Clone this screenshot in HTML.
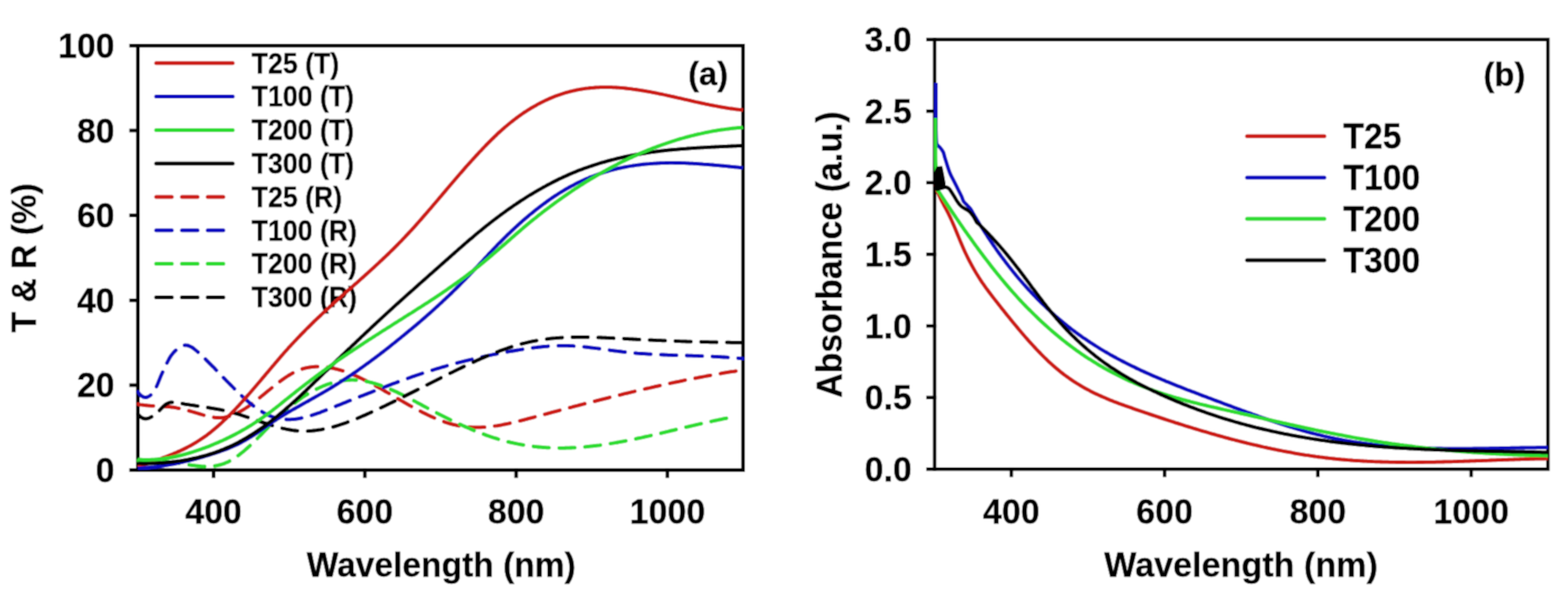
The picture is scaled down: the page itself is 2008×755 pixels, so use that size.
<!DOCTYPE html>
<html><head><meta charset="utf-8"><title>Transmittance, reflectance and absorbance spectra</title>
<style>html,body{margin:0;padding:0;background:#fff;overflow:hidden;}svg{display:block;}</style>
</head><body>
<svg width="2008" height="755" viewBox="0 0 2008 755">
<defs><filter id="soft" x="0" y="0" width="2008" height="755" filterUnits="userSpaceOnUse"><feConvolveMatrix order="3" kernelMatrix="1 2 1 2 4 2 1 2 1" divisor="16" edgeMode="duplicate"/></filter></defs>
<g filter="url(#soft)">
<rect width="2008" height="755" fill="#fff"/>
<defs><clipPath id="ca"><rect x="174.4" y="58.4" width="779.4" height="543.1"/></clipPath>
<clipPath id="cb"><rect x="1193.9" y="50.6" width="788.3" height="549.7"/></clipPath></defs>
<g font-family="Liberation Sans, Arial, Helvetica, sans-serif" font-weight="bold" font-size="34.2" fill="#000" stroke="#000" stroke-width="0.4">
<text transform="translate(322.3,93.5) scale(1,1.065)">T25 (T)</text>
<text transform="translate(322.3,136.3) scale(1,1.065)">T100 (T)</text>
<text transform="translate(322.3,179.1) scale(1,1.065)">T200 (T)</text>
<text transform="translate(322.3,221.9) scale(1,1.065)">T300 (T)</text>
<text transform="translate(322.3,264.7) scale(1,1.065)">T25 (R)</text>
<text transform="translate(322.3,307.5) scale(1,1.065)">T100 (R)</text>
<text transform="translate(322.3,350.3) scale(1,1.065)">T200 (R)</text>
<text transform="translate(322.3,393.1) scale(1,1.065)">T300 (R)</text>
</g>
<line x1="200" y1="80.8" x2="298" y2="80.8" stroke="#cc1a18" stroke-width="5" stroke-linecap="round"/>
<line x1="200" y1="123.6" x2="298" y2="123.6" stroke="#0c0cc0" stroke-width="5" stroke-linecap="round"/>
<line x1="200" y1="166.4" x2="298" y2="166.4" stroke="#2edc30" stroke-width="5" stroke-linecap="round"/>
<line x1="200" y1="209.2" x2="298" y2="209.2" stroke="#000000" stroke-width="5" stroke-linecap="round"/>
<line x1="200" y1="252.0" x2="286" y2="252.0" stroke="#cc1a18" stroke-width="5" stroke-dasharray="20 13" stroke-linecap="round"/>
<line x1="200" y1="294.8" x2="286" y2="294.8" stroke="#0c0cc0" stroke-width="5" stroke-dasharray="20 13" stroke-linecap="round"/>
<line x1="200" y1="337.6" x2="286" y2="337.6" stroke="#2edc30" stroke-width="5" stroke-dasharray="20 13" stroke-linecap="round"/>
<line x1="200" y1="380.4" x2="286" y2="380.4" stroke="#000000" stroke-width="5" stroke-dasharray="20 13" stroke-linecap="round"/>
<g fill="none" stroke="#000" stroke-width="4.7" stroke-linecap="square">
<rect x="176.6" y="58.4" width="775.0" height="543.1"/>
<line x1="168" y1="601.5" x2="176.6" y2="601.5"/>
<line x1="168" y1="492.9" x2="176.6" y2="492.9"/>
<line x1="168" y1="384.3" x2="176.6" y2="384.3"/>
<line x1="168" y1="275.6" x2="176.6" y2="275.6"/>
<line x1="168" y1="167.0" x2="176.6" y2="167.0"/>
<line x1="168" y1="58.4" x2="176.6" y2="58.4"/>
<line x1="273.5" y1="601.5" x2="273.5" y2="609.2"/>
<line x1="467.2" y1="601.5" x2="467.2" y2="609.2"/>
<line x1="661.0" y1="601.5" x2="661.0" y2="609.2"/>
<line x1="854.7" y1="601.5" x2="854.7" y2="609.2"/>
</g>
<g font-family="Liberation Sans, Arial, Helvetica, sans-serif" font-weight="bold" font-size="43.5" fill="#000" stroke="#000" stroke-width="0.4">
<text transform="translate(146.8,617.0) scale(1,1.020)" text-anchor="end">0</text>
<text transform="translate(146.8,508.4) scale(1,1.020)" text-anchor="end">20</text>
<text transform="translate(146.8,399.8) scale(1,1.020)" text-anchor="end">40</text>
<text transform="translate(146.8,291.1) scale(1,1.020)" text-anchor="end">60</text>
<text transform="translate(146.8,182.5) scale(1,1.020)" text-anchor="end">80</text>
<text transform="translate(146.8,73.9) scale(1,1.020)" text-anchor="end">100</text>
<text transform="translate(273.5,670.2) scale(1,1.020)" text-anchor="middle">400</text>
<text transform="translate(467.2,670.2) scale(1,1.020)" text-anchor="middle">600</text>
<text transform="translate(661.0,670.2) scale(1,1.020)" text-anchor="middle">800</text>
<text transform="translate(854.7,670.2) scale(1,1.020)" text-anchor="middle">1000</text>
</g>
<g font-family="Liberation Sans, Arial, Helvetica, sans-serif" font-weight="bold" font-size="43" fill="#000" stroke="#000" stroke-width="0.4">
<text transform="translate(565,738) scale(1,1.03)" text-anchor="middle">Wavelength (nm)</text>
<text transform="translate(46,330) rotate(-90) scale(1,1.05)" text-anchor="middle">T &amp; R (%)</text>
</g>
<g font-family="Liberation Sans, Arial, Helvetica, sans-serif" font-weight="bold" font-size="42" fill="#000" stroke="#000" stroke-width="0.4">
<text x="906.8" y="108.8" text-anchor="middle">(a)</text>
<text x="1926.6" y="110" text-anchor="middle">(b)</text>
</g>
<g fill="none" stroke="#000" stroke-width="4.5" stroke-linecap="square">
<rect x="1196.9" y="50.6" width="785.3" height="549.7"/>
<line x1="1188.5" y1="600.3" x2="1196.9" y2="600.3"/>
<line x1="1188.5" y1="508.7" x2="1196.9" y2="508.7"/>
<line x1="1188.5" y1="417.1" x2="1196.9" y2="417.1"/>
<line x1="1188.5" y1="325.4" x2="1196.9" y2="325.4"/>
<line x1="1188.5" y1="233.8" x2="1196.9" y2="233.8"/>
<line x1="1188.5" y1="142.2" x2="1196.9" y2="142.2"/>
<line x1="1188.5" y1="50.6" x2="1196.9" y2="50.6"/>
<line x1="1295.1" y1="600.3" x2="1295.1" y2="608.2"/>
<line x1="1491.4" y1="600.3" x2="1491.4" y2="608.2"/>
<line x1="1687.7" y1="600.3" x2="1687.7" y2="608.2"/>
<line x1="1884.0" y1="600.3" x2="1884.0" y2="608.2"/>
</g>
<g font-family="Liberation Sans, Arial, Helvetica, sans-serif" font-weight="bold" font-size="43.5" fill="#000" stroke="#000" stroke-width="0.4">
<text transform="translate(1167.8,615.7) scale(1,1.020)" text-anchor="end">0.0</text>
<text transform="translate(1167.8,524.1) scale(1,1.020)" text-anchor="end">0.5</text>
<text transform="translate(1167.8,432.5) scale(1,1.020)" text-anchor="end">1.0</text>
<text transform="translate(1167.8,340.8) scale(1,1.020)" text-anchor="end">1.5</text>
<text transform="translate(1167.8,249.2) scale(1,1.020)" text-anchor="end">2.0</text>
<text transform="translate(1167.8,157.6) scale(1,1.020)" text-anchor="end">2.5</text>
<text transform="translate(1167.8,66.0) scale(1,1.020)" text-anchor="end">3.0</text>
<text transform="translate(1295.1,670.2) scale(1,1.020)" text-anchor="middle">400</text>
<text transform="translate(1491.4,670.2) scale(1,1.020)" text-anchor="middle">600</text>
<text transform="translate(1687.7,670.2) scale(1,1.020)" text-anchor="middle">800</text>
<text transform="translate(1884.0,670.2) scale(1,1.020)" text-anchor="middle">1000</text>
</g>
<g font-family="Liberation Sans, Arial, Helvetica, sans-serif" font-weight="bold" font-size="43" fill="#000" stroke="#000" stroke-width="0.4">
<text transform="translate(1589.3,738) scale(1,1.03)" text-anchor="middle" font-size="43.7">Wavelength (nm)</text>
<text transform="translate(1077.8,325.8) rotate(-90) scale(1,1.05)" text-anchor="middle" font-size="43.4">Absorbance (a.u.)</text>
</g>
<g font-family="Liberation Sans, Arial, Helvetica, sans-serif" font-weight="bold" font-size="43.2" fill="#000" stroke="#000" stroke-width="0.4">
<text transform="translate(1720.3,190.3) scale(1,1.055)">T25</text>
<text transform="translate(1720.3,243.2) scale(1,1.055)">T100</text>
<text transform="translate(1720.3,296.1) scale(1,1.055)">T200</text>
<text transform="translate(1720.3,349.0) scale(1,1.055)">T300</text>
</g>
<line x1="1597" y1="174.3" x2="1696" y2="174.3" stroke="#cc1a18" stroke-width="5" stroke-linecap="round"/>
<line x1="1597" y1="227.2" x2="1696" y2="227.2" stroke="#0c0cc0" stroke-width="5" stroke-linecap="round"/>
<line x1="1597" y1="280.1" x2="1696" y2="280.1" stroke="#2edc30" stroke-width="5" stroke-linecap="round"/>
<line x1="1597" y1="333.0" x2="1696" y2="333.0" stroke="#000000" stroke-width="5" stroke-linecap="round"/>
<g clip-path="url(#ca)" fill="none" stroke-width="4.8" stroke-linejoin="round">
<path d="M176.6,517.2 C177.1,517.3 178.6,517.6 179.6,517.8 C180.6,517.9 181.6,518.1 182.6,518.2 C183.6,518.4 184.6,518.5 185.6,518.6 C186.6,518.7 187.6,518.8 188.6,518.9 C189.6,519.0 190.6,519.1 191.6,519.1 C192.6,519.2 193.6,519.3 194.6,519.3 C195.6,519.4 196.6,519.4 197.6,519.5 C198.6,519.5 199.6,519.6 200.6,519.6 C201.6,519.7 202.6,519.7 203.6,519.8 C204.6,519.8 205.6,519.9 206.6,519.9 C207.6,520.0 208.6,520.0 209.6,520.1 C210.6,520.1 211.6,520.2 212.6,520.3 C213.6,520.4 214.6,520.4 215.7,520.5 C216.7,520.6 217.7,520.7 218.7,520.8 C219.7,521.0 220.7,521.1 221.7,521.2 C222.7,521.4 223.7,521.5 224.7,521.7 C225.7,521.9 226.7,522.1 227.7,522.3 C228.7,522.5 229.7,522.7 230.7,522.9 C231.7,523.1 232.7,523.3 233.7,523.6 C234.7,523.8 235.7,524.1 236.7,524.3 C237.7,524.6 238.7,524.8 239.7,525.1 C240.7,525.4 241.7,525.6 242.7,525.9 C243.7,526.2 244.7,526.5 245.7,526.8 C246.7,527.1 247.7,527.4 248.7,527.6 C249.7,527.9 250.7,528.2 251.7,528.5 C252.7,528.8 253.7,529.1 254.7,529.4 C255.7,529.7 256.7,530.0 257.7,530.3 C258.7,530.6 259.7,530.9 260.7,531.2 C261.7,531.5 262.7,531.7 263.7,532.0 C264.7,532.2 265.7,532.5 266.7,532.7 C267.7,532.9 268.7,533.2 269.7,533.4 C270.7,533.5 271.7,533.7 272.7,533.9 C273.7,534.0 274.7,534.2 275.7,534.3 C276.7,534.4 277.7,534.5 278.7,534.5 C279.7,534.6 280.7,534.6 281.7,534.6 C282.7,534.6 283.7,534.5 284.7,534.4 C285.7,534.3 286.7,534.2 287.7,534.0 C288.7,533.8 289.7,533.6 290.7,533.4 C291.7,533.2 292.7,532.9 293.8,532.6 C294.8,532.3 295.8,532.0 296.8,531.6 C297.8,531.2 298.8,530.8 299.8,530.4 C300.8,530.0 301.8,529.5 302.8,529.1 C303.8,528.6 304.8,528.1 305.8,527.5 C306.8,527.0 307.8,526.5 308.8,525.9 C309.8,525.3 310.8,524.7 311.8,524.1 C312.8,523.5 313.8,522.8 314.8,522.2 C315.8,521.5 316.8,520.9 317.8,520.2 C318.8,519.5 319.8,518.8 320.8,518.0 C321.8,517.3 322.8,516.6 323.8,515.8 C324.8,515.1 325.8,514.3 326.8,513.5 C327.8,512.8 328.8,512.0 329.8,511.2 C330.8,510.4 331.8,509.6 332.8,508.8 C333.8,508.0 334.8,507.2 335.8,506.3 C336.8,505.5 337.8,504.7 338.8,503.9 C339.8,503.1 340.8,502.2 341.8,501.4 C342.8,500.6 343.8,499.8 344.8,499.0 C345.8,498.1 346.8,497.3 347.8,496.5 C348.8,495.7 349.8,494.9 350.8,494.1 C351.8,493.3 352.8,492.5 353.8,491.7 C354.8,490.9 355.8,490.2 356.8,489.4 C357.8,488.6 358.8,487.9 359.8,487.2 C360.8,486.4 361.8,485.7 362.8,485.0 C363.8,484.3 364.8,483.6 365.8,482.9 C366.8,482.3 367.8,481.6 368.8,481.0 C369.8,480.3 370.9,479.7 371.9,479.1 C372.9,478.5 373.9,478.0 374.9,477.4 C375.9,476.9 376.9,476.4 377.9,475.9 C378.9,475.4 379.9,474.9 380.9,474.5 C381.9,474.1 382.9,473.6 383.9,473.3 C384.9,472.9 385.9,472.5 386.9,472.2 C387.9,471.9 388.9,471.6 389.9,471.3 C390.9,471.1 391.9,470.8 392.9,470.6 C393.9,470.4 394.9,470.2 395.9,470.0 C396.9,469.9 397.9,469.7 398.9,469.6 C399.9,469.5 400.9,469.4 401.9,469.3 C402.9,469.3 403.9,469.2 404.9,469.2 C405.9,469.1 406.9,469.1 407.9,469.1 C408.9,469.1 409.9,469.2 410.9,469.2 C411.9,469.3 412.9,469.3 413.9,469.4 C414.9,469.5 415.9,469.6 416.9,469.7 C417.9,469.8 418.9,469.9 419.9,470.1 C420.9,470.2 421.9,470.4 422.9,470.6 C423.9,470.7 424.9,470.9 425.9,471.1 C426.9,471.3 427.9,471.6 428.9,471.8 C429.9,472.0 430.9,472.3 431.9,472.5 C432.9,472.8 433.9,473.1 434.9,473.4 C435.9,473.7 436.9,474.0 437.9,474.3 C438.9,474.6 439.9,474.9 440.9,475.3 C441.9,475.6 442.9,475.9 443.9,476.3 C444.9,476.7 445.9,477.0 446.9,477.4 C448.0,477.8 449.0,478.2 450.0,478.6 C451.0,479.0 452.0,479.4 453.0,479.8 C454.0,480.3 455.0,480.7 456.0,481.1 C457.0,481.6 458.0,482.0 459.0,482.5 C460.0,483.0 461.0,483.4 462.0,483.9 C463.0,484.4 464.0,484.9 465.0,485.4 C466.0,485.8 467.0,486.3 468.0,486.8 C469.0,487.4 470.0,487.9 471.0,488.4 C472.0,488.9 473.0,489.4 474.0,490.0 C475.0,490.5 476.0,491.0 477.0,491.6 C478.0,492.1 479.0,492.6 480.0,493.2 C481.0,493.7 482.0,494.3 483.0,494.9 C484.0,495.4 485.0,496.0 486.0,496.5 C487.0,497.1 488.0,497.7 489.0,498.2 C490.0,498.8 491.0,499.4 492.0,500.0 C493.0,500.5 494.0,501.1 495.0,501.7 C496.0,502.3 497.0,502.9 498.0,503.4 C499.0,504.0 500.0,504.6 501.0,505.2 C502.0,505.8 503.0,506.4 504.0,506.9 C505.0,507.5 506.0,508.1 507.0,508.7 C508.0,509.3 509.0,509.9 510.0,510.5 C511.0,511.0 512.0,511.6 513.0,512.2 C514.0,512.8 515.0,513.4 516.0,513.9 C517.0,514.5 518.0,515.1 519.0,515.7 C520.0,516.2 521.0,516.8 522.0,517.4 C523.0,517.9 524.0,518.5 525.0,519.1 C526.1,519.6 527.1,520.2 528.1,520.7 C529.1,521.3 530.1,521.8 531.1,522.4 C532.1,522.9 533.1,523.5 534.1,524.0 C535.1,524.5 536.1,525.1 537.1,525.6 C538.1,526.1 539.1,526.6 540.1,527.1 C541.1,527.7 542.1,528.2 543.1,528.7 C544.1,529.2 545.1,529.7 546.1,530.1 C547.1,530.6 548.1,531.1 549.1,531.6 C550.1,532.1 551.1,532.5 552.1,533.0 C553.1,533.4 554.1,533.9 555.1,534.3 C556.1,534.8 557.1,535.2 558.1,535.6 C559.1,536.0 560.1,536.4 561.1,536.8 C562.1,537.2 563.1,537.6 564.1,538.0 C565.1,538.4 566.1,538.8 567.1,539.1 C568.1,539.5 569.1,539.8 570.1,540.2 C571.1,540.5 572.1,540.9 573.1,541.2 C574.1,541.5 575.1,541.8 576.1,542.1 C577.1,542.4 578.1,542.7 579.1,542.9 C580.1,543.2 581.1,543.4 582.1,543.7 C583.1,543.9 584.1,544.1 585.1,544.4 C586.1,544.6 587.1,544.8 588.1,545.0 C589.1,545.1 590.1,545.3 591.1,545.5 C592.1,545.6 593.1,545.8 594.1,545.9 C595.1,546.0 596.1,546.1 597.1,546.3 C598.1,546.4 599.1,546.4 600.1,546.5 C601.1,546.6 602.1,546.7 603.2,546.7 C604.2,546.8 605.2,546.8 606.2,546.9 C607.2,546.9 608.2,546.9 609.2,546.9 C610.2,546.9 611.2,546.9 612.2,546.9 C613.2,546.9 614.2,546.9 615.2,546.8 C616.2,546.8 617.2,546.8 618.2,546.7 C619.2,546.6 620.2,546.6 621.2,546.5 C622.2,546.4 623.2,546.4 624.2,546.3 C625.2,546.2 626.2,546.1 627.2,546.0 C628.2,545.9 629.2,545.7 630.2,545.6 C631.2,545.5 632.2,545.4 633.2,545.2 C634.2,545.1 635.2,544.9 636.2,544.8 C637.2,544.6 638.2,544.5 639.2,544.3 C640.2,544.1 641.2,543.9 642.2,543.8 C643.2,543.6 644.2,543.4 645.2,543.2 C646.2,543.0 647.2,542.8 648.2,542.6 C649.2,542.4 650.2,542.2 651.2,542.0 C652.2,541.8 653.2,541.5 654.2,541.3 C655.2,541.1 656.2,540.9 657.2,540.6 C658.2,540.4 659.2,540.2 660.2,539.9 C661.2,539.7 662.2,539.4 663.2,539.2 C664.2,538.9 665.2,538.7 666.2,538.4 C667.2,538.2 668.2,537.9 669.2,537.7 C670.2,537.4 671.2,537.2 672.2,536.9 C673.2,536.6 674.2,536.4 675.2,536.1 C676.2,535.8 677.2,535.6 678.2,535.3 C679.2,535.0 680.2,534.8 681.3,534.5 C682.3,534.2 683.3,534.0 684.3,533.7 C685.3,533.4 686.3,533.2 687.3,532.9 C688.3,532.6 689.3,532.4 690.3,532.1 C691.3,531.8 692.3,531.6 693.3,531.3 C694.3,531.0 695.3,530.8 696.3,530.5 C697.3,530.2 698.3,530.0 699.3,529.7 C700.3,529.4 701.3,529.2 702.3,528.9 C703.3,528.6 704.3,528.4 705.3,528.1 C706.3,527.8 707.3,527.6 708.3,527.3 C709.3,527.0 710.3,526.8 711.3,526.5 C712.3,526.2 713.3,526.0 714.3,525.7 C715.3,525.4 716.3,525.2 717.3,524.9 C718.3,524.6 719.3,524.4 720.3,524.1 C721.3,523.8 722.3,523.6 723.3,523.3 C724.3,523.1 725.3,522.8 726.3,522.5 C727.3,522.3 728.3,522.0 729.3,521.7 C730.3,521.5 731.3,521.2 732.3,521.0 C733.3,520.7 734.3,520.4 735.3,520.2 C736.3,519.9 737.3,519.6 738.3,519.4 C739.3,519.1 740.3,518.9 741.3,518.6 C742.3,518.3 743.3,518.1 744.3,517.8 C745.3,517.6 746.3,517.3 747.3,517.0 C748.3,516.8 749.3,516.5 750.3,516.3 C751.3,516.0 752.3,515.8 753.3,515.5 C754.3,515.2 755.3,515.0 756.3,514.7 C757.3,514.5 758.4,514.2 759.4,514.0 C760.4,513.7 761.4,513.5 762.4,513.2 C763.4,512.9 764.4,512.7 765.4,512.4 C766.4,512.2 767.4,511.9 768.4,511.7 C769.4,511.4 770.4,511.2 771.4,510.9 C772.4,510.7 773.4,510.4 774.4,510.2 C775.4,509.9 776.4,509.7 777.4,509.4 C778.4,509.2 779.4,508.9 780.4,508.7 C781.4,508.4 782.4,508.2 783.4,507.9 C784.4,507.7 785.4,507.4 786.4,507.2 C787.4,506.9 788.4,506.7 789.4,506.4 C790.4,506.2 791.4,505.9 792.4,505.7 C793.4,505.5 794.4,505.2 795.4,505.0 C796.4,504.7 797.4,504.5 798.4,504.2 C799.4,504.0 800.4,503.8 801.4,503.5 C802.4,503.3 803.4,503.0 804.4,502.8 C805.4,502.5 806.4,502.3 807.4,502.1 C808.4,501.8 809.4,501.6 810.4,501.4 C811.4,501.1 812.4,500.9 813.4,500.6 C814.4,500.4 815.4,500.2 816.4,499.9 C817.4,499.7 818.4,499.5 819.4,499.2 C820.4,499.0 821.4,498.8 822.4,498.5 C823.4,498.3 824.4,498.1 825.4,497.8 C826.4,497.6 827.4,497.4 828.4,497.1 C829.4,496.9 830.4,496.7 831.4,496.5 C832.4,496.2 833.4,496.0 834.4,495.8 C835.5,495.6 836.5,495.3 837.5,495.1 C838.5,494.9 839.5,494.7 840.5,494.4 C841.5,494.2 842.5,494.0 843.5,493.8 C844.5,493.5 845.5,493.3 846.5,493.1 C847.5,492.9 848.5,492.7 849.5,492.4 C850.5,492.2 851.5,492.0 852.5,491.8 C853.5,491.6 854.5,491.3 855.5,491.1 C856.5,490.9 857.5,490.7 858.5,490.5 C859.5,490.3 860.5,490.1 861.5,489.8 C862.5,489.6 863.5,489.4 864.5,489.2 C865.5,489.0 866.5,488.8 867.5,488.6 C868.5,488.4 869.5,488.2 870.5,488.0 C871.5,487.8 872.5,487.5 873.5,487.3 C874.5,487.1 875.5,486.9 876.5,486.7 C877.5,486.5 878.5,486.3 879.5,486.1 C880.5,485.9 881.5,485.7 882.5,485.5 C883.5,485.3 884.5,485.1 885.5,484.9 C886.5,484.7 887.5,484.5 888.5,484.3 C889.5,484.1 890.5,483.9 891.5,483.8 C892.5,483.6 893.5,483.4 894.5,483.2 C895.5,483.0 896.5,482.8 897.5,482.6 C898.5,482.4 899.5,482.2 900.5,482.0 C901.5,481.8 902.5,481.7 903.5,481.5 C904.5,481.3 905.5,481.1 906.5,480.9 C907.5,480.7 908.5,480.6 909.5,480.4 C910.5,480.2 911.5,480.0 912.5,479.8 C913.6,479.6 914.6,479.5 915.6,479.3 C916.6,479.1 917.6,478.9 918.6,478.8 C919.6,478.6 920.6,478.4 921.6,478.2 C922.6,478.1 923.6,477.9 924.6,477.7 C925.6,477.6 926.6,477.4 927.6,477.2 C928.6,477.1 929.6,476.9 930.6,476.7 C931.6,476.6 932.6,476.4 933.6,476.2 C934.6,476.1 935.6,475.9 936.6,475.7 C937.6,475.6 938.6,475.4 939.6,475.3 C940.6,475.1 941.6,474.9 942.6,474.8 C943.6,474.6 944.6,474.5 945.6,474.3 C946.6,474.2 947.6,474.0 948.6,473.9 C949.6,473.7 951.1,473.5 951.6,473.4" stroke="#cc1a18" stroke-dasharray="20 13" stroke-linecap="round"/>
<path d="M176.6,501.5 C177.1,502.1 178.6,504.2 179.6,505.2 C180.6,506.2 181.6,506.9 182.6,507.5 C183.6,508.0 184.6,508.3 185.6,508.5 C186.6,508.6 187.6,508.4 188.6,508.1 C189.6,507.8 190.6,507.3 191.6,506.6 C192.6,505.9 193.6,505.0 194.6,503.8 C195.6,502.7 196.6,501.5 197.6,499.9 C198.6,498.3 199.6,496.5 200.6,494.3 C201.6,492.2 202.6,489.5 203.6,487.1 C204.6,484.6 205.6,482.0 206.6,479.8 C207.6,477.5 208.6,475.6 209.6,473.5 C210.6,471.4 211.6,469.3 212.6,467.2 C213.6,465.1 214.6,462.8 215.7,460.9 C216.7,459.0 217.7,457.2 218.7,455.7 C219.7,454.2 220.7,452.9 221.7,451.7 C222.7,450.5 223.7,449.5 224.7,448.6 C225.7,447.7 226.7,446.9 227.7,446.2 C228.7,445.4 229.7,444.8 230.7,444.2 C231.7,443.6 232.7,443.0 233.7,442.6 C234.7,442.2 235.7,442.0 236.7,441.8 C237.7,441.7 238.7,441.8 239.7,442.0 C240.7,442.1 241.7,442.5 242.7,442.9 C243.7,443.3 244.7,443.8 245.7,444.4 C246.7,445.0 247.7,445.8 248.7,446.5 C249.7,447.3 250.7,448.1 251.7,449.0 C252.7,449.8 253.7,450.7 254.7,451.6 C255.7,452.6 256.7,453.5 257.7,454.4 C258.7,455.4 259.7,456.3 260.7,457.3 C261.7,458.2 262.7,459.2 263.7,460.2 C264.7,461.2 265.7,462.2 266.7,463.2 C267.7,464.2 268.7,465.2 269.7,466.2 C270.7,467.2 271.7,468.2 272.7,469.2 C273.7,470.3 274.7,471.3 275.7,472.3 C276.7,473.4 277.7,474.4 278.7,475.4 C279.7,476.5 280.7,477.5 281.7,478.6 C282.7,479.6 283.7,480.6 284.7,481.7 C285.7,482.7 286.7,483.8 287.7,484.8 C288.7,485.8 289.7,486.9 290.7,487.9 C291.7,488.9 292.7,490.0 293.8,491.0 C294.8,492.0 295.8,493.0 296.8,494.0 C297.8,495.1 298.8,496.1 299.8,497.1 C300.8,498.1 301.8,499.1 302.8,500.0 C303.8,501.0 304.8,502.0 305.8,502.9 C306.8,503.9 307.8,504.9 308.8,505.8 C309.8,506.7 310.8,507.7 311.8,508.6 C312.8,509.5 313.8,510.4 314.8,511.3 C315.8,512.1 316.8,513.0 317.8,513.9 C318.8,514.7 319.8,515.5 320.8,516.4 C321.8,517.2 322.8,518.0 323.8,518.8 C324.8,519.5 325.8,520.3 326.8,521.0 C327.8,521.8 328.8,522.5 329.8,523.2 C330.8,523.9 331.8,524.6 332.8,525.2 C333.8,525.9 334.8,526.5 335.8,527.1 C336.8,527.7 337.8,528.3 338.8,528.8 C339.8,529.4 340.8,529.9 341.8,530.4 C342.8,530.9 343.8,531.3 344.8,531.8 C345.8,532.2 346.8,532.6 347.8,533.0 C348.8,533.4 349.8,533.7 350.8,534.0 C351.8,534.3 352.8,534.6 353.8,534.9 C354.8,535.1 355.8,535.4 356.8,535.6 C357.8,535.8 358.8,536.0 359.8,536.1 C360.8,536.3 361.8,536.4 362.8,536.5 C363.8,536.6 364.8,536.7 365.8,536.7 C366.8,536.8 367.8,536.8 368.8,536.8 C369.8,536.8 370.9,536.8 371.9,536.8 C372.9,536.7 373.9,536.7 374.9,536.6 C375.9,536.5 376.9,536.4 377.9,536.3 C378.9,536.2 379.9,536.0 380.9,535.9 C381.9,535.7 382.9,535.6 383.9,535.4 C384.9,535.2 385.9,535.0 386.9,534.8 C387.9,534.6 388.9,534.4 389.9,534.1 C390.9,533.9 391.9,533.6 392.9,533.3 C393.9,533.1 394.9,532.8 395.9,532.5 C396.9,532.2 397.9,531.9 398.9,531.6 C399.9,531.3 400.9,530.9 401.9,530.6 C402.9,530.3 403.9,529.9 404.9,529.6 C405.9,529.2 406.9,528.9 407.9,528.5 C408.9,528.2 409.9,527.8 410.9,527.4 C411.9,527.0 412.9,526.7 413.9,526.3 C414.9,525.9 415.9,525.5 416.9,525.1 C417.9,524.7 418.9,524.3 419.9,523.9 C420.9,523.5 421.9,523.1 422.9,522.7 C423.9,522.3 424.9,521.9 425.9,521.5 C426.9,521.1 427.9,520.7 428.9,520.3 C429.9,519.9 430.9,519.5 431.9,519.1 C432.9,518.7 433.9,518.3 434.9,517.9 C435.9,517.5 436.9,517.1 437.9,516.7 C438.9,516.3 439.9,515.9 440.9,515.5 C441.9,515.1 442.9,514.7 443.9,514.3 C444.9,513.9 445.9,513.5 446.9,513.1 C448.0,512.7 449.0,512.3 450.0,511.9 C451.0,511.5 452.0,511.1 453.0,510.7 C454.0,510.3 455.0,509.9 456.0,509.5 C457.0,509.1 458.0,508.7 459.0,508.3 C460.0,507.9 461.0,507.5 462.0,507.1 C463.0,506.7 464.0,506.3 465.0,505.9 C466.0,505.5 467.0,505.1 468.0,504.7 C469.0,504.3 470.0,503.9 471.0,503.6 C472.0,503.2 473.0,502.8 474.0,502.4 C475.0,502.0 476.0,501.6 477.0,501.2 C478.0,500.8 479.0,500.4 480.0,500.0 C481.0,499.6 482.0,499.2 483.0,498.8 C484.0,498.4 485.0,498.1 486.0,497.7 C487.0,497.3 488.0,496.9 489.0,496.5 C490.0,496.1 491.0,495.7 492.0,495.3 C493.0,495.0 494.0,494.6 495.0,494.2 C496.0,493.8 497.0,493.4 498.0,493.1 C499.0,492.7 500.0,492.3 501.0,491.9 C502.0,491.5 503.0,491.2 504.0,490.8 C505.0,490.4 506.0,490.0 507.0,489.7 C508.0,489.3 509.0,488.9 510.0,488.6 C511.0,488.2 512.0,487.8 513.0,487.5 C514.0,487.1 515.0,486.7 516.0,486.4 C517.0,486.0 518.0,485.7 519.0,485.3 C520.0,484.9 521.0,484.6 522.0,484.2 C523.0,483.9 524.0,483.5 525.0,483.2 C526.1,482.8 527.1,482.5 528.1,482.1 C529.1,481.8 530.1,481.4 531.1,481.1 C532.1,480.7 533.1,480.4 534.1,480.0 C535.1,479.7 536.1,479.4 537.1,479.0 C538.1,478.7 539.1,478.4 540.1,478.0 C541.1,477.7 542.1,477.4 543.1,477.0 C544.1,476.7 545.1,476.4 546.1,476.1 C547.1,475.8 548.1,475.4 549.1,475.1 C550.1,474.8 551.1,474.5 552.1,474.2 C553.1,473.9 554.1,473.5 555.1,473.2 C556.1,472.9 557.1,472.6 558.1,472.3 C559.1,472.0 560.1,471.7 561.1,471.4 C562.1,471.1 563.1,470.8 564.1,470.5 C565.1,470.2 566.1,469.9 567.1,469.6 C568.1,469.3 569.1,469.0 570.1,468.8 C571.1,468.5 572.1,468.2 573.1,467.9 C574.1,467.6 575.1,467.3 576.1,467.1 C577.1,466.8 578.1,466.5 579.1,466.2 C580.1,465.9 581.1,465.7 582.1,465.4 C583.1,465.1 584.1,464.9 585.1,464.6 C586.1,464.3 587.1,464.1 588.1,463.8 C589.1,463.5 590.1,463.3 591.1,463.0 C592.1,462.8 593.1,462.5 594.1,462.3 C595.1,462.0 596.1,461.8 597.1,461.5 C598.1,461.3 599.1,461.0 600.1,460.8 C601.1,460.5 602.1,460.3 603.2,460.0 C604.2,459.8 605.2,459.5 606.2,459.3 C607.2,459.1 608.2,458.8 609.2,458.6 C610.2,458.4 611.2,458.1 612.2,457.9 C613.2,457.7 614.2,457.5 615.2,457.2 C616.2,457.0 617.2,456.8 618.2,456.6 C619.2,456.3 620.2,456.1 621.2,455.9 C622.2,455.7 623.2,455.5 624.2,455.3 C625.2,455.0 626.2,454.8 627.2,454.6 C628.2,454.4 629.2,454.2 630.2,454.0 C631.2,453.8 632.2,453.6 633.2,453.4 C634.2,453.2 635.2,453.0 636.2,452.8 C637.2,452.6 638.2,452.4 639.2,452.2 C640.2,452.0 641.2,451.8 642.2,451.7 C643.2,451.5 644.2,451.3 645.2,451.1 C646.2,450.9 647.2,450.7 648.2,450.5 C649.2,450.4 650.2,450.2 651.2,450.0 C652.2,449.8 653.2,449.7 654.2,449.5 C655.2,449.3 656.2,449.1 657.2,449.0 C658.2,448.8 659.2,448.6 660.2,448.5 C661.2,448.3 662.2,448.1 663.2,448.0 C664.2,447.8 665.2,447.7 666.2,447.5 C667.2,447.4 668.2,447.2 669.2,447.0 C670.2,446.9 671.2,446.7 672.2,446.6 C673.2,446.4 674.2,446.3 675.2,446.1 C676.2,446.0 677.2,445.9 678.2,445.7 C679.2,445.6 680.2,445.4 681.3,445.3 C682.3,445.2 683.3,445.0 684.3,444.9 C685.3,444.8 686.3,444.7 687.3,444.5 C688.3,444.4 689.3,444.3 690.3,444.2 C691.3,444.1 692.3,444.0 693.3,443.8 C694.3,443.7 695.3,443.6 696.3,443.5 C697.3,443.4 698.3,443.4 699.3,443.3 C700.3,443.2 701.3,443.1 702.3,443.0 C703.3,442.9 704.3,442.9 705.3,442.8 C706.3,442.7 707.3,442.7 708.3,442.6 C709.3,442.6 710.3,442.5 711.3,442.5 C712.3,442.4 713.3,442.4 714.3,442.4 C715.3,442.3 716.3,442.3 717.3,442.3 C718.3,442.3 719.3,442.3 720.3,442.3 C721.3,442.3 722.3,442.3 723.3,442.3 C724.3,442.3 725.3,442.3 726.3,442.4 C727.3,442.4 728.3,442.4 729.3,442.5 C730.3,442.5 731.3,442.6 732.3,442.6 C733.3,442.7 734.3,442.7 735.3,442.8 C736.3,442.8 737.3,442.9 738.3,443.0 C739.3,443.1 740.3,443.1 741.3,443.2 C742.3,443.3 743.3,443.4 744.3,443.5 C745.3,443.6 746.3,443.7 747.3,443.8 C748.3,443.9 749.3,444.0 750.3,444.1 C751.3,444.2 752.3,444.3 753.3,444.4 C754.3,444.5 755.3,444.7 756.3,444.8 C757.3,444.9 758.4,445.0 759.4,445.2 C760.4,445.3 761.4,445.4 762.4,445.5 C763.4,445.7 764.4,445.8 765.4,445.9 C766.4,446.1 767.4,446.2 768.4,446.3 C769.4,446.5 770.4,446.6 771.4,446.7 C772.4,446.9 773.4,447.0 774.4,447.1 C775.4,447.3 776.4,447.4 777.4,447.6 C778.4,447.7 779.4,447.8 780.4,448.0 C781.4,448.1 782.4,448.2 783.4,448.4 C784.4,448.5 785.4,448.7 786.4,448.8 C787.4,448.9 788.4,449.0 789.4,449.2 C790.4,449.3 791.4,449.4 792.4,449.6 C793.4,449.7 794.4,449.8 795.4,449.9 C796.4,450.1 797.4,450.2 798.4,450.3 C799.4,450.4 800.4,450.5 801.4,450.6 C802.4,450.7 803.4,450.8 804.4,450.9 C805.4,451.1 806.4,451.2 807.4,451.3 C808.4,451.4 809.4,451.4 810.4,451.5 C811.4,451.6 812.4,451.7 813.4,451.8 C814.4,451.9 815.4,452.0 816.4,452.1 C817.4,452.1 818.4,452.2 819.4,452.3 C820.4,452.4 821.4,452.5 822.4,452.5 C823.4,452.6 824.4,452.7 825.4,452.7 C826.4,452.8 827.4,452.9 828.4,452.9 C829.4,453.0 830.4,453.1 831.4,453.1 C832.4,453.2 833.4,453.2 834.4,453.3 C835.5,453.3 836.5,453.4 837.5,453.5 C838.5,453.5 839.5,453.6 840.5,453.6 C841.5,453.7 842.5,453.7 843.5,453.8 C844.5,453.8 845.5,453.8 846.5,453.9 C847.5,453.9 848.5,454.0 849.5,454.0 C850.5,454.1 851.5,454.1 852.5,454.1 C853.5,454.2 854.5,454.2 855.5,454.3 C856.5,454.3 857.5,454.3 858.5,454.4 C859.5,454.4 860.5,454.4 861.5,454.5 C862.5,454.5 863.5,454.5 864.5,454.6 C865.5,454.6 866.5,454.6 867.5,454.7 C868.5,454.7 869.5,454.7 870.5,454.8 C871.5,454.8 872.5,454.8 873.5,454.9 C874.5,454.9 875.5,454.9 876.5,454.9 C877.5,455.0 878.5,455.0 879.5,455.0 C880.5,455.1 881.5,455.1 882.5,455.1 C883.5,455.2 884.5,455.2 885.5,455.2 C886.5,455.3 887.5,455.3 888.5,455.3 C889.5,455.3 890.5,455.4 891.5,455.4 C892.5,455.4 893.5,455.5 894.5,455.5 C895.5,455.5 896.5,455.6 897.5,455.6 C898.5,455.7 899.5,455.7 900.5,455.7 C901.5,455.8 902.5,455.8 903.5,455.8 C904.5,455.9 905.5,455.9 906.5,456.0 C907.5,456.0 908.5,456.0 909.5,456.1 C910.5,456.1 911.5,456.2 912.5,456.2 C913.6,456.3 914.6,456.3 915.6,456.4 C916.6,456.4 917.6,456.5 918.6,456.5 C919.6,456.6 920.6,456.6 921.6,456.7 C922.6,456.7 923.6,456.8 924.6,456.8 C925.6,456.9 926.6,457.0 927.6,457.0 C928.6,457.1 929.6,457.1 930.6,457.2 C931.6,457.3 932.6,457.3 933.6,457.4 C934.6,457.5 935.6,457.6 936.6,457.6 C937.6,457.7 938.6,457.8 939.6,457.9 C940.6,457.9 941.6,458.0 942.6,458.1 C943.6,458.2 944.6,458.3 945.6,458.4 C946.6,458.5 947.6,458.6 948.6,458.6 C949.6,458.7 951.1,458.9 951.6,458.9" stroke="#0c0cc0" stroke-dasharray="20 13" stroke-linecap="round"/>
<path d="M176.6,589.4 C177.1,589.4 178.6,589.3 179.6,589.3 C180.6,589.2 181.6,589.2 182.6,589.1 C183.6,589.1 184.6,589.1 185.6,589.1 C186.6,589.1 187.6,589.1 188.6,589.1 C189.6,589.1 190.6,589.1 191.6,589.1 C192.6,589.1 193.6,589.2 194.6,589.2 C195.6,589.2 196.6,589.3 197.6,589.3 C198.6,589.4 199.6,589.5 200.6,589.5 C201.6,589.6 202.6,589.7 203.6,589.8 C204.6,589.8 205.6,589.9 206.6,590.0 C207.6,590.1 208.6,590.2 209.6,590.3 C210.6,590.4 211.6,590.5 212.6,590.6 C213.6,590.8 214.6,590.9 215.6,591.0 C216.6,591.1 217.6,591.2 218.6,591.4 C219.6,591.5 220.6,591.6 221.6,591.8 C222.6,591.9 223.6,592.0 224.6,592.2 C225.6,592.3 226.6,592.5 227.6,592.6 C228.6,592.8 229.6,592.9 230.6,593.1 C231.6,593.2 232.6,593.4 233.6,593.5 C234.6,593.7 235.6,593.8 236.6,594.0 C237.6,594.1 238.6,594.3 239.6,594.4 C240.6,594.6 241.6,594.7 242.6,594.9 C243.6,595.0 244.6,595.2 245.6,595.3 C246.6,595.5 247.6,595.6 248.6,595.7 C249.6,595.9 250.6,596.0 251.6,596.1 C252.6,596.2 253.6,596.3 254.6,596.4 C255.6,596.5 256.6,596.6 257.6,596.7 C258.6,596.7 259.6,596.8 260.6,596.9 C261.6,596.9 262.6,596.9 263.6,596.9 C264.6,597.0 265.6,596.9 266.6,596.9 C267.6,596.9 268.6,596.9 269.6,596.8 C270.6,596.7 271.6,596.6 272.6,596.5 C273.6,596.4 274.6,596.3 275.6,596.2 C276.6,596.0 277.6,595.8 278.6,595.6 C279.6,595.4 280.6,595.2 281.6,594.9 C282.6,594.6 283.6,594.4 284.6,594.0 C285.6,593.7 286.6,593.4 287.6,593.0 C288.6,592.6 289.6,592.2 290.6,591.7 C291.6,591.3 292.6,590.8 293.6,590.2 C294.6,589.7 295.6,589.2 296.6,588.6 C297.6,588.0 298.6,587.4 299.6,586.7 C300.6,586.1 301.6,585.4 302.6,584.7 C303.6,584.0 304.6,583.3 305.6,582.6 C306.6,581.8 307.6,581.0 308.6,580.2 C309.6,579.4 310.6,578.6 311.6,577.8 C312.6,577.0 313.6,576.1 314.6,575.2 C315.6,574.4 316.6,573.5 317.6,572.6 C318.6,571.7 319.6,570.7 320.6,569.8 C321.6,568.9 322.6,567.9 323.6,566.9 C324.6,566.0 325.6,565.0 326.6,564.0 C327.6,563.0 328.6,562.1 329.6,561.1 C330.6,560.1 331.6,559.1 332.6,558.0 C333.6,557.0 334.6,556.0 335.6,555.0 C336.6,554.0 337.6,553.0 338.6,551.9 C339.6,550.9 340.6,549.9 341.6,548.9 C342.6,547.8 343.6,546.8 344.6,545.8 C345.6,544.8 346.6,543.8 347.6,542.8 C348.6,541.8 349.6,540.7 350.6,539.8 C351.6,538.8 352.6,537.8 353.6,536.8 C354.6,535.8 355.6,534.8 356.6,533.9 C357.6,532.9 358.6,532.0 359.6,531.0 C360.6,530.1 361.6,529.2 362.6,528.3 C363.6,527.4 364.6,526.5 365.6,525.6 C366.6,524.7 367.6,523.9 368.6,523.0 C369.6,522.2 370.6,521.3 371.6,520.5 C372.6,519.7 373.6,518.8 374.6,518.0 C375.6,517.2 376.6,516.5 377.6,515.7 C378.6,514.9 379.6,514.2 380.6,513.4 C381.6,512.7 382.6,511.9 383.6,511.2 C384.6,510.5 385.6,509.8 386.6,509.1 C387.6,508.4 388.6,507.8 389.6,507.1 C390.6,506.4 391.6,505.8 392.6,505.2 C393.6,504.5 394.6,503.9 395.6,503.3 C396.6,502.7 397.6,502.1 398.6,501.6 C399.6,501.0 400.6,500.4 401.6,499.9 C402.6,499.3 403.6,498.8 404.6,498.3 C405.6,497.8 406.6,497.3 407.6,496.8 C408.6,496.3 409.6,495.9 410.6,495.4 C411.6,495.0 412.6,494.6 413.6,494.1 C414.6,493.7 415.6,493.3 416.6,492.9 C417.6,492.5 418.6,492.2 419.6,491.8 C420.6,491.5 421.6,491.1 422.6,490.8 C423.6,490.5 424.6,490.2 425.6,489.9 C426.6,489.6 427.6,489.3 428.6,489.1 C429.6,488.8 430.6,488.6 431.6,488.4 C432.6,488.1 433.6,487.9 434.6,487.7 C435.6,487.6 436.6,487.4 437.6,487.2 C438.6,487.1 439.6,486.9 440.6,486.8 C441.6,486.7 442.6,486.6 443.6,486.5 C444.6,486.4 445.6,486.4 446.6,486.3 C447.6,486.3 448.6,486.2 449.6,486.2 C450.6,486.2 451.6,486.2 452.6,486.2 C453.6,486.2 454.6,486.3 455.6,486.3 C456.6,486.4 457.6,486.5 458.6,486.6 C459.6,486.6 460.6,486.7 461.6,486.9 C462.6,487.0 463.6,487.1 464.6,487.3 C465.6,487.4 466.6,487.6 467.6,487.8 C468.6,488.0 469.6,488.2 470.6,488.4 C471.6,488.6 472.6,488.8 473.6,489.1 C474.6,489.3 475.6,489.6 476.6,489.8 C477.6,490.1 478.6,490.4 479.6,490.7 C480.6,490.9 481.6,491.3 482.6,491.6 C483.6,491.9 484.6,492.2 485.6,492.5 C486.6,492.9 487.6,493.2 488.6,493.6 C489.6,494.0 490.6,494.3 491.6,494.7 C492.6,495.1 493.6,495.5 494.6,495.9 C495.6,496.3 496.6,496.7 497.6,497.1 C498.6,497.5 499.6,497.9 500.6,498.4 C501.6,498.8 502.6,499.3 503.6,499.7 C504.6,500.1 505.6,500.6 506.6,501.1 C507.6,501.5 508.6,502.0 509.6,502.5 C510.6,503.0 511.6,503.4 512.6,503.9 C513.6,504.4 514.6,504.9 515.6,505.4 C516.6,505.9 517.6,506.4 518.6,506.9 C519.6,507.4 520.6,507.9 521.6,508.4 C522.6,509.0 523.6,509.5 524.6,510.0 C525.6,510.5 526.6,511.1 527.6,511.6 C528.6,512.1 529.6,512.6 530.6,513.2 C531.6,513.7 532.6,514.2 533.6,514.8 C534.6,515.3 535.6,515.9 536.6,516.4 C537.6,516.9 538.6,517.5 539.6,518.0 C540.6,518.5 541.6,519.1 542.6,519.6 C543.6,520.2 544.6,520.7 545.6,521.2 C546.6,521.8 547.6,522.3 548.6,522.8 C549.6,523.4 550.6,523.9 551.6,524.4 C552.6,525.0 553.6,525.5 554.6,526.0 C555.6,526.5 556.6,527.1 557.6,527.6 C558.6,528.1 559.6,528.6 560.6,529.1 C561.6,529.6 562.6,530.2 563.6,530.7 C564.6,531.2 565.6,531.7 566.6,532.2 C567.6,532.7 568.6,533.2 569.6,533.7 C570.6,534.2 571.6,534.7 572.6,535.2 C573.6,535.7 574.6,536.2 575.6,536.7 C576.6,537.2 577.6,537.6 578.6,538.1 C579.6,538.6 580.6,539.1 581.6,539.6 C582.6,540.0 583.6,540.5 584.6,541.0 C585.6,541.4 586.6,541.9 587.6,542.4 C588.6,542.8 589.6,543.3 590.6,543.7 C591.6,544.2 592.6,544.6 593.6,545.1 C594.6,545.5 595.6,546.0 596.6,546.4 C597.6,546.9 598.6,547.3 599.6,547.7 C600.6,548.2 601.6,548.6 602.6,549.0 C603.6,549.4 604.6,549.8 605.6,550.3 C606.6,550.7 607.6,551.1 608.6,551.5 C609.6,551.9 610.6,552.3 611.6,552.7 C612.6,553.1 613.6,553.5 614.6,553.8 C615.6,554.2 616.6,554.6 617.6,555.0 C618.6,555.4 619.6,555.7 620.6,556.1 C621.6,556.4 622.6,556.8 623.6,557.2 C624.6,557.5 625.6,557.9 626.6,558.2 C627.6,558.6 628.6,558.9 629.6,559.2 C630.6,559.6 631.6,559.9 632.6,560.2 C633.6,560.5 634.6,560.8 635.6,561.1 C636.6,561.5 637.6,561.8 638.6,562.1 C639.6,562.4 640.6,562.6 641.6,562.9 C642.6,563.2 643.6,563.5 644.6,563.8 C645.6,564.0 646.6,564.3 647.6,564.6 C648.6,564.8 649.6,565.1 650.6,565.3 C651.6,565.6 652.6,565.8 653.6,566.1 C654.6,566.3 655.6,566.5 656.6,566.7 C657.6,567.0 658.6,567.2 659.6,567.4 C660.6,567.6 661.6,567.8 662.6,568.0 C663.6,568.2 664.6,568.4 665.6,568.6 C666.6,568.8 667.6,569.0 668.6,569.1 C669.6,569.3 670.6,569.5 671.6,569.6 C672.6,569.8 673.6,570.0 674.6,570.1 C675.6,570.3 676.6,570.4 677.6,570.6 C678.6,570.7 679.6,570.8 680.6,571.0 C681.6,571.1 682.6,571.2 683.6,571.3 C684.6,571.5 685.6,571.6 686.6,571.7 C687.6,571.8 688.6,571.9 689.6,572.0 C690.6,572.1 691.6,572.2 692.6,572.2 C693.6,572.3 694.6,572.4 695.6,572.5 C696.6,572.6 697.6,572.6 698.6,572.7 C699.6,572.8 700.6,572.8 701.6,572.9 C702.6,572.9 703.6,573.0 704.6,573.0 C705.6,573.1 706.6,573.1 707.6,573.1 C708.6,573.2 709.6,573.2 710.6,573.2 C711.6,573.2 712.6,573.3 713.6,573.3 C714.6,573.3 715.6,573.3 716.6,573.3 C717.6,573.3 718.6,573.3 719.6,573.3 C720.6,573.3 721.6,573.3 722.6,573.3 C723.6,573.3 724.6,573.2 725.6,573.2 C726.6,573.2 727.6,573.2 728.6,573.1 C729.6,573.1 730.6,573.1 731.6,573.0 C732.6,573.0 733.6,572.9 734.6,572.9 C735.6,572.8 736.6,572.8 737.6,572.7 C738.6,572.6 739.6,572.6 740.6,572.5 C741.6,572.4 742.6,572.4 743.6,572.3 C744.6,572.2 745.6,572.1 746.6,572.1 C747.6,572.0 748.6,571.9 749.6,571.8 C750.6,571.7 751.6,571.6 752.6,571.5 C753.6,571.4 754.6,571.3 755.6,571.2 C756.6,571.1 757.6,571.0 758.6,570.9 C759.6,570.8 760.6,570.6 761.6,570.5 C762.6,570.4 763.6,570.3 764.6,570.1 C765.6,570.0 766.6,569.9 767.6,569.8 C768.6,569.6 769.6,569.5 770.6,569.3 C771.6,569.2 772.6,569.1 773.6,568.9 C774.6,568.8 775.6,568.6 776.6,568.5 C777.6,568.3 778.6,568.2 779.6,568.0 C780.6,567.8 781.6,567.7 782.6,567.5 C783.6,567.3 784.6,567.2 785.6,567.0 C786.6,566.8 787.6,566.7 788.6,566.5 C789.6,566.3 790.6,566.1 791.6,566.0 C792.6,565.8 793.6,565.6 794.6,565.4 C795.6,565.2 796.6,565.0 797.6,564.9 C798.6,564.7 799.6,564.5 800.6,564.3 C801.6,564.1 802.6,563.9 803.6,563.7 C804.6,563.5 805.6,563.3 806.6,563.1 C807.6,562.9 808.6,562.7 809.6,562.5 C810.6,562.3 811.6,562.1 812.6,561.9 C813.6,561.7 814.6,561.5 815.6,561.2 C816.6,561.0 817.6,560.8 818.6,560.6 C819.6,560.4 820.6,560.2 821.6,560.0 C822.6,559.7 823.6,559.5 824.6,559.3 C825.6,559.1 826.6,558.8 827.6,558.6 C828.6,558.4 829.6,558.2 830.6,558.0 C831.6,557.7 832.6,557.5 833.6,557.3 C834.6,557.0 835.6,556.8 836.6,556.6 C837.6,556.4 838.6,556.1 839.6,555.9 C840.6,555.7 841.6,555.4 842.6,555.2 C843.6,555.0 844.6,554.7 845.6,554.5 C846.6,554.3 847.6,554.0 848.6,553.8 C849.6,553.5 850.6,553.3 851.6,553.1 C852.6,552.8 853.6,552.6 854.6,552.4 C855.6,552.1 856.6,551.9 857.6,551.6 C858.6,551.4 859.6,551.2 860.6,550.9 C861.6,550.7 862.6,550.4 863.6,550.2 C864.6,550.0 865.6,549.7 866.6,549.5 C867.6,549.2 868.6,549.0 869.6,548.8 C870.6,548.5 871.6,548.3 872.6,548.0 C873.6,547.8 874.6,547.6 875.6,547.3 C876.6,547.1 877.6,546.9 878.6,546.6 C879.6,546.4 880.6,546.1 881.6,545.9 C882.6,545.7 883.6,545.4 884.6,545.2 C885.6,545.0 886.6,544.7 887.6,544.5 C888.6,544.3 889.6,544.0 890.6,543.8 C891.6,543.6 892.6,543.3 893.6,543.1 C894.6,542.9 895.6,542.6 896.6,542.4 C897.6,542.2 898.6,542.0 899.6,541.7 C900.6,541.5 901.6,541.3 902.6,541.1 C903.6,540.8 904.6,540.6 905.6,540.4 C906.6,540.2 907.6,539.9 908.6,539.7 C909.6,539.5 910.6,539.3 911.6,539.1 C912.6,538.9 913.6,538.6 914.6,538.4 C915.6,538.2 916.6,538.0 917.6,537.8 C918.6,537.6 919.6,537.4 920.6,537.2 C921.6,537.0 922.6,536.8 923.6,536.6 C924.6,536.3 925.6,536.1 926.6,535.9 C927.6,535.8 928.6,535.6 929.6,535.4 C930.6,535.2 931.6,535.0 932.6,534.8 C933.6,534.6 934.6,534.4 935.6,534.2 C936.6,534.0 937.6,533.9 938.6,533.7 C939.6,533.5 941.1,533.2 941.6,533.1" stroke="#2edc30" stroke-dasharray="20 13" stroke-linecap="round"/>
<path d="M176.6,530.0 C177.1,530.5 178.6,532.3 179.6,533.2 C180.6,534.0 181.6,534.6 182.6,535.0 C183.6,535.5 184.6,535.7 185.6,535.8 C186.6,535.9 187.6,535.8 188.6,535.6 C189.6,535.4 190.6,535.1 191.6,534.7 C192.6,534.2 193.6,533.7 194.6,533.1 C195.6,532.5 196.6,531.7 197.6,531.0 C198.6,530.2 199.6,529.4 200.6,528.6 C201.6,527.7 202.6,526.8 203.6,525.8 C204.6,524.8 205.6,523.8 206.6,522.8 C207.6,521.8 208.6,520.7 209.6,519.8 C210.6,518.9 211.6,518.0 212.6,517.3 C213.6,516.6 214.6,516.0 215.7,515.7 C216.7,515.3 217.7,515.1 218.7,514.9 C219.7,514.8 220.7,514.8 221.7,514.8 C222.7,514.8 223.7,514.9 224.7,515.1 C225.7,515.2 226.7,515.3 227.7,515.5 C228.7,515.6 229.7,515.8 230.7,516.0 C231.7,516.2 232.7,516.4 233.7,516.5 C234.7,516.7 235.7,516.9 236.7,517.1 C237.7,517.2 238.7,517.4 239.7,517.5 C240.7,517.7 241.7,517.9 242.7,518.0 C243.7,518.2 244.7,518.3 245.7,518.5 C246.7,518.6 247.7,518.8 248.7,518.9 C249.7,519.1 250.7,519.2 251.7,519.4 C252.7,519.5 253.7,519.7 254.7,519.8 C255.7,520.0 256.7,520.1 257.7,520.3 C258.7,520.4 259.7,520.5 260.7,520.7 C261.7,520.8 262.7,521.0 263.7,521.1 C264.7,521.3 265.7,521.5 266.7,521.6 C267.7,521.8 268.7,521.9 269.7,522.1 C270.7,522.3 271.7,522.4 272.7,522.6 C273.7,522.8 274.7,522.9 275.7,523.1 C276.7,523.3 277.7,523.5 278.7,523.7 C279.7,523.8 280.7,524.0 281.7,524.2 C282.7,524.4 283.7,524.6 284.7,524.8 C285.7,525.0 286.7,525.3 287.7,525.5 C288.7,525.7 289.7,525.9 290.7,526.2 C291.7,526.4 292.7,526.6 293.8,526.9 C294.8,527.1 295.8,527.4 296.8,527.7 C297.8,527.9 298.8,528.2 299.8,528.5 C300.8,528.8 301.8,529.1 302.8,529.4 C303.8,529.7 304.8,530.0 305.8,530.3 C306.8,530.6 307.8,530.9 308.8,531.2 C309.8,531.5 310.8,531.9 311.8,532.2 C312.8,532.5 313.8,532.8 314.8,533.2 C315.8,533.5 316.8,533.8 317.8,534.2 C318.8,534.5 319.8,534.9 320.8,535.2 C321.8,535.5 322.8,535.9 323.8,536.2 C324.8,536.6 325.8,536.9 326.8,537.3 C327.8,537.6 328.8,538.0 329.8,538.3 C330.8,538.7 331.8,539.0 332.8,539.4 C333.8,539.7 334.8,540.0 335.8,540.4 C336.8,540.7 337.8,541.0 338.8,541.4 C339.8,541.7 340.8,542.0 341.8,542.4 C342.8,542.7 343.8,543.0 344.8,543.3 C345.8,543.7 346.8,544.0 347.8,544.3 C348.8,544.6 349.8,544.9 350.8,545.2 C351.8,545.5 352.8,545.8 353.8,546.0 C354.8,546.3 355.8,546.6 356.8,546.9 C357.8,547.1 358.8,547.4 359.8,547.6 C360.8,547.9 361.8,548.1 362.8,548.3 C363.8,548.6 364.8,548.8 365.8,549.0 C366.8,549.2 367.8,549.4 368.8,549.6 C369.8,549.8 370.9,550.0 371.9,550.1 C372.9,550.3 373.9,550.4 374.9,550.6 C375.9,550.7 376.9,550.9 377.9,551.0 C378.9,551.1 379.9,551.2 380.9,551.3 C381.9,551.3 382.9,551.4 383.9,551.5 C384.9,551.5 385.9,551.6 386.9,551.6 C387.9,551.6 388.9,551.6 389.9,551.6 C390.9,551.6 391.9,551.6 392.9,551.6 C393.9,551.6 394.9,551.5 395.9,551.5 C396.9,551.4 397.9,551.4 398.9,551.3 C399.9,551.2 400.9,551.1 401.9,551.0 C402.9,550.9 403.9,550.8 404.9,550.7 C405.9,550.5 406.9,550.4 407.9,550.2 C408.9,550.1 409.9,549.9 410.9,549.8 C411.9,549.6 412.9,549.4 413.9,549.2 C414.9,549.0 415.9,548.8 416.9,548.6 C417.9,548.4 418.9,548.2 419.9,547.9 C420.9,547.7 421.9,547.5 422.9,547.2 C423.9,547.0 424.9,546.7 425.9,546.4 C426.9,546.2 427.9,545.9 428.9,545.6 C429.9,545.3 430.9,545.0 431.9,544.7 C432.9,544.4 433.9,544.1 434.9,543.8 C435.9,543.4 436.9,543.1 437.9,542.8 C438.9,542.4 439.9,542.1 440.9,541.7 C441.9,541.4 442.9,541.0 443.9,540.7 C444.9,540.3 445.9,539.9 446.9,539.6 C448.0,539.2 449.0,538.8 450.0,538.4 C451.0,538.0 452.0,537.6 453.0,537.2 C454.0,536.8 455.0,536.4 456.0,536.0 C457.0,535.6 458.0,535.2 459.0,534.8 C460.0,534.4 461.0,533.9 462.0,533.5 C463.0,533.1 464.0,532.7 465.0,532.2 C466.0,531.8 467.0,531.3 468.0,530.9 C469.0,530.5 470.0,530.0 471.0,529.6 C472.0,529.1 473.0,528.7 474.0,528.2 C475.0,527.7 476.0,527.3 477.0,526.8 C478.0,526.4 479.0,525.9 480.0,525.4 C481.0,525.0 482.0,524.5 483.0,524.0 C484.0,523.6 485.0,523.1 486.0,522.6 C487.0,522.2 488.0,521.7 489.0,521.2 C490.0,520.7 491.0,520.3 492.0,519.8 C493.0,519.3 494.0,518.8 495.0,518.3 C496.0,517.9 497.0,517.4 498.0,516.9 C499.0,516.4 500.0,515.9 501.0,515.4 C502.0,514.9 503.0,514.5 504.0,514.0 C505.0,513.5 506.0,513.0 507.0,512.5 C508.0,512.0 509.0,511.5 510.0,511.0 C511.0,510.5 512.0,510.0 513.0,509.5 C514.0,509.0 515.0,508.5 516.0,508.0 C517.0,507.5 518.0,507.0 519.0,506.5 C520.0,506.0 521.0,505.5 522.0,505.0 C523.0,504.5 524.0,504.0 525.0,503.5 C526.1,503.0 527.1,502.5 528.1,502.0 C529.1,501.5 530.1,501.0 531.1,500.5 C532.1,500.0 533.1,499.5 534.1,499.0 C535.1,498.5 536.1,498.0 537.1,497.5 C538.1,497.0 539.1,496.5 540.1,496.0 C541.1,495.5 542.1,495.0 543.1,494.4 C544.1,493.9 545.1,493.4 546.1,492.9 C547.1,492.4 548.1,491.9 549.1,491.4 C550.1,490.9 551.1,490.4 552.1,489.9 C553.1,489.4 554.1,488.9 555.1,488.4 C556.1,487.9 557.1,487.4 558.1,486.9 C559.1,486.4 560.1,485.8 561.1,485.3 C562.1,484.8 563.1,484.3 564.1,483.8 C565.1,483.3 566.1,482.8 567.1,482.3 C568.1,481.8 569.1,481.3 570.1,480.8 C571.1,480.3 572.1,479.8 573.1,479.3 C574.1,478.8 575.1,478.3 576.1,477.8 C577.1,477.3 578.1,476.8 579.1,476.3 C580.1,475.8 581.1,475.4 582.1,474.9 C583.1,474.4 584.1,473.9 585.1,473.4 C586.1,472.9 587.1,472.4 588.1,471.9 C589.1,471.4 590.1,471.0 591.1,470.5 C592.1,470.0 593.1,469.5 594.1,469.0 C595.1,468.5 596.1,468.1 597.1,467.6 C598.1,467.1 599.1,466.6 600.1,466.2 C601.1,465.7 602.1,465.2 603.2,464.8 C604.2,464.3 605.2,463.8 606.2,463.4 C607.2,462.9 608.2,462.5 609.2,462.0 C610.2,461.5 611.2,461.1 612.2,460.6 C613.2,460.2 614.2,459.7 615.2,459.3 C616.2,458.9 617.2,458.4 618.2,458.0 C619.2,457.5 620.2,457.1 621.2,456.7 C622.2,456.3 623.2,455.8 624.2,455.4 C625.2,455.0 626.2,454.6 627.2,454.2 C628.2,453.7 629.2,453.3 630.2,452.9 C631.2,452.5 632.2,452.1 633.2,451.7 C634.2,451.3 635.2,450.9 636.2,450.6 C637.2,450.2 638.2,449.8 639.2,449.4 C640.2,449.0 641.2,448.7 642.2,448.3 C643.2,447.9 644.2,447.6 645.2,447.2 C646.2,446.8 647.2,446.5 648.2,446.2 C649.2,445.8 650.2,445.5 651.2,445.1 C652.2,444.8 653.2,444.5 654.2,444.1 C655.2,443.8 656.2,443.5 657.2,443.2 C658.2,442.9 659.2,442.6 660.2,442.3 C661.2,442.0 662.2,441.7 663.2,441.4 C664.2,441.1 665.2,440.8 666.2,440.5 C667.2,440.3 668.2,440.0 669.2,439.7 C670.2,439.5 671.2,439.2 672.2,439.0 C673.2,438.7 674.2,438.5 675.2,438.3 C676.2,438.0 677.2,437.8 678.2,437.6 C679.2,437.4 680.2,437.1 681.3,436.9 C682.3,436.7 683.3,436.5 684.3,436.3 C685.3,436.2 686.3,436.0 687.3,435.8 C688.3,435.6 689.3,435.4 690.3,435.3 C691.3,435.1 692.3,434.9 693.3,434.8 C694.3,434.6 695.3,434.5 696.3,434.4 C697.3,434.2 698.3,434.1 699.3,433.9 C700.3,433.8 701.3,433.7 702.3,433.6 C703.3,433.5 704.3,433.3 705.3,433.2 C706.3,433.1 707.3,433.0 708.3,432.9 C709.3,432.8 710.3,432.7 711.3,432.7 C712.3,432.6 713.3,432.5 714.3,432.4 C715.3,432.3 716.3,432.3 717.3,432.2 C718.3,432.1 719.3,432.1 720.3,432.0 C721.3,431.9 722.3,431.9 723.3,431.8 C724.3,431.8 725.3,431.8 726.3,431.7 C727.3,431.7 728.3,431.6 729.3,431.6 C730.3,431.6 731.3,431.5 732.3,431.5 C733.3,431.5 734.3,431.5 735.3,431.5 C736.3,431.4 737.3,431.4 738.3,431.4 C739.3,431.4 740.3,431.4 741.3,431.4 C742.3,431.4 743.3,431.4 744.3,431.4 C745.3,431.4 746.3,431.4 747.3,431.4 C748.3,431.4 749.3,431.4 750.3,431.4 C751.3,431.4 752.3,431.5 753.3,431.5 C754.3,431.5 755.3,431.5 756.3,431.5 C757.3,431.6 758.4,431.6 759.4,431.6 C760.4,431.7 761.4,431.7 762.4,431.7 C763.4,431.7 764.4,431.8 765.4,431.8 C766.4,431.9 767.4,431.9 768.4,431.9 C769.4,432.0 770.4,432.0 771.4,432.1 C772.4,432.1 773.4,432.1 774.4,432.2 C775.4,432.2 776.4,432.3 777.4,432.3 C778.4,432.4 779.4,432.4 780.4,432.5 C781.4,432.5 782.4,432.6 783.4,432.6 C784.4,432.7 785.4,432.7 786.4,432.8 C787.4,432.8 788.4,432.9 789.4,432.9 C790.4,433.0 791.4,433.0 792.4,433.1 C793.4,433.1 794.4,433.2 795.4,433.3 C796.4,433.3 797.4,433.4 798.4,433.4 C799.4,433.5 800.4,433.5 801.4,433.6 C802.4,433.6 803.4,433.7 804.4,433.7 C805.4,433.8 806.4,433.8 807.4,433.9 C808.4,433.9 809.4,434.0 810.4,434.0 C811.4,434.1 812.4,434.1 813.4,434.2 C814.4,434.2 815.4,434.3 816.4,434.3 C817.4,434.4 818.4,434.4 819.4,434.5 C820.4,434.5 821.4,434.6 822.4,434.6 C823.4,434.7 824.4,434.7 825.4,434.8 C826.4,434.8 827.4,434.9 828.4,434.9 C829.4,435.0 830.4,435.0 831.4,435.1 C832.4,435.1 833.4,435.2 834.4,435.2 C835.5,435.3 836.5,435.3 837.5,435.3 C838.5,435.4 839.5,435.4 840.5,435.5 C841.5,435.5 842.5,435.6 843.5,435.6 C844.5,435.6 845.5,435.7 846.5,435.7 C847.5,435.8 848.5,435.8 849.5,435.9 C850.5,435.9 851.5,435.9 852.5,436.0 C853.5,436.0 854.5,436.1 855.5,436.1 C856.5,436.1 857.5,436.2 858.5,436.2 C859.5,436.3 860.5,436.3 861.5,436.3 C862.5,436.4 863.5,436.4 864.5,436.5 C865.5,436.5 866.5,436.5 867.5,436.6 C868.5,436.6 869.5,436.6 870.5,436.7 C871.5,436.7 872.5,436.7 873.5,436.8 C874.5,436.8 875.5,436.8 876.5,436.9 C877.5,436.9 878.5,436.9 879.5,437.0 C880.5,437.0 881.5,437.0 882.5,437.1 C883.5,437.1 884.5,437.1 885.5,437.2 C886.5,437.2 887.5,437.2 888.5,437.3 C889.5,437.3 890.5,437.3 891.5,437.3 C892.5,437.4 893.5,437.4 894.5,437.4 C895.5,437.5 896.5,437.5 897.5,437.5 C898.5,437.5 899.5,437.6 900.5,437.6 C901.5,437.6 902.5,437.6 903.5,437.7 C904.5,437.7 905.5,437.7 906.5,437.7 C907.5,437.8 908.5,437.8 909.5,437.8 C910.5,437.8 911.5,437.8 912.5,437.9 C913.6,437.9 914.6,437.9 915.6,437.9 C916.6,437.9 917.6,438.0 918.6,438.0 C919.6,438.0 920.6,438.0 921.6,438.0 C922.6,438.1 923.6,438.1 924.6,438.1 C925.6,438.1 926.6,438.1 927.6,438.1 C928.6,438.2 929.6,438.2 930.6,438.2 C931.6,438.2 932.6,438.2 933.6,438.2 C934.6,438.2 935.6,438.2 936.6,438.3 C937.6,438.3 938.6,438.3 939.6,438.3 C940.6,438.3 941.6,438.3 942.6,438.3 C943.6,438.3 944.6,438.3 945.6,438.3 C946.6,438.4 947.6,438.4 948.6,438.4 C949.6,438.4 951.1,438.4 951.6,438.4" stroke="#000000" stroke-dasharray="20 13" stroke-linecap="round"/>
<path d="M176.6,597.7 C177.1,597.5 178.6,596.9 179.6,596.6 C180.6,596.2 181.6,595.8 182.6,595.5 C183.6,595.1 184.6,594.7 185.6,594.4 C186.6,594.0 187.6,593.6 188.6,593.3 C189.6,592.9 190.6,592.6 191.6,592.2 C192.6,591.8 193.6,591.5 194.6,591.1 C195.6,590.8 196.6,590.4 197.6,590.0 C198.6,589.7 199.6,589.3 200.6,589.0 C201.6,588.6 202.6,588.2 203.6,587.9 C204.6,587.5 205.6,587.1 206.6,586.8 C207.6,586.4 208.6,586.0 209.6,585.6 C210.6,585.2 211.6,584.9 212.6,584.5 C213.6,584.1 214.6,583.7 215.7,583.3 C216.7,582.9 217.7,582.5 218.7,582.1 C219.7,581.7 220.7,581.3 221.7,580.8 C222.7,580.4 223.7,580.0 224.7,579.6 C225.7,579.1 226.7,578.7 227.7,578.2 C228.7,577.8 229.7,577.3 230.7,576.9 C231.7,576.4 232.7,575.9 233.7,575.5 C234.7,575.0 235.7,574.5 236.7,574.0 C237.7,573.5 238.7,573.0 239.7,572.5 C240.7,571.9 241.7,571.4 242.7,570.9 C243.7,570.3 244.7,569.8 245.7,569.2 C246.7,568.6 247.7,568.1 248.7,567.5 C249.7,566.9 250.7,566.3 251.7,565.7 C252.7,565.1 253.7,564.4 254.7,563.8 C255.7,563.2 256.7,562.5 257.7,561.8 C258.7,561.2 259.7,560.5 260.7,559.8 C261.7,559.1 262.7,558.4 263.7,557.7 C264.7,556.9 265.7,556.2 266.7,555.4 C267.7,554.7 268.7,553.9 269.7,553.1 C270.7,552.3 271.7,551.5 272.7,550.7 C273.7,549.9 274.7,549.0 275.7,548.2 C276.7,547.3 277.7,546.5 278.7,545.6 C279.7,544.7 280.7,543.8 281.7,542.9 C282.7,542.0 283.7,541.1 284.7,540.1 C285.7,539.2 286.7,538.2 287.7,537.3 C288.7,536.3 289.7,535.3 290.7,534.4 C291.7,533.4 292.7,532.4 293.8,531.4 C294.8,530.4 295.8,529.3 296.8,528.3 C297.8,527.3 298.8,526.2 299.8,525.2 C300.8,524.1 301.8,523.1 302.8,522.0 C303.8,520.9 304.8,519.9 305.8,518.8 C306.8,517.7 307.8,516.6 308.8,515.5 C309.8,514.4 310.8,513.3 311.8,512.2 C312.8,511.1 313.8,509.9 314.8,508.8 C315.8,507.7 316.8,506.5 317.8,505.4 C318.8,504.3 319.8,503.1 320.8,502.0 C321.8,500.8 322.8,499.7 323.8,498.5 C324.8,497.3 325.8,496.2 326.8,495.0 C327.8,493.8 328.8,492.7 329.8,491.5 C330.8,490.3 331.8,489.2 332.8,488.0 C333.8,486.8 334.8,485.6 335.8,484.4 C336.8,483.2 337.8,482.1 338.8,480.9 C339.8,479.7 340.8,478.5 341.8,477.3 C342.8,476.1 343.8,475.0 344.8,473.8 C345.8,472.6 346.8,471.4 347.8,470.2 C348.8,469.0 349.8,467.9 350.8,466.7 C351.8,465.5 352.8,464.3 353.8,463.2 C354.8,462.0 355.8,460.8 356.8,459.7 C357.8,458.5 358.8,457.3 359.8,456.2 C360.8,455.0 361.8,453.9 362.8,452.7 C363.8,451.6 364.8,450.5 365.8,449.3 C366.8,448.2 367.8,447.1 368.8,446.0 C369.8,444.8 370.9,443.7 371.9,442.6 C372.9,441.5 373.9,440.4 374.9,439.4 C375.9,438.3 376.9,437.2 377.9,436.1 C378.9,435.1 379.9,434.0 380.9,433.0 C381.9,431.9 382.9,430.9 383.9,429.8 C384.9,428.8 385.9,427.7 386.9,426.7 C387.9,425.7 388.9,424.7 389.9,423.7 C390.9,422.7 391.9,421.6 392.9,420.6 C393.9,419.6 394.9,418.7 395.9,417.7 C396.9,416.7 397.9,415.7 398.9,414.7 C399.9,413.7 400.9,412.8 401.9,411.8 C402.9,410.8 403.9,409.9 404.9,408.9 C405.9,408.0 406.9,407.0 407.9,406.1 C408.9,405.1 409.9,404.2 410.9,403.2 C411.9,402.3 412.9,401.4 413.9,400.4 C414.9,399.5 415.9,398.6 416.9,397.6 C417.9,396.7 418.9,395.8 419.9,394.9 C420.9,394.0 421.9,393.0 422.9,392.1 C423.9,391.2 424.9,390.3 425.9,389.4 C426.9,388.5 427.9,387.6 428.9,386.7 C429.9,385.8 430.9,384.9 431.9,384.0 C432.9,383.1 433.9,382.2 434.9,381.3 C435.9,380.4 436.9,379.5 437.9,378.6 C438.9,377.7 439.9,376.8 440.9,376.0 C441.9,375.1 442.9,374.2 443.9,373.3 C444.9,372.4 445.9,371.5 446.9,370.6 C448.0,369.7 449.0,368.9 450.0,368.0 C451.0,367.1 452.0,366.2 453.0,365.3 C454.0,364.4 455.0,363.5 456.0,362.7 C457.0,361.8 458.0,360.9 459.0,360.0 C460.0,359.1 461.0,358.2 462.0,357.3 C463.0,356.4 464.0,355.5 465.0,354.6 C466.0,353.7 467.0,352.8 468.0,351.9 C469.0,351.0 470.0,350.1 471.0,349.2 C472.0,348.3 473.0,347.4 474.0,346.5 C475.0,345.6 476.0,344.7 477.0,343.8 C478.0,342.9 479.0,342.0 480.0,341.0 C481.0,340.1 482.0,339.2 483.0,338.3 C484.0,337.3 485.0,336.4 486.0,335.5 C487.0,334.6 488.0,333.6 489.0,332.7 C490.0,331.7 491.0,330.8 492.0,329.8 C493.0,328.9 494.0,327.9 495.0,327.0 C496.0,326.0 497.0,325.0 498.0,324.1 C499.0,323.1 500.0,322.1 501.0,321.1 C502.0,320.2 503.0,319.2 504.0,318.2 C505.0,317.2 506.0,316.2 507.0,315.2 C508.0,314.2 509.0,313.2 510.0,312.2 C511.0,311.1 512.0,310.1 513.0,309.1 C514.0,308.1 515.0,307.0 516.0,306.0 C517.0,304.9 518.0,303.9 519.0,302.8 C520.0,301.8 521.0,300.7 522.0,299.6 C523.0,298.5 524.0,297.5 525.0,296.4 C526.1,295.3 527.1,294.2 528.1,293.1 C529.1,292.0 530.1,290.9 531.1,289.8 C532.1,288.7 533.1,287.5 534.1,286.4 C535.1,285.3 536.1,284.2 537.1,283.0 C538.1,281.9 539.1,280.8 540.1,279.6 C541.1,278.5 542.1,277.3 543.1,276.2 C544.1,275.0 545.1,273.9 546.1,272.7 C547.1,271.6 548.1,270.4 549.1,269.2 C550.1,268.1 551.1,266.9 552.1,265.8 C553.1,264.6 554.1,263.4 555.1,262.2 C556.1,261.1 557.1,259.9 558.1,258.7 C559.1,257.5 560.1,256.4 561.1,255.2 C562.1,254.0 563.1,252.8 564.1,251.7 C565.1,250.5 566.1,249.3 567.1,248.1 C568.1,246.9 569.1,245.8 570.1,244.6 C571.1,243.4 572.1,242.2 573.1,241.0 C574.1,239.9 575.1,238.7 576.1,237.5 C577.1,236.3 578.1,235.2 579.1,234.0 C580.1,232.8 581.1,231.7 582.1,230.5 C583.1,229.3 584.1,228.2 585.1,227.0 C586.1,225.8 587.1,224.7 588.1,223.5 C589.1,222.4 590.1,221.2 591.1,220.1 C592.1,218.9 593.1,217.8 594.1,216.6 C595.1,215.5 596.1,214.3 597.1,213.2 C598.1,212.1 599.1,210.9 600.1,209.8 C601.1,208.7 602.1,207.6 603.2,206.5 C604.2,205.4 605.2,204.2 606.2,203.1 C607.2,202.0 608.2,200.9 609.2,199.8 C610.2,198.8 611.2,197.7 612.2,196.6 C613.2,195.5 614.2,194.4 615.2,193.4 C616.2,192.3 617.2,191.3 618.2,190.2 C619.2,189.2 620.2,188.1 621.2,187.1 C622.2,186.0 623.2,185.0 624.2,184.0 C625.2,183.0 626.2,182.0 627.2,181.0 C628.2,180.0 629.2,179.0 630.2,178.0 C631.2,177.0 632.2,176.0 633.2,175.1 C634.2,174.1 635.2,173.2 636.2,172.2 C637.2,171.3 638.2,170.3 639.2,169.4 C640.2,168.5 641.2,167.6 642.2,166.7 C643.2,165.8 644.2,164.9 645.2,164.1 C646.2,163.2 647.2,162.3 648.2,161.5 C649.2,160.6 650.2,159.8 651.2,159.0 C652.2,158.1 653.2,157.3 654.2,156.5 C655.2,155.7 656.2,154.9 657.2,154.2 C658.2,153.4 659.2,152.6 660.2,151.9 C661.2,151.1 662.2,150.4 663.2,149.6 C664.2,148.9 665.2,148.2 666.2,147.5 C667.2,146.8 668.2,146.1 669.2,145.4 C670.2,144.7 671.2,144.0 672.2,143.4 C673.2,142.7 674.2,142.1 675.2,141.4 C676.2,140.8 677.2,140.2 678.2,139.6 C679.2,138.9 680.2,138.3 681.3,137.7 C682.3,137.1 683.3,136.6 684.3,136.0 C685.3,135.4 686.3,134.8 687.3,134.3 C688.3,133.7 689.3,133.2 690.3,132.7 C691.3,132.2 692.3,131.6 693.3,131.1 C694.3,130.6 695.3,130.1 696.3,129.6 C697.3,129.1 698.3,128.7 699.3,128.2 C700.3,127.7 701.3,127.3 702.3,126.8 C703.3,126.4 704.3,126.0 705.3,125.5 C706.3,125.1 707.3,124.7 708.3,124.3 C709.3,123.9 710.3,123.5 711.3,123.1 C712.3,122.7 713.3,122.4 714.3,122.0 C715.3,121.7 716.3,121.3 717.3,121.0 C718.3,120.6 719.3,120.3 720.3,120.0 C721.3,119.6 722.3,119.3 723.3,119.0 C724.3,118.7 725.3,118.4 726.3,118.2 C727.3,117.9 728.3,117.6 729.3,117.3 C730.3,117.1 731.3,116.8 732.3,116.6 C733.3,116.3 734.3,116.1 735.3,115.9 C736.3,115.7 737.3,115.4 738.3,115.2 C739.3,115.0 740.3,114.8 741.3,114.7 C742.3,114.5 743.3,114.3 744.3,114.1 C745.3,114.0 746.3,113.8 747.3,113.7 C748.3,113.5 749.3,113.4 750.3,113.2 C751.3,113.1 752.3,113.0 753.3,112.9 C754.3,112.7 755.3,112.6 756.3,112.5 C757.3,112.4 758.4,112.4 759.4,112.3 C760.4,112.2 761.4,112.1 762.4,112.0 C763.4,112.0 764.4,111.9 765.4,111.9 C766.4,111.8 767.4,111.8 768.4,111.7 C769.4,111.7 770.4,111.7 771.4,111.7 C772.4,111.6 773.4,111.6 774.4,111.6 C775.4,111.6 776.4,111.6 777.4,111.6 C778.4,111.6 779.4,111.6 780.4,111.7 C781.4,111.7 782.4,111.7 783.4,111.7 C784.4,111.8 785.4,111.8 786.4,111.9 C787.4,111.9 788.4,112.0 789.4,112.0 C790.4,112.1 791.4,112.1 792.4,112.2 C793.4,112.3 794.4,112.4 795.4,112.4 C796.4,112.5 797.4,112.6 798.4,112.7 C799.4,112.8 800.4,112.9 801.4,113.0 C802.4,113.1 803.4,113.2 804.4,113.3 C805.4,113.4 806.4,113.5 807.4,113.7 C808.4,113.8 809.4,113.9 810.4,114.1 C811.4,114.2 812.4,114.3 813.4,114.5 C814.4,114.6 815.4,114.7 816.4,114.9 C817.4,115.0 818.4,115.2 819.4,115.4 C820.4,115.5 821.4,115.7 822.4,115.8 C823.4,116.0 824.4,116.2 825.4,116.3 C826.4,116.5 827.4,116.7 828.4,116.9 C829.4,117.0 830.4,117.2 831.4,117.4 C832.4,117.6 833.4,117.8 834.4,118.0 C835.5,118.2 836.5,118.4 837.5,118.5 C838.5,118.7 839.5,118.9 840.5,119.1 C841.5,119.3 842.5,119.5 843.5,119.8 C844.5,120.0 845.5,120.2 846.5,120.4 C847.5,120.6 848.5,120.8 849.5,121.0 C850.5,121.2 851.5,121.4 852.5,121.7 C853.5,121.9 854.5,122.1 855.5,122.3 C856.5,122.5 857.5,122.8 858.5,123.0 C859.5,123.2 860.5,123.4 861.5,123.6 C862.5,123.9 863.5,124.1 864.5,124.3 C865.5,124.5 866.5,124.8 867.5,125.0 C868.5,125.2 869.5,125.5 870.5,125.7 C871.5,125.9 872.5,126.1 873.5,126.4 C874.5,126.6 875.5,126.8 876.5,127.1 C877.5,127.3 878.5,127.5 879.5,127.7 C880.5,128.0 881.5,128.2 882.5,128.4 C883.5,128.7 884.5,128.9 885.5,129.1 C886.5,129.3 887.5,129.6 888.5,129.8 C889.5,130.0 890.5,130.2 891.5,130.5 C892.5,130.7 893.5,130.9 894.5,131.1 C895.5,131.3 896.5,131.6 897.5,131.8 C898.5,132.0 899.5,132.2 900.5,132.4 C901.5,132.6 902.5,132.8 903.5,133.1 C904.5,133.3 905.5,133.5 906.5,133.7 C907.5,133.9 908.5,134.1 909.5,134.3 C910.5,134.5 911.5,134.7 912.5,134.9 C913.6,135.1 914.6,135.3 915.6,135.5 C916.6,135.7 917.6,135.9 918.6,136.0 C919.6,136.2 920.6,136.4 921.6,136.6 C922.6,136.8 923.6,136.9 924.6,137.1 C925.6,137.3 926.6,137.5 927.6,137.6 C928.6,137.8 929.6,137.9 930.6,138.1 C931.6,138.3 932.6,138.4 933.6,138.6 C934.6,138.7 935.6,138.9 936.6,139.0 C937.6,139.1 938.6,139.3 939.6,139.4 C940.6,139.6 941.6,139.7 942.6,139.8 C943.6,139.9 944.6,140.0 945.6,140.2 C946.6,140.3 947.6,140.4 948.6,140.5 C949.6,140.6 951.1,140.7 951.6,140.8" stroke="#cc1a18" />
<path d="M176.6,599.5 C177.1,599.4 178.6,599.4 179.6,599.3 C180.6,599.2 181.6,599.2 182.6,599.1 C183.6,599.0 184.6,599.0 185.6,598.9 C186.6,598.8 187.6,598.7 188.6,598.6 C189.6,598.5 190.6,598.4 191.6,598.3 C192.6,598.2 193.6,598.1 194.6,598.0 C195.6,597.9 196.6,597.8 197.6,597.7 C198.6,597.5 199.6,597.4 200.6,597.3 C201.6,597.1 202.6,597.0 203.6,596.9 C204.6,596.7 205.6,596.6 206.6,596.4 C207.6,596.3 208.6,596.1 209.6,596.0 C210.6,595.8 211.6,595.7 212.6,595.5 C213.6,595.3 214.6,595.2 215.7,595.0 C216.7,594.8 217.7,594.6 218.7,594.4 C219.7,594.3 220.7,594.1 221.7,593.9 C222.7,593.7 223.7,593.5 224.7,593.3 C225.7,593.1 226.7,592.9 227.7,592.7 C228.7,592.5 229.7,592.2 230.7,592.0 C231.7,591.8 232.7,591.6 233.7,591.4 C234.7,591.1 235.7,590.9 236.7,590.7 C237.7,590.4 238.7,590.2 239.7,590.0 C240.7,589.7 241.7,589.5 242.7,589.2 C243.7,589.0 244.7,588.7 245.7,588.5 C246.7,588.2 247.7,588.0 248.7,587.7 C249.7,587.4 250.7,587.2 251.7,586.9 C252.7,586.6 253.7,586.3 254.7,586.1 C255.7,585.8 256.7,585.5 257.7,585.2 C258.7,584.9 259.7,584.7 260.7,584.4 C261.7,584.1 262.7,583.8 263.7,583.5 C264.7,583.2 265.7,582.9 266.7,582.6 C267.7,582.3 268.7,582.0 269.7,581.7 C270.7,581.3 271.7,581.0 272.7,580.7 C273.7,580.4 274.7,580.1 275.7,579.7 C276.7,579.4 277.7,579.1 278.7,578.7 C279.7,578.4 280.7,578.1 281.7,577.7 C282.7,577.4 283.7,577.0 284.7,576.6 C285.7,576.3 286.7,575.9 287.7,575.5 C288.7,575.2 289.7,574.8 290.7,574.4 C291.7,574.0 292.7,573.6 293.8,573.2 C294.8,572.8 295.8,572.4 296.8,571.9 C297.8,571.5 298.8,571.1 299.8,570.6 C300.8,570.2 301.8,569.7 302.8,569.2 C303.8,568.8 304.8,568.3 305.8,567.8 C306.8,567.3 307.8,566.8 308.8,566.3 C309.8,565.8 310.8,565.2 311.8,564.7 C312.8,564.2 313.8,563.6 314.8,563.0 C315.8,562.5 316.8,561.9 317.8,561.3 C318.8,560.7 319.8,560.1 320.8,559.4 C321.8,558.8 322.8,558.2 323.8,557.5 C324.8,556.9 325.8,556.2 326.8,555.5 C327.8,554.9 328.8,554.2 329.8,553.5 C330.8,552.8 331.8,552.1 332.8,551.4 C333.8,550.7 334.8,550.0 335.8,549.3 C336.8,548.6 337.8,547.9 338.8,547.2 C339.8,546.5 340.8,545.8 341.8,545.1 C342.8,544.4 343.8,543.7 344.8,543.0 C345.8,542.3 346.8,541.6 347.8,540.9 C348.8,540.3 349.8,539.6 350.8,539.0 C351.8,538.3 352.8,537.7 353.8,537.0 C354.8,536.4 355.8,535.7 356.8,535.1 C357.8,534.5 358.8,533.8 359.8,533.2 C360.8,532.6 361.8,532.0 362.8,531.4 C363.8,530.8 364.8,530.2 365.8,529.6 C366.8,529.0 367.8,528.4 368.8,527.8 C369.8,527.2 370.9,526.6 371.9,526.0 C372.9,525.5 373.9,524.9 374.9,524.3 C375.9,523.7 376.9,523.2 377.9,522.6 C378.9,522.0 379.9,521.4 380.9,520.9 C381.9,520.3 382.9,519.8 383.9,519.2 C384.9,518.6 385.9,518.1 386.9,517.5 C387.9,516.9 388.9,516.4 389.9,515.8 C390.9,515.3 391.9,514.7 392.9,514.2 C393.9,513.6 394.9,513.0 395.9,512.5 C396.9,511.9 397.9,511.4 398.9,510.8 C399.9,510.2 400.9,509.7 401.9,509.1 C402.9,508.6 403.9,508.0 404.9,507.4 C405.9,506.9 406.9,506.3 407.9,505.7 C408.9,505.2 409.9,504.6 410.9,504.0 C411.9,503.4 412.9,502.9 413.9,502.3 C414.9,501.7 415.9,501.1 416.9,500.5 C417.9,499.9 418.9,499.4 419.9,498.8 C420.9,498.2 421.9,497.6 422.9,497.0 C423.9,496.3 424.9,495.7 425.9,495.1 C426.9,494.5 427.9,493.9 428.9,493.3 C429.9,492.6 430.9,492.0 431.9,491.4 C432.9,490.8 433.9,490.1 434.9,489.5 C435.9,488.8 436.9,488.2 437.9,487.5 C438.9,486.9 439.9,486.2 440.9,485.6 C441.9,484.9 442.9,484.3 443.9,483.6 C444.9,482.9 445.9,482.3 446.9,481.6 C448.0,480.9 449.0,480.3 450.0,479.6 C451.0,478.9 452.0,478.2 453.0,477.5 C454.0,476.8 455.0,476.2 456.0,475.5 C457.0,474.8 458.0,474.1 459.0,473.4 C460.0,472.7 461.0,472.0 462.0,471.2 C463.0,470.5 464.0,469.8 465.0,469.1 C466.0,468.4 467.0,467.7 468.0,466.9 C469.0,466.2 470.0,465.5 471.0,464.8 C472.0,464.0 473.0,463.3 474.0,462.6 C475.0,461.8 476.0,461.1 477.0,460.3 C478.0,459.6 479.0,458.9 480.0,458.1 C481.0,457.4 482.0,456.6 483.0,455.9 C484.0,455.1 485.0,454.3 486.0,453.6 C487.0,452.8 488.0,452.0 489.0,451.3 C490.0,450.5 491.0,449.7 492.0,449.0 C493.0,448.2 494.0,447.4 495.0,446.6 C496.0,445.9 497.0,445.1 498.0,444.3 C499.0,443.5 500.0,442.7 501.0,441.9 C502.0,441.1 503.0,440.3 504.0,439.5 C505.0,438.7 506.0,437.9 507.0,437.1 C508.0,436.3 509.0,435.5 510.0,434.7 C511.0,433.9 512.0,433.1 513.0,432.3 C514.0,431.5 515.0,430.7 516.0,429.8 C517.0,429.0 518.0,428.2 519.0,427.4 C520.0,426.6 521.0,425.7 522.0,424.9 C523.0,424.1 524.0,423.3 525.0,422.4 C526.1,421.6 527.1,420.8 528.1,419.9 C529.1,419.1 530.1,418.2 531.1,417.4 C532.1,416.5 533.1,415.7 534.1,414.9 C535.1,414.0 536.1,413.1 537.1,412.3 C538.1,411.4 539.1,410.6 540.1,409.7 C541.1,408.9 542.1,408.0 543.1,407.1 C544.1,406.2 545.1,405.4 546.1,404.5 C547.1,403.6 548.1,402.7 549.1,401.9 C550.1,401.0 551.1,400.1 552.1,399.2 C553.1,398.3 554.1,397.4 555.1,396.5 C556.1,395.6 557.1,394.7 558.1,393.8 C559.1,392.9 560.1,392.0 561.1,391.1 C562.1,390.1 563.1,389.2 564.1,388.3 C565.1,387.4 566.1,386.4 567.1,385.5 C568.1,384.6 569.1,383.6 570.1,382.7 C571.1,381.8 572.1,380.8 573.1,379.9 C574.1,378.9 575.1,377.9 576.1,377.0 C577.1,376.0 578.1,375.0 579.1,374.1 C580.1,373.1 581.1,372.1 582.1,371.1 C583.1,370.2 584.1,369.2 585.1,368.2 C586.1,367.2 587.1,366.2 588.1,365.2 C589.1,364.2 590.1,363.2 591.1,362.1 C592.1,361.1 593.1,360.1 594.1,359.1 C595.1,358.0 596.1,357.0 597.1,356.0 C598.1,354.9 599.1,353.9 600.1,352.8 C601.1,351.8 602.1,350.7 603.2,349.6 C604.2,348.6 605.2,347.5 606.2,346.4 C607.2,345.4 608.2,344.3 609.2,343.2 C610.2,342.1 611.2,341.1 612.2,340.0 C613.2,338.9 614.2,337.8 615.2,336.7 C616.2,335.6 617.2,334.6 618.2,333.5 C619.2,332.4 620.2,331.3 621.2,330.2 C622.2,329.1 623.2,328.1 624.2,327.0 C625.2,325.9 626.2,324.8 627.2,323.8 C628.2,322.7 629.2,321.7 630.2,320.6 C631.2,319.5 632.2,318.5 633.2,317.4 C634.2,316.4 635.2,315.4 636.2,314.3 C637.2,313.3 638.2,312.3 639.2,311.2 C640.2,310.2 641.2,309.2 642.2,308.2 C643.2,307.2 644.2,306.2 645.2,305.2 C646.2,304.2 647.2,303.2 648.2,302.3 C649.2,301.3 650.2,300.3 651.2,299.3 C652.2,298.4 653.2,297.4 654.2,296.5 C655.2,295.5 656.2,294.6 657.2,293.6 C658.2,292.7 659.2,291.8 660.2,290.9 C661.2,289.9 662.2,289.0 663.2,288.1 C664.2,287.2 665.2,286.3 666.2,285.4 C667.2,284.5 668.2,283.6 669.2,282.7 C670.2,281.9 671.2,281.0 672.2,280.1 C673.2,279.3 674.2,278.4 675.2,277.6 C676.2,276.7 677.2,275.9 678.2,275.0 C679.2,274.2 680.2,273.4 681.3,272.6 C682.3,271.7 683.3,270.9 684.3,270.1 C685.3,269.3 686.3,268.5 687.3,267.7 C688.3,266.9 689.3,266.2 690.3,265.4 C691.3,264.6 692.3,263.9 693.3,263.1 C694.3,262.3 695.3,261.6 696.3,260.9 C697.3,260.1 698.3,259.4 699.3,258.7 C700.3,257.9 701.3,257.2 702.3,256.5 C703.3,255.8 704.3,255.1 705.3,254.4 C706.3,253.7 707.3,253.0 708.3,252.4 C709.3,251.7 710.3,251.0 711.3,250.4 C712.3,249.7 713.3,249.1 714.3,248.4 C715.3,247.8 716.3,247.1 717.3,246.5 C718.3,245.9 719.3,245.3 720.3,244.7 C721.3,244.1 722.3,243.5 723.3,242.9 C724.3,242.3 725.3,241.7 726.3,241.1 C727.3,240.6 728.3,240.0 729.3,239.5 C730.3,238.9 731.3,238.4 732.3,237.8 C733.3,237.3 734.3,236.8 735.3,236.3 C736.3,235.7 737.3,235.2 738.3,234.7 C739.3,234.2 740.3,233.7 741.3,233.2 C742.3,232.8 743.3,232.3 744.3,231.8 C745.3,231.4 746.3,230.9 747.3,230.5 C748.3,230.0 749.3,229.6 750.3,229.1 C751.3,228.7 752.3,228.3 753.3,227.9 C754.3,227.4 755.3,227.0 756.3,226.6 C757.3,226.2 758.4,225.8 759.4,225.5 C760.4,225.1 761.4,224.7 762.4,224.3 C763.4,224.0 764.4,223.6 765.4,223.2 C766.4,222.9 767.4,222.5 768.4,222.2 C769.4,221.9 770.4,221.5 771.4,221.2 C772.4,220.9 773.4,220.6 774.4,220.3 C775.4,220.0 776.4,219.7 777.4,219.4 C778.4,219.1 779.4,218.8 780.4,218.5 C781.4,218.2 782.4,217.9 783.4,217.7 C784.4,217.4 785.4,217.1 786.4,216.9 C787.4,216.6 788.4,216.4 789.4,216.1 C790.4,215.9 791.4,215.7 792.4,215.4 C793.4,215.2 794.4,215.0 795.4,214.8 C796.4,214.6 797.4,214.4 798.4,214.2 C799.4,214.0 800.4,213.8 801.4,213.6 C802.4,213.4 803.4,213.2 804.4,213.0 C805.4,212.8 806.4,212.7 807.4,212.5 C808.4,212.3 809.4,212.2 810.4,212.0 C811.4,211.9 812.4,211.7 813.4,211.6 C814.4,211.4 815.4,211.3 816.4,211.2 C817.4,211.0 818.4,210.9 819.4,210.8 C820.4,210.7 821.4,210.5 822.4,210.4 C823.4,210.3 824.4,210.2 825.4,210.1 C826.4,210.0 827.4,209.9 828.4,209.8 C829.4,209.7 830.4,209.6 831.4,209.6 C832.4,209.5 833.4,209.4 834.4,209.3 C835.5,209.3 836.5,209.2 837.5,209.1 C838.5,209.1 839.5,209.0 840.5,209.0 C841.5,208.9 842.5,208.8 843.5,208.8 C844.5,208.8 845.5,208.7 846.5,208.7 C847.5,208.6 848.5,208.6 849.5,208.6 C850.5,208.6 851.5,208.5 852.5,208.5 C853.5,208.5 854.5,208.5 855.5,208.5 C856.5,208.5 857.5,208.4 858.5,208.4 C859.5,208.4 860.5,208.4 861.5,208.4 C862.5,208.4 863.5,208.4 864.5,208.5 C865.5,208.5 866.5,208.5 867.5,208.5 C868.5,208.5 869.5,208.5 870.5,208.5 C871.5,208.6 872.5,208.6 873.5,208.6 C874.5,208.7 875.5,208.7 876.5,208.7 C877.5,208.8 878.5,208.8 879.5,208.8 C880.5,208.9 881.5,208.9 882.5,209.0 C883.5,209.0 884.5,209.1 885.5,209.1 C886.5,209.2 887.5,209.2 888.5,209.3 C889.5,209.3 890.5,209.4 891.5,209.4 C892.5,209.5 893.5,209.6 894.5,209.6 C895.5,209.7 896.5,209.8 897.5,209.8 C898.5,209.9 899.5,210.0 900.5,210.1 C901.5,210.1 902.5,210.2 903.5,210.3 C904.5,210.4 905.5,210.4 906.5,210.5 C907.5,210.6 908.5,210.7 909.5,210.8 C910.5,210.9 911.5,210.9 912.5,211.0 C913.6,211.1 914.6,211.2 915.6,211.3 C916.6,211.4 917.6,211.5 918.6,211.6 C919.6,211.7 920.6,211.7 921.6,211.8 C922.6,211.9 923.6,212.0 924.6,212.1 C925.6,212.2 926.6,212.3 927.6,212.4 C928.6,212.5 929.6,212.6 930.6,212.7 C931.6,212.8 932.6,212.9 933.6,213.0 C934.6,213.1 935.6,213.2 936.6,213.3 C937.6,213.4 938.6,213.5 939.6,213.6 C940.6,213.7 941.6,213.8 942.6,213.9 C943.6,214.0 944.6,214.1 945.6,214.2 C946.6,214.4 947.6,214.5 948.6,214.6 C949.6,214.7 951.1,214.8 951.6,214.9" stroke="#0c0cc0" />
<path d="M176.6,592.9 C177.1,592.9 178.6,592.9 179.6,592.9 C180.6,593.0 181.6,593.0 182.6,593.0 C183.6,593.0 184.6,593.0 185.6,593.0 C186.6,593.0 187.6,593.0 188.6,593.0 C189.6,593.0 190.6,593.0 191.6,593.0 C192.6,592.9 193.6,592.9 194.6,592.9 C195.6,592.9 196.6,592.8 197.6,592.8 C198.6,592.8 199.6,592.7 200.6,592.7 C201.6,592.6 202.6,592.6 203.6,592.5 C204.6,592.5 205.6,592.4 206.6,592.4 C207.6,592.3 208.6,592.2 209.6,592.1 C210.6,592.1 211.6,592.0 212.6,591.9 C213.6,591.8 214.6,591.7 215.7,591.6 C216.7,591.5 217.7,591.4 218.7,591.3 C219.7,591.2 220.7,591.1 221.7,591.0 C222.7,590.9 223.7,590.7 224.7,590.6 C225.7,590.5 226.7,590.3 227.7,590.2 C228.7,590.1 229.7,589.9 230.7,589.8 C231.7,589.6 232.7,589.5 233.7,589.3 C234.7,589.1 235.7,589.0 236.7,588.8 C237.7,588.6 238.7,588.4 239.7,588.3 C240.7,588.1 241.7,587.9 242.7,587.7 C243.7,587.5 244.7,587.3 245.7,587.1 C246.7,586.9 247.7,586.7 248.7,586.4 C249.7,586.2 250.7,586.0 251.7,585.8 C252.7,585.5 253.7,585.3 254.7,585.1 C255.7,584.8 256.7,584.6 257.7,584.3 C258.7,584.0 259.7,583.8 260.7,583.5 C261.7,583.2 262.7,583.0 263.7,582.7 C264.7,582.4 265.7,582.1 266.7,581.8 C267.7,581.5 268.7,581.2 269.7,580.9 C270.7,580.6 271.7,580.3 272.7,579.9 C273.7,579.6 274.7,579.3 275.7,578.9 C276.7,578.6 277.7,578.2 278.7,577.8 C279.7,577.5 280.7,577.1 281.7,576.7 C282.7,576.3 283.7,575.9 284.7,575.5 C285.7,575.1 286.7,574.7 287.7,574.3 C288.7,573.9 289.7,573.5 290.7,573.0 C291.7,572.6 292.7,572.1 293.8,571.7 C294.8,571.2 295.8,570.8 296.8,570.3 C297.8,569.8 298.8,569.3 299.8,568.8 C300.8,568.3 301.8,567.8 302.8,567.3 C303.8,566.8 304.8,566.3 305.8,565.8 C306.8,565.2 307.8,564.7 308.8,564.1 C309.8,563.6 310.8,563.0 311.8,562.5 C312.8,561.9 313.8,561.3 314.8,560.7 C315.8,560.1 316.8,559.6 317.8,559.0 C318.8,558.3 319.8,557.7 320.8,557.1 C321.8,556.5 322.8,555.9 323.8,555.2 C324.8,554.6 325.8,553.9 326.8,553.3 C327.8,552.6 328.8,552.0 329.8,551.3 C330.8,550.6 331.8,549.9 332.8,549.3 C333.8,548.6 334.8,547.9 335.8,547.2 C336.8,546.5 337.8,545.7 338.8,545.0 C339.8,544.3 340.8,543.6 341.8,542.8 C342.8,542.1 343.8,541.3 344.8,540.6 C345.8,539.8 346.8,539.1 347.8,538.3 C348.8,537.5 349.8,536.7 350.8,535.9 C351.8,535.2 352.8,534.4 353.8,533.6 C354.8,532.7 355.8,531.9 356.8,531.1 C357.8,530.3 358.8,529.5 359.8,528.6 C360.8,527.8 361.8,526.9 362.8,526.1 C363.8,525.2 364.8,524.4 365.8,523.5 C366.8,522.6 367.8,521.8 368.8,520.9 C369.8,520.0 370.9,519.1 371.9,518.2 C372.9,517.3 373.9,516.4 374.9,515.5 C375.9,514.6 376.9,513.7 377.9,512.8 C378.9,511.9 379.9,510.9 380.9,510.0 C381.9,509.1 382.9,508.2 383.9,507.2 C384.9,506.3 385.9,505.4 386.9,504.4 C387.9,503.5 388.9,502.5 389.9,501.6 C390.9,500.6 391.9,499.7 392.9,498.7 C393.9,497.7 394.9,496.8 395.9,495.8 C396.9,494.9 397.9,493.9 398.9,492.9 C399.9,492.0 400.9,491.0 401.9,490.0 C402.9,489.1 403.9,488.1 404.9,487.1 C405.9,486.1 406.9,485.2 407.9,484.2 C408.9,483.2 409.9,482.2 410.9,481.3 C411.9,480.3 412.9,479.3 413.9,478.3 C414.9,477.4 415.9,476.4 416.9,475.4 C417.9,474.4 418.9,473.5 419.9,472.5 C420.9,471.5 421.9,470.5 422.9,469.6 C423.9,468.6 424.9,467.6 425.9,466.6 C426.9,465.7 427.9,464.7 428.9,463.7 C429.9,462.7 430.9,461.8 431.9,460.8 C432.9,459.8 433.9,458.9 434.9,457.9 C435.9,456.9 436.9,456.0 437.9,455.0 C438.9,454.0 439.9,453.1 440.9,452.1 C441.9,451.1 442.9,450.2 443.9,449.2 C444.9,448.2 445.9,447.3 446.9,446.3 C448.0,445.4 449.0,444.4 450.0,443.4 C451.0,442.5 452.0,441.5 453.0,440.6 C454.0,439.6 455.0,438.7 456.0,437.7 C457.0,436.8 458.0,435.8 459.0,434.9 C460.0,433.9 461.0,433.0 462.0,432.0 C463.0,431.1 464.0,430.1 465.0,429.2 C466.0,428.2 467.0,427.3 468.0,426.4 C469.0,425.4 470.0,424.5 471.0,423.5 C472.0,422.6 473.0,421.7 474.0,420.7 C475.0,419.8 476.0,418.8 477.0,417.9 C478.0,417.0 479.0,416.0 480.0,415.1 C481.0,414.2 482.0,413.3 483.0,412.3 C484.0,411.4 485.0,410.5 486.0,409.5 C487.0,408.6 488.0,407.7 489.0,406.8 C490.0,405.8 491.0,404.9 492.0,404.0 C493.0,403.1 494.0,402.2 495.0,401.3 C496.0,400.3 497.0,399.4 498.0,398.5 C499.0,397.6 500.0,396.7 501.0,395.8 C502.0,394.9 503.0,393.9 504.0,393.0 C505.0,392.1 506.0,391.2 507.0,390.3 C508.0,389.4 509.0,388.5 510.0,387.6 C511.0,386.7 512.0,385.8 513.0,384.9 C514.0,384.0 515.0,383.1 516.0,382.2 C517.0,381.3 518.0,380.4 519.0,379.5 C520.0,378.6 521.0,377.7 522.0,376.8 C523.0,375.9 524.0,375.0 525.0,374.1 C526.1,373.2 527.1,372.3 528.1,371.5 C529.1,370.6 530.1,369.7 531.1,368.8 C532.1,367.9 533.1,367.0 534.1,366.1 C535.1,365.2 536.1,364.3 537.1,363.4 C538.1,362.6 539.1,361.7 540.1,360.8 C541.1,359.9 542.1,359.0 543.1,358.1 C544.1,357.2 545.1,356.4 546.1,355.5 C547.1,354.6 548.1,353.7 549.1,352.8 C550.1,351.9 551.1,351.0 552.1,350.2 C553.1,349.3 554.1,348.4 555.1,347.5 C556.1,346.6 557.1,345.7 558.1,344.9 C559.1,344.0 560.1,343.1 561.1,342.2 C562.1,341.3 563.1,340.4 564.1,339.5 C565.1,338.7 566.1,337.8 567.1,336.9 C568.1,336.0 569.1,335.1 570.1,334.2 C571.1,333.4 572.1,332.5 573.1,331.6 C574.1,330.7 575.1,329.8 576.1,328.9 C577.1,328.0 578.1,327.2 579.1,326.3 C580.1,325.4 581.1,324.5 582.1,323.6 C583.1,322.7 584.1,321.8 585.1,321.0 C586.1,320.1 587.1,319.2 588.1,318.3 C589.1,317.4 590.1,316.6 591.1,315.7 C592.1,314.8 593.1,313.9 594.1,313.1 C595.1,312.2 596.1,311.3 597.1,310.5 C598.1,309.6 599.1,308.7 600.1,307.9 C601.1,307.0 602.1,306.2 603.2,305.3 C604.2,304.5 605.2,303.6 606.2,302.8 C607.2,301.9 608.2,301.1 609.2,300.2 C610.2,299.4 611.2,298.6 612.2,297.7 C613.2,296.9 614.2,296.1 615.2,295.3 C616.2,294.5 617.2,293.6 618.2,292.8 C619.2,292.0 620.2,291.2 621.2,290.4 C622.2,289.6 623.2,288.8 624.2,288.0 C625.2,287.2 626.2,286.5 627.2,285.7 C628.2,284.9 629.2,284.1 630.2,283.3 C631.2,282.6 632.2,281.8 633.2,281.0 C634.2,280.3 635.2,279.5 636.2,278.8 C637.2,278.0 638.2,277.3 639.2,276.5 C640.2,275.8 641.2,275.0 642.2,274.3 C643.2,273.6 644.2,272.8 645.2,272.1 C646.2,271.4 647.2,270.7 648.2,269.9 C649.2,269.2 650.2,268.5 651.2,267.8 C652.2,267.1 653.2,266.4 654.2,265.7 C655.2,265.0 656.2,264.3 657.2,263.6 C658.2,262.9 659.2,262.3 660.2,261.6 C661.2,260.9 662.2,260.2 663.2,259.6 C664.2,258.9 665.2,258.2 666.2,257.6 C667.2,256.9 668.2,256.3 669.2,255.6 C670.2,255.0 671.2,254.3 672.2,253.7 C673.2,253.1 674.2,252.4 675.2,251.8 C676.2,251.2 677.2,250.6 678.2,249.9 C679.2,249.3 680.2,248.7 681.3,248.1 C682.3,247.5 683.3,246.9 684.3,246.3 C685.3,245.7 686.3,245.1 687.3,244.5 C688.3,243.9 689.3,243.4 690.3,242.8 C691.3,242.2 692.3,241.6 693.3,241.1 C694.3,240.5 695.3,240.0 696.3,239.4 C697.3,238.8 698.3,238.3 699.3,237.8 C700.3,237.2 701.3,236.7 702.3,236.1 C703.3,235.6 704.3,235.1 705.3,234.6 C706.3,234.0 707.3,233.5 708.3,233.0 C709.3,232.5 710.3,232.0 711.3,231.5 C712.3,231.0 713.3,230.5 714.3,230.0 C715.3,229.5 716.3,229.0 717.3,228.6 C718.3,228.1 719.3,227.6 720.3,227.1 C721.3,226.7 722.3,226.2 723.3,225.8 C724.3,225.3 725.3,224.8 726.3,224.4 C727.3,224.0 728.3,223.5 729.3,223.1 C730.3,222.6 731.3,222.2 732.3,221.8 C733.3,221.4 734.3,220.9 735.3,220.5 C736.3,220.1 737.3,219.7 738.3,219.3 C739.3,218.9 740.3,218.5 741.3,218.1 C742.3,217.7 743.3,217.4 744.3,217.0 C745.3,216.6 746.3,216.2 747.3,215.8 C748.3,215.5 749.3,215.1 750.3,214.8 C751.3,214.4 752.3,214.0 753.3,213.7 C754.3,213.3 755.3,213.0 756.3,212.7 C757.3,212.3 758.4,212.0 759.4,211.7 C760.4,211.3 761.4,211.0 762.4,210.7 C763.4,210.4 764.4,210.0 765.4,209.7 C766.4,209.4 767.4,209.1 768.4,208.8 C769.4,208.5 770.4,208.2 771.4,207.9 C772.4,207.6 773.4,207.4 774.4,207.1 C775.4,206.8 776.4,206.5 777.4,206.2 C778.4,206.0 779.4,205.7 780.4,205.4 C781.4,205.2 782.4,204.9 783.4,204.6 C784.4,204.4 785.4,204.1 786.4,203.9 C787.4,203.6 788.4,203.4 789.4,203.1 C790.4,202.9 791.4,202.7 792.4,202.4 C793.4,202.2 794.4,202.0 795.4,201.7 C796.4,201.5 797.4,201.3 798.4,201.1 C799.4,200.9 800.4,200.7 801.4,200.4 C802.4,200.2 803.4,200.0 804.4,199.8 C805.4,199.6 806.4,199.4 807.4,199.2 C808.4,199.0 809.4,198.8 810.4,198.7 C811.4,198.5 812.4,198.3 813.4,198.1 C814.4,197.9 815.4,197.7 816.4,197.6 C817.4,197.4 818.4,197.2 819.4,197.0 C820.4,196.9 821.4,196.7 822.4,196.6 C823.4,196.4 824.4,196.2 825.4,196.1 C826.4,195.9 827.4,195.8 828.4,195.6 C829.4,195.5 830.4,195.3 831.4,195.2 C832.4,195.0 833.4,194.9 834.4,194.7 C835.5,194.6 836.5,194.5 837.5,194.3 C838.5,194.2 839.5,194.1 840.5,193.9 C841.5,193.8 842.5,193.7 843.5,193.6 C844.5,193.5 845.5,193.3 846.5,193.2 C847.5,193.1 848.5,193.0 849.5,192.9 C850.5,192.8 851.5,192.6 852.5,192.5 C853.5,192.4 854.5,192.3 855.5,192.2 C856.5,192.1 857.5,192.0 858.5,191.9 C859.5,191.8 860.5,191.7 861.5,191.6 C862.5,191.5 863.5,191.4 864.5,191.3 C865.5,191.3 866.5,191.2 867.5,191.1 C868.5,191.0 869.5,190.9 870.5,190.8 C871.5,190.7 872.5,190.7 873.5,190.6 C874.5,190.5 875.5,190.4 876.5,190.3 C877.5,190.3 878.5,190.2 879.5,190.1 C880.5,190.0 881.5,190.0 882.5,189.9 C883.5,189.8 884.5,189.8 885.5,189.7 C886.5,189.6 887.5,189.6 888.5,189.5 C889.5,189.4 890.5,189.4 891.5,189.3 C892.5,189.2 893.5,189.2 894.5,189.1 C895.5,189.1 896.5,189.0 897.5,188.9 C898.5,188.9 899.5,188.8 900.5,188.8 C901.5,188.7 902.5,188.7 903.5,188.6 C904.5,188.6 905.5,188.5 906.5,188.4 C907.5,188.4 908.5,188.3 909.5,188.3 C910.5,188.2 911.5,188.2 912.5,188.1 C913.6,188.1 914.6,188.0 915.6,188.0 C916.6,188.0 917.6,187.9 918.6,187.9 C919.6,187.8 920.6,187.8 921.6,187.7 C922.6,187.7 923.6,187.6 924.6,187.6 C925.6,187.5 926.6,187.5 927.6,187.4 C928.6,187.4 929.6,187.4 930.6,187.3 C931.6,187.3 932.6,187.2 933.6,187.2 C934.6,187.1 935.6,187.1 936.6,187.0 C937.6,187.0 938.6,187.0 939.6,186.9 C940.6,186.9 941.6,186.8 942.6,186.8 C943.6,186.7 944.6,186.7 945.6,186.6 C946.6,186.6 947.6,186.6 948.6,186.5 C949.6,186.5 951.1,186.4 951.6,186.4" stroke="#000000" />
<path d="M176.6,587.9 C177.1,587.9 178.6,588.0 179.6,588.1 C180.6,588.2 181.6,588.2 182.6,588.3 C183.6,588.3 184.6,588.3 185.6,588.4 C186.6,588.4 187.6,588.4 188.6,588.4 C189.6,588.4 190.6,588.4 191.6,588.3 C192.6,588.3 193.6,588.3 194.6,588.2 C195.6,588.2 196.6,588.2 197.6,588.1 C198.6,588.0 199.6,588.0 200.6,587.9 C201.6,587.8 202.6,587.7 203.6,587.6 C204.6,587.5 205.6,587.4 206.6,587.3 C207.6,587.2 208.6,587.1 209.6,586.9 C210.6,586.8 211.6,586.6 212.6,586.5 C213.6,586.3 214.6,586.2 215.7,586.0 C216.7,585.8 217.7,585.7 218.7,585.5 C219.7,585.3 220.7,585.1 221.7,584.9 C222.7,584.7 223.7,584.5 224.7,584.3 C225.7,584.1 226.7,583.9 227.7,583.6 C228.7,583.4 229.7,583.2 230.7,582.9 C231.7,582.7 232.7,582.4 233.7,582.2 C234.7,581.9 235.7,581.6 236.7,581.4 C237.7,581.1 238.7,580.8 239.7,580.5 C240.7,580.2 241.7,579.9 242.7,579.6 C243.7,579.3 244.7,579.0 245.7,578.7 C246.7,578.4 247.7,578.1 248.7,577.8 C249.7,577.5 250.7,577.1 251.7,576.8 C252.7,576.5 253.7,576.1 254.7,575.8 C255.7,575.4 256.7,575.1 257.7,574.7 C258.7,574.4 259.7,574.0 260.7,573.6 C261.7,573.3 262.7,572.9 263.7,572.5 C264.7,572.1 265.7,571.8 266.7,571.4 C267.7,571.0 268.7,570.6 269.7,570.2 C270.7,569.8 271.7,569.4 272.7,569.0 C273.7,568.6 274.7,568.2 275.7,567.7 C276.7,567.3 277.7,566.9 278.7,566.5 C279.7,566.0 280.7,565.6 281.7,565.1 C282.7,564.7 283.7,564.3 284.7,563.8 C285.7,563.3 286.7,562.9 287.7,562.4 C288.7,561.9 289.7,561.5 290.7,561.0 C291.7,560.5 292.7,560.0 293.8,559.5 C294.8,559.0 295.8,558.5 296.8,558.0 C297.8,557.5 298.8,557.0 299.8,556.5 C300.8,556.0 301.8,555.5 302.8,554.9 C303.8,554.4 304.8,553.9 305.8,553.3 C306.8,552.8 307.8,552.2 308.8,551.6 C309.8,551.1 310.8,550.5 311.8,549.9 C312.8,549.4 313.8,548.8 314.8,548.2 C315.8,547.6 316.8,547.0 317.8,546.4 C318.8,545.8 319.8,545.2 320.8,544.6 C321.8,544.0 322.8,543.3 323.8,542.7 C324.8,542.1 325.8,541.4 326.8,540.8 C327.8,540.1 328.8,539.5 329.8,538.8 C330.8,538.2 331.8,537.5 332.8,536.8 C333.8,536.1 334.8,535.4 335.8,534.7 C336.8,534.0 337.8,533.3 338.8,532.6 C339.8,531.9 340.8,531.2 341.8,530.5 C342.8,529.7 343.8,529.0 344.8,528.3 C345.8,527.5 346.8,526.8 347.8,526.0 C348.8,525.2 349.8,524.5 350.8,523.7 C351.8,522.9 352.8,522.1 353.8,521.3 C354.8,520.6 355.8,519.8 356.8,519.0 C357.8,518.2 358.8,517.4 359.8,516.6 C360.8,515.8 361.8,515.0 362.8,514.1 C363.8,513.3 364.8,512.5 365.8,511.7 C366.8,510.9 367.8,510.1 368.8,509.3 C369.8,508.5 370.9,507.7 371.9,506.9 C372.9,506.1 373.9,505.3 374.9,504.5 C375.9,503.7 376.9,502.9 377.9,502.1 C378.9,501.3 379.9,500.5 380.9,499.7 C381.9,498.9 382.9,498.1 383.9,497.3 C384.9,496.5 385.9,495.8 386.9,495.0 C387.9,494.2 388.9,493.4 389.9,492.7 C390.9,491.9 391.9,491.1 392.9,490.4 C393.9,489.6 394.9,488.8 395.9,488.1 C396.9,487.3 397.9,486.6 398.9,485.8 C399.9,485.1 400.9,484.3 401.9,483.6 C402.9,482.8 403.9,482.1 404.9,481.3 C405.9,480.6 406.9,479.8 407.9,479.1 C408.9,478.4 409.9,477.6 410.9,476.9 C411.9,476.2 412.9,475.4 413.9,474.7 C414.9,474.0 415.9,473.3 416.9,472.5 C417.9,471.8 418.9,471.1 419.9,470.4 C420.9,469.7 421.9,468.9 422.9,468.2 C423.9,467.5 424.9,466.8 425.9,466.1 C426.9,465.4 427.9,464.7 428.9,464.0 C429.9,463.3 430.9,462.6 431.9,461.9 C432.9,461.2 433.9,460.5 434.9,459.8 C435.9,459.2 436.9,458.5 437.9,457.8 C438.9,457.1 439.9,456.4 440.9,455.7 C441.9,455.0 442.9,454.4 443.9,453.7 C444.9,453.0 445.9,452.3 446.9,451.7 C448.0,451.0 449.0,450.3 450.0,449.7 C451.0,449.0 452.0,448.3 453.0,447.6 C454.0,447.0 455.0,446.3 456.0,445.7 C457.0,445.0 458.0,444.3 459.0,443.7 C460.0,443.0 461.0,442.4 462.0,441.7 C463.0,441.0 464.0,440.4 465.0,439.7 C466.0,439.1 467.0,438.4 468.0,437.8 C469.0,437.1 470.0,436.5 471.0,435.8 C472.0,435.2 473.0,434.5 474.0,433.9 C475.0,433.3 476.0,432.6 477.0,432.0 C478.0,431.3 479.0,430.7 480.0,430.0 C481.0,429.4 482.0,428.8 483.0,428.1 C484.0,427.5 485.0,426.8 486.0,426.2 C487.0,425.6 488.0,424.9 489.0,424.3 C490.0,423.7 491.0,423.0 492.0,422.4 C493.0,421.8 494.0,421.1 495.0,420.5 C496.0,419.9 497.0,419.2 498.0,418.6 C499.0,418.0 500.0,417.3 501.0,416.7 C502.0,416.1 503.0,415.4 504.0,414.8 C505.0,414.2 506.0,413.5 507.0,412.9 C508.0,412.3 509.0,411.6 510.0,411.0 C511.0,410.4 512.0,409.7 513.0,409.1 C514.0,408.5 515.0,407.8 516.0,407.2 C517.0,406.6 518.0,406.0 519.0,405.3 C520.0,404.7 521.0,404.1 522.0,403.4 C523.0,402.8 524.0,402.2 525.0,401.5 C526.1,400.9 527.1,400.3 528.1,399.6 C529.1,399.0 530.1,398.4 531.1,397.7 C532.1,397.1 533.1,396.4 534.1,395.8 C535.1,395.2 536.1,394.5 537.1,393.9 C538.1,393.3 539.1,392.6 540.1,392.0 C541.1,391.3 542.1,390.7 543.1,390.0 C544.1,389.4 545.1,388.7 546.1,388.1 C547.1,387.5 548.1,386.8 549.1,386.2 C550.1,385.5 551.1,384.8 552.1,384.2 C553.1,383.5 554.1,382.9 555.1,382.2 C556.1,381.6 557.1,380.9 558.1,380.2 C559.1,379.6 560.1,378.9 561.1,378.2 C562.1,377.6 563.1,376.9 564.1,376.2 C565.1,375.6 566.1,374.9 567.1,374.2 C568.1,373.5 569.1,372.8 570.1,372.2 C571.1,371.5 572.1,370.8 573.1,370.1 C574.1,369.4 575.1,368.7 576.1,368.0 C577.1,367.3 578.1,366.6 579.1,365.9 C580.1,365.2 581.1,364.5 582.1,363.8 C583.1,363.1 584.1,362.4 585.1,361.7 C586.1,360.9 587.1,360.2 588.1,359.5 C589.1,358.8 590.1,358.0 591.1,357.3 C592.1,356.6 593.1,355.8 594.1,355.1 C595.1,354.4 596.1,353.6 597.1,352.9 C598.1,352.1 599.1,351.4 600.1,350.6 C601.1,349.8 602.1,349.1 603.2,348.3 C604.2,347.6 605.2,346.8 606.2,346.0 C607.2,345.2 608.2,344.4 609.2,343.7 C610.2,342.9 611.2,342.1 612.2,341.3 C613.2,340.5 614.2,339.7 615.2,338.9 C616.2,338.1 617.2,337.3 618.2,336.5 C619.2,335.6 620.2,334.8 621.2,334.0 C622.2,333.2 623.2,332.3 624.2,331.5 C625.2,330.6 626.2,329.8 627.2,329.0 C628.2,328.1 629.2,327.3 630.2,326.4 C631.2,325.6 632.2,324.7 633.2,323.8 C634.2,323.0 635.2,322.1 636.2,321.2 C637.2,320.4 638.2,319.5 639.2,318.6 C640.2,317.8 641.2,316.9 642.2,316.0 C643.2,315.1 644.2,314.3 645.2,313.4 C646.2,312.5 647.2,311.6 648.2,310.8 C649.2,309.9 650.2,309.0 651.2,308.1 C652.2,307.2 653.2,306.4 654.2,305.5 C655.2,304.6 656.2,303.7 657.2,302.9 C658.2,302.0 659.2,301.1 660.2,300.2 C661.2,299.4 662.2,298.5 663.2,297.6 C664.2,296.8 665.2,295.9 666.2,295.1 C667.2,294.2 668.2,293.3 669.2,292.5 C670.2,291.6 671.2,290.8 672.2,289.9 C673.2,289.1 674.2,288.2 675.2,287.4 C676.2,286.6 677.2,285.7 678.2,284.9 C679.2,284.1 680.2,283.3 681.3,282.4 C682.3,281.6 683.3,280.8 684.3,280.0 C685.3,279.2 686.3,278.4 687.3,277.6 C688.3,276.8 689.3,276.0 690.3,275.2 C691.3,274.4 692.3,273.6 693.3,272.9 C694.3,272.1 695.3,271.3 696.3,270.5 C697.3,269.8 698.3,269.0 699.3,268.2 C700.3,267.5 701.3,266.7 702.3,266.0 C703.3,265.2 704.3,264.5 705.3,263.7 C706.3,263.0 707.3,262.2 708.3,261.5 C709.3,260.8 710.3,260.0 711.3,259.3 C712.3,258.6 713.3,257.8 714.3,257.1 C715.3,256.4 716.3,255.7 717.3,255.0 C718.3,254.3 719.3,253.6 720.3,252.9 C721.3,252.2 722.3,251.5 723.3,250.8 C724.3,250.1 725.3,249.4 726.3,248.7 C727.3,248.0 728.3,247.3 729.3,246.6 C730.3,246.0 731.3,245.3 732.3,244.6 C733.3,243.9 734.3,243.3 735.3,242.6 C736.3,241.9 737.3,241.3 738.3,240.6 C739.3,240.0 740.3,239.3 741.3,238.7 C742.3,238.0 743.3,237.4 744.3,236.8 C745.3,236.1 746.3,235.5 747.3,234.9 C748.3,234.2 749.3,233.6 750.3,233.0 C751.3,232.4 752.3,231.7 753.3,231.1 C754.3,230.5 755.3,229.9 756.3,229.3 C757.3,228.7 758.4,228.1 759.4,227.5 C760.4,226.9 761.4,226.3 762.4,225.7 C763.4,225.1 764.4,224.5 765.4,223.9 C766.4,223.4 767.4,222.8 768.4,222.2 C769.4,221.6 770.4,221.1 771.4,220.5 C772.4,219.9 773.4,219.4 774.4,218.8 C775.4,218.3 776.4,217.7 777.4,217.2 C778.4,216.6 779.4,216.1 780.4,215.5 C781.4,215.0 782.4,214.5 783.4,213.9 C784.4,213.4 785.4,212.9 786.4,212.3 C787.4,211.8 788.4,211.3 789.4,210.8 C790.4,210.3 791.4,209.7 792.4,209.2 C793.4,208.7 794.4,208.2 795.4,207.7 C796.4,207.2 797.4,206.7 798.4,206.2 C799.4,205.7 800.4,205.3 801.4,204.8 C802.4,204.3 803.4,203.8 804.4,203.3 C805.4,202.9 806.4,202.4 807.4,201.9 C808.4,201.5 809.4,201.0 810.4,200.5 C811.4,200.1 812.4,199.6 813.4,199.2 C814.4,198.7 815.4,198.3 816.4,197.8 C817.4,197.4 818.4,197.0 819.4,196.5 C820.4,196.1 821.4,195.7 822.4,195.2 C823.4,194.8 824.4,194.4 825.4,194.0 C826.4,193.5 827.4,193.1 828.4,192.7 C829.4,192.3 830.4,191.9 831.4,191.5 C832.4,191.1 833.4,190.7 834.4,190.3 C835.5,189.9 836.5,189.5 837.5,189.1 C838.5,188.8 839.5,188.4 840.5,188.0 C841.5,187.6 842.5,187.2 843.5,186.9 C844.5,186.5 845.5,186.1 846.5,185.8 C847.5,185.4 848.5,185.1 849.5,184.7 C850.5,184.4 851.5,184.0 852.5,183.7 C853.5,183.3 854.5,183.0 855.5,182.7 C856.5,182.3 857.5,182.0 858.5,181.7 C859.5,181.3 860.5,181.0 861.5,180.7 C862.5,180.4 863.5,180.0 864.5,179.7 C865.5,179.4 866.5,179.1 867.5,178.8 C868.5,178.5 869.5,178.2 870.5,177.9 C871.5,177.6 872.5,177.3 873.5,177.0 C874.5,176.8 875.5,176.5 876.5,176.2 C877.5,175.9 878.5,175.6 879.5,175.4 C880.5,175.1 881.5,174.8 882.5,174.6 C883.5,174.3 884.5,174.1 885.5,173.8 C886.5,173.5 887.5,173.3 888.5,173.1 C889.5,172.8 890.5,172.6 891.5,172.3 C892.5,172.1 893.5,171.9 894.5,171.6 C895.5,171.4 896.5,171.2 897.5,171.0 C898.5,170.7 899.5,170.5 900.5,170.3 C901.5,170.1 902.5,169.9 903.5,169.7 C904.5,169.5 905.5,169.3 906.5,169.1 C907.5,168.9 908.5,168.7 909.5,168.5 C910.5,168.3 911.5,168.1 912.5,167.9 C913.6,167.8 914.6,167.6 915.6,167.4 C916.6,167.2 917.6,167.1 918.6,166.9 C919.6,166.8 920.6,166.6 921.6,166.4 C922.6,166.3 923.6,166.1 924.6,166.0 C925.6,165.8 926.6,165.7 927.6,165.6 C928.6,165.4 929.6,165.3 930.6,165.2 C931.6,165.0 932.6,164.9 933.6,164.8 C934.6,164.7 935.6,164.5 936.6,164.4 C937.6,164.3 938.6,164.2 939.6,164.1 C940.6,164.0 941.6,163.9 942.6,163.8 C943.6,163.7 944.6,163.6 945.6,163.5 C946.6,163.4 947.6,163.3 948.6,163.3 C949.6,163.2 951.1,163.1 951.6,163.0" stroke="#2edc30" />
</g>
<g clip-path="url(#cb)" fill="none" stroke-width="4.8" stroke-linejoin="round">
<path d="M1197.0,236.0 C1197.7,237.7 1199.8,243.2 1201.0,246.1 C1202.2,248.9 1203.5,252.0 1204.0,253.1 C1204.5,254.1 1206.0,257.3 1207.0,259.2 C1208.0,261.2 1209.0,263.0 1210.0,264.9 C1211.0,266.7 1212.0,268.5 1213.0,270.4 C1214.0,272.3 1215.0,274.3 1216.0,276.4 C1217.0,278.4 1218.0,280.6 1219.0,282.9 C1220.0,285.1 1221.0,287.5 1222.0,289.8 C1223.0,292.2 1224.0,294.6 1225.0,297.0 C1226.0,299.5 1227.0,301.9 1228.0,304.3 C1229.0,306.8 1230.0,309.2 1231.0,311.5 C1232.0,313.9 1233.0,316.2 1234.0,318.4 C1235.0,320.7 1236.0,322.9 1237.0,325.0 C1238.0,327.1 1239.0,329.1 1240.0,331.1 C1241.0,333.1 1242.0,335.0 1243.0,336.9 C1244.0,338.8 1245.0,340.6 1246.0,342.4 C1247.0,344.2 1248.0,345.9 1249.0,347.6 C1250.0,349.3 1251.0,351.0 1252.0,352.6 C1253.0,354.2 1254.0,355.7 1255.0,357.3 C1256.0,358.8 1257.0,360.3 1258.0,361.8 C1259.0,363.2 1260.0,364.7 1261.0,366.1 C1262.0,367.5 1263.0,368.9 1264.0,370.3 C1265.0,371.6 1266.0,373.0 1267.0,374.3 C1268.0,375.6 1269.0,376.9 1270.0,378.2 C1271.0,379.5 1272.0,380.8 1273.0,382.1 C1274.0,383.4 1275.0,384.7 1276.0,385.9 C1277.0,387.2 1278.0,388.5 1279.0,389.8 C1280.0,391.0 1281.0,392.3 1282.0,393.6 C1283.0,394.8 1284.0,396.1 1285.0,397.3 C1286.0,398.6 1287.0,399.8 1288.0,401.1 C1289.0,402.3 1290.0,403.6 1291.0,404.8 C1292.0,406.1 1293.0,407.3 1294.0,408.5 C1295.0,409.8 1296.0,411.0 1297.0,412.2 C1298.0,413.4 1299.0,414.6 1300.0,415.8 C1301.0,417.0 1302.0,418.2 1303.0,419.4 C1304.0,420.6 1305.0,421.8 1306.0,423.0 C1307.0,424.2 1308.0,425.4 1309.0,426.5 C1310.0,427.7 1311.0,428.9 1312.0,430.0 C1313.0,431.2 1314.0,432.3 1315.0,433.4 C1316.0,434.6 1317.0,435.7 1318.0,436.8 C1319.0,437.9 1320.0,439.0 1321.0,440.1 C1322.0,441.2 1323.0,442.3 1324.0,443.4 C1325.0,444.5 1326.0,445.6 1327.0,446.6 C1328.0,447.7 1329.0,448.7 1330.0,449.8 C1331.0,450.8 1332.0,451.8 1333.0,452.9 C1334.0,453.9 1335.0,454.9 1336.0,455.9 C1337.0,456.9 1338.0,457.9 1339.0,458.8 C1340.0,459.8 1341.0,460.8 1342.0,461.7 C1343.0,462.7 1344.0,463.6 1345.0,464.5 C1346.0,465.4 1347.0,466.3 1348.0,467.2 C1349.0,468.1 1350.0,469.0 1351.0,469.9 C1352.0,470.7 1353.0,471.6 1354.0,472.4 C1355.0,473.3 1356.0,474.1 1357.0,474.9 C1358.0,475.7 1359.0,476.5 1360.0,477.3 C1361.0,478.0 1362.0,478.8 1363.0,479.6 C1364.0,480.3 1365.0,481.1 1366.0,481.8 C1367.0,482.5 1368.0,483.2 1369.0,483.9 C1370.0,484.6 1371.0,485.3 1372.0,486.0 C1373.0,486.7 1374.0,487.4 1375.0,488.0 C1376.0,488.7 1377.0,489.3 1378.0,490.0 C1379.0,490.6 1380.0,491.2 1381.0,491.8 C1382.0,492.4 1383.0,493.0 1384.0,493.6 C1385.0,494.2 1386.0,494.8 1387.0,495.4 C1388.0,495.9 1389.0,496.5 1390.0,497.1 C1391.0,497.6 1392.0,498.2 1393.0,498.7 C1394.0,499.2 1395.0,499.7 1396.0,500.3 C1397.0,500.8 1398.0,501.3 1399.0,501.8 C1400.0,502.3 1401.0,502.8 1402.0,503.3 C1403.0,503.8 1404.0,504.2 1405.0,504.7 C1406.0,505.2 1407.0,505.6 1408.0,506.1 C1409.0,506.5 1410.0,507.0 1411.0,507.4 C1412.0,507.9 1413.0,508.3 1414.0,508.7 C1415.0,509.2 1416.0,509.6 1417.0,510.0 C1418.0,510.4 1419.0,510.9 1420.0,511.3 C1421.0,511.7 1422.0,512.1 1423.0,512.5 C1424.0,512.9 1425.0,513.3 1426.0,513.7 C1427.0,514.0 1428.0,514.4 1429.0,514.8 C1430.0,515.2 1431.0,515.6 1432.0,515.9 C1433.0,516.3 1434.0,516.7 1435.0,517.0 C1436.0,517.4 1437.0,517.8 1438.0,518.1 C1439.0,518.5 1440.0,518.9 1441.0,519.2 C1442.0,519.6 1443.0,519.9 1444.0,520.3 C1445.0,520.6 1446.0,521.0 1447.0,521.3 C1448.0,521.7 1449.0,522.0 1450.0,522.4 C1451.0,522.7 1452.0,523.1 1453.0,523.4 C1454.0,523.8 1455.0,524.1 1456.0,524.4 C1457.0,524.8 1458.0,525.1 1459.0,525.5 C1460.0,525.8 1461.0,526.2 1462.0,526.5 C1463.0,526.8 1464.0,527.2 1465.0,527.5 C1466.0,527.9 1467.0,528.2 1468.0,528.5 C1469.0,528.9 1470.0,529.2 1471.0,529.6 C1472.0,529.9 1473.0,530.2 1474.0,530.6 C1475.0,530.9 1476.0,531.2 1477.0,531.6 C1478.0,531.9 1479.0,532.3 1480.0,532.6 C1481.0,532.9 1482.0,533.3 1483.0,533.6 C1484.0,533.9 1485.0,534.2 1486.0,534.6 C1487.0,534.9 1488.0,535.2 1489.0,535.6 C1490.0,535.9 1491.0,536.2 1492.0,536.6 C1493.0,536.9 1494.0,537.2 1495.0,537.5 C1496.0,537.9 1497.0,538.2 1498.0,538.5 C1499.0,538.8 1500.0,539.2 1501.0,539.5 C1502.0,539.8 1503.0,540.1 1504.0,540.4 C1505.0,540.8 1506.0,541.1 1507.0,541.4 C1508.0,541.7 1509.0,542.0 1510.0,542.4 C1511.0,542.7 1512.0,543.0 1513.0,543.3 C1514.0,543.6 1515.0,543.9 1516.0,544.2 C1517.0,544.6 1518.0,544.9 1519.0,545.2 C1520.0,545.5 1521.0,545.8 1522.0,546.1 C1523.0,546.4 1524.0,546.7 1525.0,547.0 C1526.0,547.3 1527.0,547.6 1528.0,548.0 C1529.0,548.3 1530.0,548.6 1531.0,548.9 C1532.0,549.2 1533.0,549.5 1534.0,549.8 C1535.0,550.1 1536.0,550.4 1537.0,550.7 C1538.0,551.0 1539.0,551.3 1540.0,551.6 C1541.0,551.9 1542.0,552.1 1543.0,552.4 C1544.0,552.7 1545.0,553.0 1546.0,553.3 C1547.0,553.6 1548.0,553.9 1549.0,554.2 C1550.0,554.5 1551.0,554.8 1552.0,555.1 C1553.0,555.3 1554.0,555.6 1555.0,555.9 C1556.0,556.2 1557.0,556.5 1558.0,556.8 C1559.0,557.0 1560.0,557.3 1561.0,557.6 C1562.0,557.9 1563.0,558.2 1564.0,558.4 C1565.0,558.7 1566.0,559.0 1567.0,559.3 C1568.0,559.5 1569.0,559.8 1570.0,560.1 C1571.0,560.3 1572.0,560.6 1573.0,560.9 C1574.0,561.2 1575.0,561.4 1576.0,561.7 C1577.0,562.0 1578.0,562.2 1579.0,562.5 C1580.0,562.7 1581.0,563.0 1582.0,563.3 C1583.0,563.5 1584.0,563.8 1585.0,564.0 C1586.0,564.3 1587.0,564.6 1588.0,564.8 C1589.0,565.1 1590.0,565.3 1591.0,565.6 C1592.0,565.8 1593.0,566.1 1594.0,566.3 C1595.0,566.6 1596.0,566.8 1597.0,567.1 C1598.0,567.3 1599.0,567.5 1600.0,567.8 C1601.0,568.0 1602.0,568.3 1603.0,568.5 C1604.0,568.7 1605.0,569.0 1606.0,569.2 C1607.0,569.5 1608.0,569.7 1609.0,569.9 C1610.0,570.2 1611.0,570.4 1612.0,570.6 C1613.0,570.8 1614.0,571.1 1615.0,571.3 C1616.0,571.5 1617.0,571.7 1618.0,572.0 C1619.0,572.2 1620.0,572.4 1621.0,572.6 C1622.0,572.9 1623.0,573.1 1624.0,573.3 C1625.0,573.5 1626.0,573.7 1627.0,573.9 C1628.0,574.1 1629.0,574.4 1630.0,574.6 C1631.0,574.8 1632.0,575.0 1633.0,575.2 C1634.0,575.4 1635.0,575.6 1636.0,575.8 C1637.0,576.0 1638.0,576.2 1639.0,576.4 C1640.0,576.6 1641.0,576.8 1642.0,577.0 C1643.0,577.2 1644.0,577.4 1645.0,577.6 C1646.0,577.8 1647.0,578.0 1648.0,578.1 C1649.0,578.3 1650.0,578.5 1651.0,578.7 C1652.0,578.9 1653.0,579.1 1654.0,579.2 C1655.0,579.4 1656.0,579.6 1657.0,579.8 C1658.0,580.0 1659.0,580.1 1660.0,580.3 C1661.0,580.5 1662.0,580.6 1663.0,580.8 C1664.0,581.0 1665.0,581.1 1666.0,581.3 C1667.0,581.5 1668.0,581.6 1669.0,581.8 C1670.0,582.0 1671.0,582.1 1672.0,582.3 C1673.0,582.4 1674.0,582.6 1675.0,582.7 C1676.0,582.9 1677.0,583.0 1678.0,583.2 C1679.0,583.3 1680.0,583.5 1681.0,583.6 C1682.0,583.8 1683.0,583.9 1684.0,584.0 C1685.0,584.2 1686.0,584.3 1687.0,584.5 C1688.0,584.6 1689.0,584.7 1690.0,584.9 C1691.0,585.0 1692.0,585.1 1693.0,585.2 C1694.0,585.4 1695.0,585.5 1696.0,585.6 C1697.0,585.7 1698.0,585.9 1699.0,586.0 C1700.0,586.1 1701.0,586.2 1702.0,586.3 C1703.0,586.4 1704.0,586.6 1705.0,586.7 C1706.0,586.8 1707.0,586.9 1708.0,587.0 C1709.0,587.1 1710.0,587.2 1711.0,587.3 C1712.0,587.4 1713.0,587.5 1714.0,587.6 C1715.0,587.7 1716.0,587.8 1717.0,587.9 C1718.0,588.0 1719.0,588.1 1720.0,588.1 C1721.0,588.2 1722.0,588.3 1723.0,588.4 C1724.0,588.5 1725.0,588.6 1726.0,588.7 C1727.0,588.7 1728.0,588.8 1729.0,588.9 C1730.0,589.0 1731.0,589.0 1732.0,589.1 C1733.0,589.2 1734.0,589.3 1735.0,589.3 C1736.0,589.4 1737.0,589.5 1738.0,589.5 C1739.0,589.6 1740.0,589.7 1741.0,589.7 C1742.0,589.8 1743.0,589.8 1744.0,589.9 C1745.0,590.0 1746.0,590.0 1747.0,590.1 C1748.0,590.1 1749.0,590.2 1750.0,590.2 C1751.0,590.3 1752.0,590.3 1753.0,590.4 C1754.0,590.4 1755.0,590.5 1756.0,590.5 C1757.0,590.6 1758.0,590.6 1759.0,590.7 C1760.0,590.7 1761.0,590.7 1762.0,590.8 C1763.0,590.8 1764.0,590.8 1765.0,590.9 C1766.0,590.9 1767.0,591.0 1768.0,591.0 C1769.0,591.0 1770.0,591.0 1771.0,591.1 C1772.0,591.1 1773.0,591.1 1774.0,591.2 C1775.0,591.2 1776.0,591.2 1777.0,591.2 C1778.0,591.3 1779.0,591.3 1780.0,591.3 C1781.0,591.3 1782.0,591.3 1783.0,591.4 C1784.0,591.4 1785.0,591.4 1786.0,591.4 C1787.0,591.4 1788.0,591.4 1789.0,591.5 C1790.0,591.5 1791.0,591.5 1792.0,591.5 C1793.0,591.5 1794.0,591.5 1795.0,591.5 C1796.0,591.5 1797.0,591.5 1798.0,591.5 C1799.0,591.6 1800.0,591.6 1801.0,591.6 C1802.0,591.6 1803.0,591.6 1804.0,591.6 C1805.0,591.6 1806.0,591.6 1807.0,591.6 C1808.0,591.6 1809.0,591.6 1810.0,591.6 C1811.0,591.6 1812.0,591.6 1813.0,591.6 C1814.0,591.5 1815.0,591.5 1816.0,591.5 C1817.0,591.5 1818.0,591.5 1819.0,591.5 C1820.0,591.5 1821.0,591.5 1822.0,591.5 C1823.0,591.5 1824.0,591.5 1825.0,591.4 C1826.0,591.4 1827.0,591.4 1828.0,591.4 C1829.0,591.4 1830.0,591.4 1831.0,591.4 C1832.0,591.3 1833.0,591.3 1834.0,591.3 C1835.0,591.3 1836.0,591.3 1837.0,591.3 C1838.0,591.2 1839.0,591.2 1840.0,591.2 C1841.0,591.2 1842.0,591.2 1843.0,591.1 C1844.0,591.1 1845.0,591.1 1846.0,591.1 C1847.0,591.0 1848.0,591.0 1849.0,591.0 C1850.0,591.0 1851.0,590.9 1852.0,590.9 C1853.0,590.9 1854.0,590.9 1855.0,590.8 C1856.0,590.8 1857.0,590.8 1858.0,590.8 C1859.0,590.7 1860.0,590.7 1861.0,590.7 C1862.0,590.6 1863.0,590.6 1864.0,590.6 C1865.0,590.6 1866.0,590.5 1867.0,590.5 C1868.0,590.5 1869.0,590.4 1870.0,590.4 C1871.0,590.4 1872.0,590.3 1873.0,590.3 C1874.0,590.3 1875.0,590.2 1876.0,590.2 C1877.0,590.2 1878.0,590.1 1879.0,590.1 C1880.0,590.1 1881.0,590.0 1882.0,590.0 C1883.0,590.0 1884.0,589.9 1885.0,589.9 C1886.0,589.9 1887.0,589.8 1888.0,589.8 C1889.0,589.8 1890.0,589.7 1891.0,589.7 C1892.0,589.7 1893.0,589.6 1894.0,589.6 C1895.0,589.6 1896.0,589.5 1897.0,589.5 C1898.0,589.4 1899.0,589.4 1900.0,589.4 C1901.0,589.3 1902.0,589.3 1903.0,589.3 C1904.0,589.2 1905.0,589.2 1906.0,589.2 C1907.0,589.1 1908.0,589.1 1909.0,589.0 C1910.0,589.0 1911.0,589.0 1912.0,588.9 C1913.0,588.9 1914.0,588.9 1915.0,588.8 C1916.0,588.8 1917.0,588.8 1918.0,588.7 C1919.0,588.7 1920.0,588.7 1921.0,588.6 C1922.0,588.6 1923.0,588.5 1924.0,588.5 C1925.0,588.5 1926.0,588.4 1927.0,588.4 C1928.0,588.4 1929.0,588.3 1930.0,588.3 C1931.0,588.3 1932.0,588.2 1933.0,588.2 C1934.0,588.2 1935.0,588.1 1936.0,588.1 C1937.0,588.1 1938.0,588.0 1939.0,588.0 C1940.0,588.0 1941.0,587.9 1942.0,587.9 C1943.0,587.9 1944.0,587.8 1945.0,587.8 C1946.0,587.8 1947.0,587.7 1948.0,587.7 C1949.0,587.7 1950.0,587.7 1951.0,587.6 C1952.0,587.6 1953.0,587.6 1954.0,587.5 C1955.0,587.5 1956.0,587.5 1957.0,587.5 C1958.0,587.4 1959.0,587.4 1960.0,587.4 C1961.0,587.3 1962.0,587.3 1963.0,587.3 C1964.0,587.3 1965.0,587.2 1966.0,587.2 C1967.0,587.2 1968.0,587.2 1969.0,587.2 C1970.0,587.1 1971.0,587.1 1972.0,587.1 C1973.0,587.1 1974.0,587.0 1975.0,587.0 C1976.0,587.0 1977.0,587.0 1978.0,587.0 C1979.0,587.0 1980.0,586.9 1981.0,586.9 C1982.0,586.9 1983.5,586.9 1984.0,586.9" stroke="#cc1a18"/>
<path d="M1198.5,106.0 C1198.5,113.3 1198.4,137.7 1198.5,150.0 C1198.6,162.3 1198.6,174.0 1199.0,180.0 C1199.4,186.0 1200.2,184.5 1201.0,186.0 C1201.8,187.5 1202.8,187.6 1204.0,189.0 C1205.2,190.4 1207.0,192.8 1207.9,194.6 C1208.8,196.4 1209.0,198.2 1209.5,200.0 C1210.0,201.8 1210.0,202.0 1211.2,205.6 C1212.4,209.2 1214.7,217.1 1216.5,221.5 C1218.3,225.9 1220.0,228.6 1221.8,232.1 C1223.6,235.6 1225.5,239.5 1227.1,242.7 C1228.7,245.8 1230.1,248.5 1231.3,251.0 C1232.5,253.5 1232.8,255.8 1234.0,257.7 C1235.2,259.6 1237.0,260.8 1238.5,262.5 C1240.0,264.2 1241.9,266.0 1243.2,267.7 C1244.5,269.4 1245.7,272.0 1246.2,272.9 C1246.7,273.7 1248.2,276.3 1249.2,278.0 C1250.2,279.7 1251.2,281.4 1252.2,283.0 C1253.2,284.7 1254.2,286.3 1255.2,287.9 C1256.2,289.5 1257.3,291.1 1258.3,292.7 C1259.3,294.3 1260.3,295.9 1261.3,297.5 C1262.3,299.0 1263.3,300.6 1264.3,302.1 C1265.3,303.6 1266.3,305.2 1267.3,306.7 C1268.3,308.2 1269.3,309.7 1270.3,311.1 C1271.3,312.6 1272.3,314.1 1273.3,315.5 C1274.3,317.0 1275.3,318.4 1276.3,319.8 C1277.3,321.2 1278.3,322.6 1279.3,324.0 C1280.3,325.4 1281.3,326.8 1282.3,328.2 C1283.4,329.5 1284.4,330.9 1285.4,332.2 C1286.4,333.6 1287.4,334.9 1288.4,336.2 C1289.4,337.5 1290.4,338.8 1291.4,340.1 C1292.4,341.4 1293.4,342.7 1294.4,343.9 C1295.4,345.2 1296.4,346.5 1297.4,347.7 C1298.4,348.9 1299.4,350.2 1300.4,351.4 C1301.4,352.6 1302.4,353.8 1303.4,355.0 C1304.4,356.2 1305.4,357.4 1306.4,358.5 C1307.4,359.7 1308.4,360.9 1309.5,362.0 C1310.5,363.2 1311.5,364.3 1312.5,365.4 C1313.5,366.5 1314.5,367.7 1315.5,368.8 C1316.5,369.9 1317.5,371.0 1318.5,372.0 C1319.5,373.1 1320.5,374.2 1321.5,375.3 C1322.5,376.3 1323.5,377.4 1324.5,378.4 C1325.5,379.5 1326.5,380.5 1327.5,381.5 C1328.5,382.5 1329.5,383.5 1330.5,384.5 C1331.5,385.5 1332.5,386.5 1333.5,387.5 C1334.5,388.5 1335.5,389.5 1336.6,390.4 C1337.6,391.4 1338.6,392.4 1339.6,393.3 C1340.6,394.3 1341.6,395.2 1342.6,396.1 C1343.6,397.1 1344.6,398.0 1345.6,398.9 C1346.6,399.8 1347.6,400.7 1348.6,401.6 C1349.6,402.5 1350.6,403.4 1351.6,404.3 C1352.6,405.1 1353.6,406.0 1354.6,406.9 C1355.6,407.7 1356.6,408.6 1357.6,409.4 C1358.6,410.3 1359.6,411.1 1360.6,411.9 C1361.6,412.8 1362.7,413.6 1363.7,414.4 C1364.7,415.2 1365.7,416.0 1366.7,416.8 C1367.7,417.6 1368.7,418.4 1369.7,419.2 C1370.7,420.0 1371.7,420.7 1372.7,421.5 C1373.7,422.3 1374.7,423.0 1375.7,423.8 C1376.7,424.5 1377.7,425.3 1378.7,426.0 C1379.7,426.7 1380.7,427.5 1381.7,428.2 C1382.7,428.9 1383.7,429.6 1384.7,430.3 C1385.7,431.1 1386.7,431.8 1387.7,432.5 C1388.8,433.2 1389.8,433.8 1390.8,434.5 C1391.8,435.2 1392.8,435.9 1393.8,436.6 C1394.8,437.2 1395.8,437.9 1396.8,438.6 C1397.8,439.2 1398.8,439.9 1399.8,440.5 C1400.8,441.2 1401.8,441.8 1402.8,442.4 C1403.8,443.1 1404.8,443.7 1405.8,444.3 C1406.8,444.9 1407.8,445.6 1408.8,446.2 C1409.8,446.8 1410.8,447.4 1411.8,448.0 C1412.8,448.6 1413.8,449.2 1414.8,449.8 C1415.9,450.4 1416.9,451.0 1417.9,451.5 C1418.9,452.1 1419.9,452.7 1420.9,453.3 C1421.9,453.8 1422.9,454.4 1423.9,455.0 C1424.9,455.5 1425.9,456.1 1426.9,456.6 C1427.9,457.2 1428.9,457.7 1429.9,458.3 C1430.9,458.8 1431.9,459.3 1432.9,459.9 C1433.9,460.4 1434.9,460.9 1435.9,461.5 C1436.9,462.0 1437.9,462.5 1438.9,463.0 C1439.9,463.5 1440.9,464.1 1442.0,464.6 C1443.0,465.1 1444.0,465.6 1445.0,466.1 C1446.0,466.6 1447.0,467.1 1448.0,467.6 C1449.0,468.1 1450.0,468.6 1451.0,469.1 C1452.0,469.5 1453.0,470.0 1454.0,470.5 C1455.0,471.0 1456.0,471.5 1457.0,471.9 C1458.0,472.4 1459.0,472.9 1460.0,473.4 C1461.0,473.8 1462.0,474.3 1463.0,474.8 C1464.0,475.2 1465.0,475.7 1466.0,476.1 C1467.0,476.6 1468.0,477.0 1469.1,477.5 C1470.1,477.9 1471.1,478.4 1472.1,478.8 C1473.1,479.3 1474.1,479.7 1475.1,480.2 C1476.1,480.6 1477.1,481.0 1478.1,481.5 C1479.1,481.9 1480.1,482.4 1481.1,482.8 C1482.1,483.2 1483.1,483.6 1484.1,484.1 C1485.1,484.5 1486.1,484.9 1487.1,485.3 C1488.1,485.8 1489.1,486.2 1490.1,486.6 C1491.1,487.0 1492.1,487.4 1493.1,487.9 C1494.1,488.3 1495.2,488.7 1496.2,489.1 C1497.2,489.5 1498.2,489.9 1499.2,490.3 C1500.2,490.7 1501.2,491.1 1502.2,491.5 C1503.2,491.9 1504.2,492.3 1505.2,492.7 C1506.2,493.1 1507.2,493.5 1508.2,493.9 C1509.2,494.3 1510.2,494.7 1511.2,495.1 C1512.2,495.5 1513.2,495.9 1514.2,496.3 C1515.2,496.7 1516.2,497.1 1517.2,497.5 C1518.2,497.9 1519.2,498.3 1520.2,498.7 C1521.3,499.0 1522.3,499.4 1523.3,499.8 C1524.3,500.2 1525.3,500.6 1526.3,501.0 C1527.3,501.4 1528.3,501.7 1529.3,502.1 C1530.3,502.5 1531.3,502.9 1532.3,503.3 C1533.3,503.7 1534.3,504.0 1535.3,504.4 C1536.3,504.8 1537.3,505.2 1538.3,505.6 C1539.3,505.9 1540.3,506.3 1541.3,506.7 C1542.3,507.1 1543.3,507.4 1544.3,507.8 C1545.3,508.2 1546.3,508.6 1547.3,509.0 C1548.4,509.3 1549.4,509.7 1550.4,510.1 C1551.4,510.5 1552.4,510.8 1553.4,511.2 C1554.4,511.6 1555.4,512.0 1556.4,512.4 C1557.4,512.7 1558.4,513.1 1559.4,513.5 C1560.4,513.9 1561.4,514.2 1562.4,514.6 C1563.4,515.0 1564.4,515.4 1565.4,515.8 C1566.4,516.1 1567.4,516.5 1568.4,516.9 C1569.4,517.3 1570.4,517.6 1571.4,518.0 C1572.4,518.4 1573.4,518.8 1574.5,519.1 C1575.5,519.5 1576.5,519.9 1577.5,520.3 C1578.5,520.6 1579.5,521.0 1580.5,521.4 C1581.5,521.8 1582.5,522.1 1583.5,522.5 C1584.5,522.9 1585.5,523.3 1586.5,523.6 C1587.5,524.0 1588.5,524.4 1589.5,524.7 C1590.5,525.1 1591.5,525.5 1592.5,525.8 C1593.5,526.2 1594.5,526.6 1595.5,526.9 C1596.5,527.3 1597.5,527.7 1598.5,528.0 C1599.5,528.4 1600.6,528.8 1601.6,529.1 C1602.6,529.5 1603.6,529.9 1604.6,530.2 C1605.6,530.6 1606.6,530.9 1607.6,531.3 C1608.6,531.7 1609.6,532.0 1610.6,532.4 C1611.6,532.7 1612.6,533.1 1613.6,533.4 C1614.6,533.8 1615.6,534.1 1616.6,534.5 C1617.6,534.8 1618.6,535.2 1619.6,535.5 C1620.6,535.9 1621.6,536.2 1622.6,536.6 C1623.6,536.9 1624.6,537.3 1625.6,537.6 C1626.6,538.0 1627.7,538.3 1628.7,538.6 C1629.7,539.0 1630.7,539.3 1631.7,539.6 C1632.7,540.0 1633.7,540.3 1634.7,540.6 C1635.7,541.0 1636.7,541.3 1637.7,541.6 C1638.7,542.0 1639.7,542.3 1640.7,542.6 C1641.7,542.9 1642.7,543.3 1643.7,543.6 C1644.7,543.9 1645.7,544.2 1646.7,544.5 C1647.7,544.9 1648.7,545.2 1649.7,545.5 C1650.7,545.8 1651.7,546.1 1652.7,546.4 C1653.8,546.7 1654.8,547.0 1655.8,547.3 C1656.8,547.7 1657.8,548.0 1658.8,548.3 C1659.8,548.6 1660.8,548.9 1661.8,549.1 C1662.8,549.4 1663.8,549.7 1664.8,550.0 C1665.8,550.3 1666.8,550.6 1667.8,550.9 C1668.8,551.2 1669.8,551.5 1670.8,551.7 C1671.8,552.0 1672.8,552.3 1673.8,552.6 C1674.8,552.9 1675.8,553.1 1676.8,553.4 C1677.8,553.7 1678.8,553.9 1679.9,554.2 C1680.9,554.5 1681.9,554.7 1682.9,555.0 C1683.9,555.2 1684.9,555.5 1685.9,555.8 C1686.9,556.0 1687.9,556.3 1688.9,556.5 C1689.9,556.8 1690.9,557.0 1691.9,557.2 C1692.9,557.5 1693.9,557.7 1694.9,558.0 C1695.9,558.2 1696.9,558.4 1697.9,558.7 C1698.9,558.9 1699.9,559.1 1700.9,559.3 C1701.9,559.6 1702.9,559.8 1703.9,560.0 C1704.9,560.2 1705.9,560.4 1707.0,560.6 C1708.0,560.8 1709.0,561.0 1710.0,561.3 C1711.0,561.5 1712.0,561.7 1713.0,561.9 C1714.0,562.1 1715.0,562.2 1716.0,562.4 C1717.0,562.6 1718.0,562.8 1719.0,563.0 C1720.0,563.2 1721.0,563.4 1722.0,563.6 C1723.0,563.7 1724.0,563.9 1725.0,564.1 C1726.0,564.3 1727.0,564.4 1728.0,564.6 C1729.0,564.8 1730.0,564.9 1731.0,565.1 C1732.0,565.3 1733.1,565.4 1734.1,565.6 C1735.1,565.7 1736.1,565.9 1737.1,566.0 C1738.1,566.2 1739.1,566.3 1740.1,566.5 C1741.1,566.6 1742.1,566.8 1743.1,566.9 C1744.1,567.1 1745.1,567.2 1746.1,567.3 C1747.1,567.5 1748.1,567.6 1749.1,567.7 C1750.1,567.9 1751.1,568.0 1752.1,568.1 C1753.1,568.3 1754.1,568.4 1755.1,568.5 C1756.1,568.6 1757.1,568.7 1758.1,568.9 C1759.2,569.0 1760.2,569.1 1761.2,569.2 C1762.2,569.3 1763.2,569.4 1764.2,569.5 C1765.2,569.6 1766.2,569.7 1767.2,569.9 C1768.2,570.0 1769.2,570.1 1770.2,570.2 C1771.2,570.3 1772.2,570.3 1773.2,570.4 C1774.2,570.5 1775.2,570.6 1776.2,570.7 C1777.2,570.8 1778.2,570.9 1779.2,571.0 C1780.2,571.1 1781.2,571.1 1782.2,571.2 C1783.2,571.3 1784.2,571.4 1785.2,571.5 C1786.3,571.5 1787.3,571.6 1788.3,571.7 C1789.3,571.8 1790.3,571.8 1791.3,571.9 C1792.3,572.0 1793.3,572.0 1794.3,572.1 C1795.3,572.2 1796.3,572.2 1797.3,572.3 C1798.3,572.4 1799.3,572.4 1800.3,572.5 C1801.3,572.5 1802.3,572.6 1803.3,572.6 C1804.3,572.7 1805.3,572.8 1806.3,572.8 C1807.3,572.9 1808.3,572.9 1809.3,573.0 C1810.3,573.0 1811.3,573.0 1812.4,573.1 C1813.4,573.1 1814.4,573.2 1815.4,573.2 C1816.4,573.3 1817.4,573.3 1818.4,573.3 C1819.4,573.4 1820.4,573.4 1821.4,573.5 C1822.4,573.5 1823.4,573.5 1824.4,573.6 C1825.4,573.6 1826.4,573.6 1827.4,573.6 C1828.4,573.7 1829.4,573.7 1830.4,573.7 C1831.4,573.8 1832.4,573.8 1833.4,573.8 C1834.4,573.8 1835.4,573.8 1836.4,573.9 C1837.4,573.9 1838.4,573.9 1839.5,573.9 C1840.5,573.9 1841.5,574.0 1842.5,574.0 C1843.5,574.0 1844.5,574.0 1845.5,574.0 C1846.5,574.0 1847.5,574.0 1848.5,574.1 C1849.5,574.1 1850.5,574.1 1851.5,574.1 C1852.5,574.1 1853.5,574.1 1854.5,574.1 C1855.5,574.1 1856.5,574.1 1857.5,574.1 C1858.5,574.1 1859.5,574.1 1860.5,574.1 C1861.5,574.1 1862.5,574.2 1863.5,574.2 C1864.5,574.2 1865.6,574.2 1866.6,574.2 C1867.6,574.2 1868.6,574.2 1869.6,574.1 C1870.6,574.1 1871.6,574.1 1872.6,574.1 C1873.6,574.1 1874.6,574.1 1875.6,574.1 C1876.6,574.1 1877.6,574.1 1878.6,574.1 C1879.6,574.1 1880.6,574.1 1881.6,574.1 C1882.6,574.1 1883.6,574.1 1884.6,574.1 C1885.6,574.0 1886.6,574.0 1887.6,574.0 C1888.6,574.0 1889.6,574.0 1890.6,574.0 C1891.7,574.0 1892.7,574.0 1893.7,574.0 C1894.7,573.9 1895.7,573.9 1896.7,573.9 C1897.7,573.9 1898.7,573.9 1899.7,573.9 C1900.7,573.9 1901.7,573.8 1902.7,573.8 C1903.7,573.8 1904.7,573.8 1905.7,573.8 C1906.7,573.8 1907.7,573.8 1908.7,573.7 C1909.7,573.7 1910.7,573.7 1911.7,573.7 C1912.7,573.7 1913.7,573.6 1914.7,573.6 C1915.7,573.6 1916.7,573.6 1917.7,573.6 C1918.8,573.6 1919.8,573.5 1920.8,573.5 C1921.8,573.5 1922.8,573.5 1923.8,573.5 C1924.8,573.5 1925.8,573.4 1926.8,573.4 C1927.8,573.4 1928.8,573.4 1929.8,573.4 C1930.8,573.3 1931.8,573.3 1932.8,573.3 C1933.8,573.3 1934.8,573.3 1935.8,573.2 C1936.8,573.2 1937.8,573.2 1938.8,573.2 C1939.8,573.2 1940.8,573.2 1941.8,573.1 C1942.8,573.1 1943.8,573.1 1944.9,573.1 C1945.9,573.1 1946.9,573.1 1947.9,573.0 C1948.9,573.0 1949.9,573.0 1950.9,573.0 C1951.9,573.0 1952.9,573.0 1953.9,572.9 C1954.9,572.9 1955.9,572.9 1956.9,572.9 C1957.9,572.9 1958.9,572.9 1959.9,572.9 C1960.9,572.8 1961.9,572.8 1962.9,572.8 C1963.9,572.8 1964.9,572.8 1965.9,572.8 C1966.9,572.8 1967.9,572.8 1968.9,572.7 C1969.9,572.7 1971.0,572.7 1972.0,572.7 C1973.0,572.7 1974.0,572.7 1975.0,572.7 C1976.0,572.7 1977.0,572.7 1978.0,572.7 C1979.0,572.7 1980.0,572.6 1981.0,572.6 C1982.0,572.6 1983.5,572.6 1984.0,572.6" stroke="#0c0cc0"/>
<path d="M1198.0,151.0 C1198.0,159.2 1197.9,189.5 1198.0,200.0 C1198.1,210.5 1198.3,209.0 1198.5,214.0 C1198.7,219.0 1198.8,225.4 1199.0,230.0 C1199.2,234.6 1199.3,239.0 1200.0,241.7 C1200.7,244.4 1202.5,245.6 1203.0,246.4 C1203.5,247.1 1205.0,249.4 1206.0,251.0 C1207.0,252.5 1208.0,254.0 1209.0,255.6 C1210.0,257.1 1211.0,258.6 1212.0,260.1 C1213.0,261.6 1214.0,263.1 1215.0,264.6 C1216.0,266.1 1217.0,267.6 1218.0,269.1 C1219.0,270.6 1220.0,272.1 1221.0,273.6 C1222.0,275.1 1223.0,276.6 1224.0,278.0 C1225.0,279.5 1226.0,281.0 1227.0,282.4 C1228.0,283.9 1229.0,285.4 1230.0,286.8 C1231.0,288.3 1232.0,289.7 1233.0,291.1 C1234.0,292.6 1235.0,294.0 1236.0,295.5 C1237.0,296.9 1238.0,298.3 1239.0,299.7 C1240.1,301.1 1241.1,302.5 1242.1,303.9 C1243.1,305.3 1244.1,306.7 1245.1,308.1 C1246.1,309.5 1247.1,310.9 1248.1,312.3 C1249.1,313.7 1250.1,315.0 1251.1,316.4 C1252.1,317.8 1253.1,319.1 1254.1,320.5 C1255.1,321.8 1256.1,323.2 1257.1,324.5 C1258.1,325.8 1259.1,327.2 1260.1,328.5 C1261.1,329.8 1262.1,331.1 1263.1,332.4 C1264.1,333.7 1265.1,335.0 1266.1,336.3 C1267.1,337.6 1268.1,338.9 1269.1,340.2 C1270.1,341.5 1271.1,342.8 1272.1,344.0 C1273.1,345.3 1274.1,346.5 1275.1,347.8 C1276.1,349.0 1277.1,350.3 1278.1,351.5 C1279.1,352.7 1280.1,354.0 1281.1,355.2 C1282.1,356.4 1283.1,357.6 1284.1,358.8 C1285.1,360.0 1286.1,361.2 1287.1,362.4 C1288.1,363.6 1289.1,364.7 1290.1,365.9 C1291.1,367.1 1292.1,368.2 1293.1,369.4 C1294.1,370.5 1295.1,371.7 1296.1,372.8 C1297.1,374.0 1298.1,375.1 1299.1,376.2 C1300.1,377.3 1301.1,378.4 1302.1,379.5 C1303.1,380.6 1304.1,381.7 1305.1,382.8 C1306.1,383.9 1307.1,385.0 1308.1,386.0 C1309.1,387.1 1310.1,388.1 1311.1,389.2 C1312.1,390.2 1313.1,391.3 1314.1,392.3 C1315.1,393.4 1316.1,394.4 1317.1,395.4 C1318.2,396.4 1319.2,397.4 1320.2,398.4 C1321.2,399.4 1322.2,400.4 1323.2,401.4 C1324.2,402.4 1325.2,403.4 1326.2,404.3 C1327.2,405.3 1328.2,406.3 1329.2,407.2 C1330.2,408.2 1331.2,409.1 1332.2,410.1 C1333.2,411.0 1334.2,411.9 1335.2,412.9 C1336.2,413.8 1337.2,414.7 1338.2,415.6 C1339.2,416.5 1340.2,417.4 1341.2,418.3 C1342.2,419.2 1343.2,420.1 1344.2,421.0 C1345.2,421.8 1346.2,422.7 1347.2,423.6 C1348.2,424.4 1349.2,425.3 1350.2,426.1 C1351.2,427.0 1352.2,427.8 1353.2,428.7 C1354.2,429.5 1355.2,430.3 1356.2,431.1 C1357.2,432.0 1358.2,432.8 1359.2,433.6 C1360.2,434.4 1361.2,435.2 1362.2,436.0 C1363.2,436.8 1364.2,437.6 1365.2,438.3 C1366.2,439.1 1367.2,439.9 1368.2,440.6 C1369.2,441.4 1370.2,442.2 1371.2,442.9 C1372.2,443.7 1373.2,444.4 1374.2,445.1 C1375.2,445.9 1376.2,446.6 1377.2,447.3 C1378.2,448.1 1379.2,448.8 1380.2,449.5 C1381.2,450.2 1382.2,450.9 1383.2,451.6 C1384.2,452.3 1385.2,453.0 1386.2,453.7 C1387.2,454.3 1388.2,455.0 1389.2,455.7 C1390.2,456.4 1391.2,457.0 1392.2,457.7 C1393.2,458.3 1394.2,459.0 1395.2,459.6 C1396.3,460.3 1397.3,460.9 1398.3,461.5 C1399.3,462.2 1400.3,462.8 1401.3,463.4 C1402.3,464.0 1403.3,464.7 1404.3,465.3 C1405.3,465.9 1406.3,466.5 1407.3,467.1 C1408.3,467.7 1409.3,468.3 1410.3,468.8 C1411.3,469.4 1412.3,470.0 1413.3,470.6 C1414.3,471.1 1415.3,471.7 1416.3,472.3 C1417.3,472.8 1418.3,473.4 1419.3,473.9 C1420.3,474.5 1421.3,475.0 1422.3,475.6 C1423.3,476.1 1424.3,476.6 1425.3,477.2 C1426.3,477.7 1427.3,478.2 1428.3,478.7 C1429.3,479.2 1430.3,479.7 1431.3,480.2 C1432.3,480.7 1433.3,481.2 1434.3,481.7 C1435.3,482.2 1436.3,482.7 1437.3,483.2 C1438.3,483.7 1439.3,484.2 1440.3,484.6 C1441.3,485.1 1442.3,485.6 1443.3,486.0 C1444.3,486.5 1445.3,486.9 1446.3,487.4 C1447.3,487.8 1448.3,488.3 1449.3,488.7 C1450.3,489.2 1451.3,489.6 1452.3,490.0 C1453.3,490.5 1454.3,490.9 1455.3,491.3 C1456.3,491.7 1457.3,492.1 1458.3,492.5 C1459.3,493.0 1460.3,493.4 1461.3,493.8 C1462.3,494.2 1463.3,494.6 1464.3,494.9 C1465.3,495.3 1466.3,495.7 1467.3,496.1 C1468.3,496.5 1469.3,496.9 1470.3,497.2 C1471.3,497.6 1472.3,498.0 1473.3,498.3 C1474.3,498.7 1475.4,499.1 1476.4,499.4 C1477.4,499.8 1478.4,500.1 1479.4,500.5 C1480.4,500.8 1481.4,501.2 1482.4,501.5 C1483.4,501.9 1484.4,502.2 1485.4,502.5 C1486.4,502.9 1487.4,503.2 1488.4,503.5 C1489.4,503.9 1490.4,504.2 1491.4,504.5 C1492.4,504.8 1493.4,505.1 1494.4,505.4 C1495.4,505.8 1496.4,506.1 1497.4,506.4 C1498.4,506.7 1499.4,507.0 1500.4,507.3 C1501.4,507.6 1502.4,507.9 1503.4,508.2 C1504.4,508.5 1505.4,508.8 1506.4,509.1 C1507.4,509.3 1508.4,509.6 1509.4,509.9 C1510.4,510.2 1511.4,510.5 1512.4,510.7 C1513.4,511.0 1514.4,511.3 1515.4,511.6 C1516.4,511.8 1517.4,512.1 1518.4,512.4 C1519.4,512.7 1520.4,512.9 1521.4,513.2 C1522.4,513.4 1523.4,513.7 1524.4,514.0 C1525.4,514.2 1526.4,514.5 1527.4,514.7 C1528.4,515.0 1529.4,515.2 1530.4,515.5 C1531.4,515.8 1532.4,516.0 1533.4,516.2 C1534.4,516.5 1535.4,516.7 1536.4,517.0 C1537.4,517.2 1538.4,517.5 1539.4,517.7 C1540.4,518.0 1541.4,518.2 1542.4,518.4 C1543.4,518.7 1544.4,518.9 1545.4,519.1 C1546.4,519.4 1547.4,519.6 1548.4,519.9 C1549.4,520.1 1550.4,520.3 1551.4,520.6 C1552.4,520.8 1553.5,521.0 1554.5,521.2 C1555.5,521.5 1556.5,521.7 1557.5,521.9 C1558.5,522.2 1559.5,522.4 1560.5,522.6 C1561.5,522.8 1562.5,523.1 1563.5,523.3 C1564.5,523.5 1565.5,523.8 1566.5,524.0 C1567.5,524.2 1568.5,524.4 1569.5,524.7 C1570.5,524.9 1571.5,525.1 1572.5,525.3 C1573.5,525.6 1574.5,525.8 1575.5,526.0 C1576.5,526.2 1577.5,526.5 1578.5,526.7 C1579.5,526.9 1580.5,527.1 1581.5,527.4 C1582.5,527.6 1583.5,527.8 1584.5,528.0 C1585.5,528.3 1586.5,528.5 1587.5,528.7 C1588.5,528.9 1589.5,529.2 1590.5,529.4 C1591.5,529.6 1592.5,529.8 1593.5,530.1 C1594.5,530.3 1595.5,530.5 1596.5,530.7 C1597.5,531.0 1598.5,531.2 1599.5,531.4 C1600.5,531.7 1601.5,531.9 1602.5,532.1 C1603.5,532.3 1604.5,532.6 1605.5,532.8 C1606.5,533.0 1607.5,533.2 1608.5,533.5 C1609.5,533.7 1610.5,533.9 1611.5,534.2 C1612.5,534.4 1613.5,534.6 1614.5,534.8 C1615.5,535.1 1616.5,535.3 1617.5,535.5 C1618.5,535.7 1619.5,536.0 1620.5,536.2 C1621.5,536.4 1622.5,536.6 1623.5,536.9 C1624.5,537.1 1625.5,537.3 1626.5,537.5 C1627.5,537.8 1628.5,538.0 1629.5,538.2 C1630.5,538.4 1631.6,538.7 1632.6,538.9 C1633.6,539.1 1634.6,539.3 1635.6,539.6 C1636.6,539.8 1637.6,540.0 1638.6,540.2 C1639.6,540.5 1640.6,540.7 1641.6,540.9 C1642.6,541.1 1643.6,541.4 1644.6,541.6 C1645.6,541.8 1646.6,542.0 1647.6,542.2 C1648.6,542.5 1649.6,542.7 1650.6,542.9 C1651.6,543.1 1652.6,543.4 1653.6,543.6 C1654.6,543.8 1655.6,544.0 1656.6,544.2 C1657.6,544.4 1658.6,544.7 1659.6,544.9 C1660.6,545.1 1661.6,545.3 1662.6,545.5 C1663.6,545.8 1664.6,546.0 1665.6,546.2 C1666.6,546.4 1667.6,546.6 1668.6,546.8 C1669.6,547.1 1670.6,547.3 1671.6,547.5 C1672.6,547.7 1673.6,547.9 1674.6,548.1 C1675.6,548.3 1676.6,548.6 1677.6,548.8 C1678.6,549.0 1679.6,549.2 1680.6,549.4 C1681.6,549.6 1682.6,549.8 1683.6,550.0 C1684.6,550.2 1685.6,550.4 1686.6,550.7 C1687.6,550.9 1688.6,551.1 1689.6,551.3 C1690.6,551.5 1691.6,551.7 1692.6,551.9 C1693.6,552.1 1694.6,552.3 1695.6,552.5 C1696.6,552.7 1697.6,552.9 1698.6,553.1 C1699.6,553.3 1700.6,553.5 1701.6,553.7 C1702.6,553.9 1703.6,554.1 1704.6,554.3 C1705.6,554.5 1706.6,554.7 1707.6,554.9 C1708.6,555.1 1709.7,555.3 1710.7,555.5 C1711.7,555.7 1712.7,555.9 1713.7,556.1 C1714.7,556.3 1715.7,556.5 1716.7,556.7 C1717.7,556.9 1718.7,557.1 1719.7,557.2 C1720.7,557.4 1721.7,557.6 1722.7,557.8 C1723.7,558.0 1724.7,558.2 1725.7,558.4 C1726.7,558.6 1727.7,558.7 1728.7,558.9 C1729.7,559.1 1730.7,559.3 1731.7,559.5 C1732.7,559.7 1733.7,559.8 1734.7,560.0 C1735.7,560.2 1736.7,560.4 1737.7,560.6 C1738.7,560.7 1739.7,560.9 1740.7,561.1 C1741.7,561.3 1742.7,561.4 1743.7,561.6 C1744.7,561.8 1745.7,562.0 1746.7,562.1 C1747.7,562.3 1748.7,562.5 1749.7,562.6 C1750.7,562.8 1751.7,563.0 1752.7,563.1 C1753.7,563.3 1754.7,563.5 1755.7,563.6 C1756.7,563.8 1757.7,564.0 1758.7,564.1 C1759.7,564.3 1760.7,564.4 1761.7,564.6 C1762.7,564.8 1763.7,564.9 1764.7,565.1 C1765.7,565.2 1766.7,565.4 1767.7,565.5 C1768.7,565.7 1769.7,565.8 1770.7,566.0 C1771.7,566.2 1772.7,566.3 1773.7,566.5 C1774.7,566.6 1775.7,566.8 1776.7,566.9 C1777.7,567.1 1778.7,567.2 1779.7,567.3 C1780.7,567.5 1781.7,567.6 1782.7,567.8 C1783.7,567.9 1784.7,568.1 1785.7,568.2 C1786.7,568.3 1787.7,568.5 1788.8,568.6 C1789.8,568.8 1790.8,568.9 1791.8,569.0 C1792.8,569.2 1793.8,569.3 1794.8,569.5 C1795.8,569.6 1796.8,569.7 1797.8,569.9 C1798.8,570.0 1799.8,570.1 1800.8,570.2 C1801.8,570.4 1802.8,570.5 1803.8,570.6 C1804.8,570.8 1805.8,570.9 1806.8,571.0 C1807.8,571.1 1808.8,571.3 1809.8,571.4 C1810.8,571.5 1811.8,571.6 1812.8,571.8 C1813.8,571.9 1814.8,572.0 1815.8,572.1 C1816.8,572.2 1817.8,572.4 1818.8,572.5 C1819.8,572.6 1820.8,572.7 1821.8,572.8 C1822.8,573.0 1823.8,573.1 1824.8,573.2 C1825.8,573.3 1826.8,573.4 1827.8,573.5 C1828.8,573.6 1829.8,573.7 1830.8,573.8 C1831.8,574.0 1832.8,574.1 1833.8,574.2 C1834.8,574.3 1835.8,574.4 1836.8,574.5 C1837.8,574.6 1838.8,574.7 1839.8,574.8 C1840.8,574.9 1841.8,575.0 1842.8,575.1 C1843.8,575.2 1844.8,575.3 1845.8,575.4 C1846.8,575.5 1847.8,575.6 1848.8,575.7 C1849.8,575.8 1850.8,575.9 1851.8,576.0 C1852.8,576.1 1853.8,576.2 1854.8,576.3 C1855.8,576.4 1856.8,576.5 1857.8,576.6 C1858.8,576.6 1859.8,576.7 1860.8,576.8 C1861.8,576.9 1862.8,577.0 1863.8,577.1 C1864.8,577.2 1865.8,577.3 1866.9,577.3 C1867.9,577.4 1868.9,577.5 1869.9,577.6 C1870.9,577.7 1871.9,577.8 1872.9,577.8 C1873.9,577.9 1874.9,578.0 1875.9,578.1 C1876.9,578.2 1877.9,578.2 1878.9,578.3 C1879.9,578.4 1880.9,578.5 1881.9,578.5 C1882.9,578.6 1883.9,578.7 1884.9,578.8 C1885.9,578.8 1886.9,578.9 1887.9,579.0 C1888.9,579.1 1889.9,579.1 1890.9,579.2 C1891.9,579.3 1892.9,579.3 1893.9,579.4 C1894.9,579.5 1895.9,579.5 1896.9,579.6 C1897.9,579.7 1898.9,579.7 1899.9,579.8 C1900.9,579.9 1901.9,579.9 1902.9,580.0 C1903.9,580.0 1904.9,580.1 1905.9,580.2 C1906.9,580.2 1907.9,580.3 1908.9,580.3 C1909.9,580.4 1910.9,580.5 1911.9,580.5 C1912.9,580.6 1913.9,580.6 1914.9,580.7 C1915.9,580.7 1916.9,580.8 1917.9,580.8 C1918.9,580.9 1919.9,580.9 1920.9,581.0 C1921.9,581.0 1922.9,581.1 1923.9,581.1 C1924.9,581.2 1925.9,581.2 1926.9,581.3 C1927.9,581.3 1928.9,581.4 1929.9,581.4 C1930.9,581.5 1931.9,581.5 1932.9,581.6 C1933.9,581.6 1934.9,581.6 1935.9,581.7 C1936.9,581.7 1937.9,581.8 1938.9,581.8 C1939.9,581.9 1940.9,581.9 1941.9,581.9 C1942.9,582.0 1943.9,582.0 1945.0,582.0 C1946.0,582.1 1947.0,582.1 1948.0,582.1 C1949.0,582.2 1950.0,582.2 1951.0,582.2 C1952.0,582.3 1953.0,582.3 1954.0,582.3 C1955.0,582.4 1956.0,582.4 1957.0,582.4 C1958.0,582.5 1959.0,582.5 1960.0,582.5 C1961.0,582.5 1962.0,582.6 1963.0,582.6 C1964.0,582.6 1965.0,582.6 1966.0,582.7 C1967.0,582.7 1968.0,582.7 1969.0,582.7 C1970.0,582.8 1971.0,582.8 1972.0,582.8 C1973.0,582.8 1974.0,582.8 1975.0,582.9 C1976.0,582.9 1977.0,582.9 1978.0,582.9 C1979.0,582.9 1980.0,582.9 1981.0,583.0 C1982.0,583.0 1983.5,583.0 1984.0,583.0" stroke="#2edc30"/>
<path d="M1199.0,241.0 C1200.0,240.7 1203.0,239.2 1205.0,239.0 C1207.0,238.8 1209.5,239.1 1211.2,239.5 C1213.0,239.9 1213.7,239.8 1215.5,241.7 C1217.3,243.6 1220.0,248.3 1221.8,251.0 C1223.5,253.7 1224.5,255.8 1226.0,258.0 C1227.5,260.2 1228.6,262.0 1231.0,264.0 C1233.4,266.0 1238.0,268.0 1240.5,270.0 C1243.0,272.0 1244.3,273.7 1246.0,276.0 C1247.7,278.3 1249.2,282.2 1250.5,284.0 C1251.8,285.8 1253.0,286.3 1253.5,286.8 C1254.0,287.3 1255.5,288.7 1256.5,289.7 C1257.5,290.6 1258.5,291.6 1259.5,292.6 C1260.5,293.6 1261.5,294.6 1262.5,295.6 C1263.5,296.6 1264.5,297.7 1265.5,298.7 C1266.5,299.8 1267.5,300.8 1268.5,301.9 C1269.5,302.9 1270.5,304.0 1271.5,305.1 C1272.5,306.2 1273.5,307.3 1274.5,308.4 C1275.6,309.5 1276.6,310.7 1277.6,311.8 C1278.6,312.9 1279.6,314.1 1280.6,315.2 C1281.6,316.4 1282.6,317.6 1283.6,318.7 C1284.6,319.9 1285.6,321.1 1286.6,322.3 C1287.6,323.5 1288.6,324.7 1289.6,325.9 C1290.6,327.1 1291.6,328.4 1292.6,329.6 C1293.6,330.8 1294.6,332.1 1295.6,333.3 C1296.6,334.6 1297.6,335.8 1298.6,337.1 C1299.6,338.4 1300.6,339.7 1301.6,341.0 C1302.6,342.2 1303.6,343.5 1304.6,344.8 C1305.6,346.1 1306.6,347.5 1307.6,348.8 C1308.6,350.1 1309.6,351.4 1310.6,352.7 C1311.6,354.1 1312.6,355.4 1313.6,356.8 C1314.6,358.1 1315.6,359.4 1316.6,360.8 C1317.6,362.1 1318.6,363.5 1319.6,364.8 C1320.6,366.2 1321.6,367.5 1322.6,368.9 C1323.6,370.2 1324.7,371.5 1325.7,372.9 C1326.7,374.2 1327.7,375.6 1328.7,376.9 C1329.7,378.2 1330.7,379.6 1331.7,380.9 C1332.7,382.2 1333.7,383.5 1334.7,384.8 C1335.7,386.2 1336.7,387.5 1337.7,388.8 C1338.7,390.0 1339.7,391.3 1340.7,392.6 C1341.7,393.9 1342.7,395.1 1343.7,396.4 C1344.7,397.6 1345.7,398.9 1346.7,400.1 C1347.7,401.3 1348.7,402.5 1349.7,403.7 C1350.7,404.9 1351.7,406.1 1352.7,407.3 C1353.7,408.4 1354.7,409.6 1355.7,410.7 C1356.7,411.9 1357.7,413.0 1358.7,414.1 C1359.7,415.2 1360.7,416.3 1361.7,417.4 C1362.7,418.5 1363.7,419.6 1364.7,420.6 C1365.7,421.7 1366.7,422.8 1367.7,423.8 C1368.7,424.8 1369.7,425.9 1370.7,426.9 C1371.7,427.9 1372.8,428.9 1373.8,429.9 C1374.8,430.9 1375.8,431.8 1376.8,432.8 C1377.8,433.8 1378.8,434.7 1379.8,435.7 C1380.8,436.6 1381.8,437.6 1382.8,438.5 C1383.8,439.4 1384.8,440.3 1385.8,441.2 C1386.8,442.1 1387.8,443.0 1388.8,443.9 C1389.8,444.8 1390.8,445.6 1391.8,446.5 C1392.8,447.3 1393.8,448.2 1394.8,449.0 C1395.8,449.9 1396.8,450.7 1397.8,451.5 C1398.8,452.3 1399.8,453.1 1400.8,453.9 C1401.8,454.7 1402.8,455.5 1403.8,456.3 C1404.8,457.1 1405.8,457.8 1406.8,458.6 C1407.8,459.4 1408.8,460.1 1409.8,460.9 C1410.8,461.6 1411.8,462.3 1412.8,463.1 C1413.8,463.8 1414.8,464.5 1415.8,465.2 C1416.8,465.9 1417.8,466.6 1418.8,467.3 C1419.8,468.0 1420.8,468.7 1421.9,469.4 C1422.9,470.1 1423.9,470.7 1424.9,471.4 C1425.9,472.0 1426.9,472.7 1427.9,473.3 C1428.9,474.0 1429.9,474.6 1430.9,475.3 C1431.9,475.9 1432.9,476.5 1433.9,477.1 C1434.9,477.8 1435.9,478.4 1436.9,479.0 C1437.9,479.6 1438.9,480.2 1439.9,480.8 C1440.9,481.4 1441.9,482.0 1442.9,482.5 C1443.9,483.1 1444.9,483.7 1445.9,484.3 C1446.9,484.8 1447.9,485.4 1448.9,485.9 C1449.9,486.5 1450.9,487.1 1451.9,487.6 C1452.9,488.1 1453.9,488.7 1454.9,489.2 C1455.9,489.8 1456.9,490.3 1457.9,490.8 C1458.9,491.3 1459.9,491.9 1460.9,492.4 C1461.9,492.9 1462.9,493.4 1463.9,493.9 C1464.9,494.4 1465.9,494.9 1466.9,495.4 C1467.9,495.9 1468.9,496.4 1469.9,496.9 C1471.0,497.4 1472.0,497.9 1473.0,498.4 C1474.0,498.9 1475.0,499.3 1476.0,499.8 C1477.0,500.3 1478.0,500.8 1479.0,501.2 C1480.0,501.7 1481.0,502.2 1482.0,502.7 C1483.0,503.1 1484.0,503.6 1485.0,504.0 C1486.0,504.5 1487.0,505.0 1488.0,505.4 C1489.0,505.9 1490.0,506.3 1491.0,506.8 C1492.0,507.2 1493.0,507.7 1494.0,508.1 C1495.0,508.5 1496.0,509.0 1497.0,509.4 C1498.0,509.8 1499.0,510.3 1500.0,510.7 C1501.0,511.1 1502.0,511.6 1503.0,512.0 C1504.0,512.4 1505.0,512.8 1506.0,513.3 C1507.0,513.7 1508.0,514.1 1509.0,514.5 C1510.0,514.9 1511.0,515.3 1512.0,515.7 C1513.0,516.1 1514.0,516.5 1515.0,517.0 C1516.0,517.4 1517.0,517.8 1518.0,518.1 C1519.0,518.5 1520.1,518.9 1521.1,519.3 C1522.1,519.7 1523.1,520.1 1524.1,520.5 C1525.1,520.9 1526.1,521.3 1527.1,521.6 C1528.1,522.0 1529.1,522.4 1530.1,522.8 C1531.1,523.2 1532.1,523.5 1533.1,523.9 C1534.1,524.3 1535.1,524.6 1536.1,525.0 C1537.1,525.4 1538.1,525.7 1539.1,526.1 C1540.1,526.4 1541.1,526.8 1542.1,527.1 C1543.1,527.5 1544.1,527.9 1545.1,528.2 C1546.1,528.5 1547.1,528.9 1548.1,529.2 C1549.1,529.6 1550.1,529.9 1551.1,530.3 C1552.1,530.6 1553.1,530.9 1554.1,531.3 C1555.1,531.6 1556.1,531.9 1557.1,532.3 C1558.1,532.6 1559.1,532.9 1560.1,533.2 C1561.1,533.6 1562.1,533.9 1563.1,534.2 C1564.1,534.5 1565.1,534.8 1566.1,535.2 C1567.1,535.5 1568.1,535.8 1569.2,536.1 C1570.2,536.4 1571.2,536.7 1572.2,537.0 C1573.2,537.3 1574.2,537.6 1575.2,537.9 C1576.2,538.2 1577.2,538.5 1578.2,538.8 C1579.2,539.1 1580.2,539.4 1581.2,539.7 C1582.2,540.0 1583.2,540.3 1584.2,540.5 C1585.2,540.8 1586.2,541.1 1587.2,541.4 C1588.2,541.7 1589.2,541.9 1590.2,542.2 C1591.2,542.5 1592.2,542.8 1593.2,543.0 C1594.2,543.3 1595.2,543.6 1596.2,543.9 C1597.2,544.1 1598.2,544.4 1599.2,544.6 C1600.2,544.9 1601.2,545.2 1602.2,545.4 C1603.2,545.7 1604.2,545.9 1605.2,546.2 C1606.2,546.5 1607.2,546.7 1608.2,547.0 C1609.2,547.2 1610.2,547.5 1611.2,547.7 C1612.2,547.9 1613.2,548.2 1614.2,548.4 C1615.2,548.7 1616.2,548.9 1617.2,549.1 C1618.3,549.4 1619.3,549.6 1620.3,549.8 C1621.3,550.1 1622.3,550.3 1623.3,550.5 C1624.3,550.8 1625.3,551.0 1626.3,551.2 C1627.3,551.4 1628.3,551.7 1629.3,551.9 C1630.3,552.1 1631.3,552.3 1632.3,552.5 C1633.3,552.8 1634.3,553.0 1635.3,553.2 C1636.3,553.4 1637.3,553.6 1638.3,553.8 C1639.3,554.0 1640.3,554.2 1641.3,554.4 C1642.3,554.6 1643.3,554.8 1644.3,555.1 C1645.3,555.3 1646.3,555.5 1647.3,555.6 C1648.3,555.8 1649.3,556.0 1650.3,556.2 C1651.3,556.4 1652.3,556.6 1653.3,556.8 C1654.3,557.0 1655.3,557.2 1656.3,557.4 C1657.3,557.6 1658.3,557.7 1659.3,557.9 C1660.3,558.1 1661.3,558.3 1662.3,558.5 C1663.3,558.6 1664.3,558.8 1665.3,559.0 C1666.4,559.2 1667.4,559.3 1668.4,559.5 C1669.4,559.7 1670.4,559.9 1671.4,560.0 C1672.4,560.2 1673.4,560.4 1674.4,560.5 C1675.4,560.7 1676.4,560.9 1677.4,561.0 C1678.4,561.2 1679.4,561.3 1680.4,561.5 C1681.4,561.7 1682.4,561.8 1683.4,562.0 C1684.4,562.1 1685.4,562.3 1686.4,562.4 C1687.4,562.6 1688.4,562.7 1689.4,562.9 C1690.4,563.0 1691.4,563.2 1692.4,563.3 C1693.4,563.5 1694.4,563.6 1695.4,563.7 C1696.4,563.9 1697.4,564.0 1698.4,564.2 C1699.4,564.3 1700.4,564.4 1701.4,564.6 C1702.4,564.7 1703.4,564.9 1704.4,565.0 C1705.4,565.1 1706.4,565.2 1707.4,565.4 C1708.4,565.5 1709.4,565.6 1710.4,565.8 C1711.4,565.9 1712.4,566.0 1713.4,566.1 C1714.4,566.3 1715.5,566.4 1716.5,566.5 C1717.5,566.6 1718.5,566.7 1719.5,566.9 C1720.5,567.0 1721.5,567.1 1722.5,567.2 C1723.5,567.3 1724.5,567.4 1725.5,567.6 C1726.5,567.7 1727.5,567.8 1728.5,567.9 C1729.5,568.0 1730.5,568.1 1731.5,568.2 C1732.5,568.3 1733.5,568.4 1734.5,568.5 C1735.5,568.6 1736.5,568.7 1737.5,568.8 C1738.5,568.9 1739.5,569.0 1740.5,569.1 C1741.5,569.2 1742.5,569.3 1743.5,569.4 C1744.5,569.5 1745.5,569.6 1746.5,569.7 C1747.5,569.8 1748.5,569.9 1749.5,570.0 C1750.5,570.1 1751.5,570.2 1752.5,570.3 C1753.5,570.4 1754.5,570.5 1755.5,570.5 C1756.5,570.6 1757.5,570.7 1758.5,570.8 C1759.5,570.9 1760.5,571.0 1761.5,571.1 C1762.5,571.1 1763.5,571.2 1764.6,571.3 C1765.6,571.4 1766.6,571.5 1767.6,571.5 C1768.6,571.6 1769.6,571.7 1770.6,571.8 C1771.6,571.8 1772.6,571.9 1773.6,572.0 C1774.6,572.1 1775.6,572.1 1776.6,572.2 C1777.6,572.3 1778.6,572.4 1779.6,572.4 C1780.6,572.5 1781.6,572.6 1782.6,572.6 C1783.6,572.7 1784.6,572.8 1785.6,572.8 C1786.6,572.9 1787.6,573.0 1788.6,573.0 C1789.6,573.1 1790.6,573.2 1791.6,573.2 C1792.6,573.3 1793.6,573.3 1794.6,573.4 C1795.6,573.5 1796.6,573.5 1797.6,573.6 C1798.6,573.6 1799.6,573.7 1800.6,573.7 C1801.6,573.8 1802.6,573.9 1803.6,573.9 C1804.6,574.0 1805.6,574.0 1806.6,574.1 C1807.6,574.1 1808.6,574.2 1809.6,574.2 C1810.6,574.3 1811.6,574.3 1812.6,574.4 C1813.7,574.4 1814.7,574.5 1815.7,574.5 C1816.7,574.6 1817.7,574.6 1818.7,574.7 C1819.7,574.7 1820.7,574.8 1821.7,574.8 C1822.7,574.9 1823.7,574.9 1824.7,575.0 C1825.7,575.0 1826.7,575.0 1827.7,575.1 C1828.7,575.1 1829.7,575.2 1830.7,575.2 C1831.7,575.3 1832.7,575.3 1833.7,575.3 C1834.7,575.4 1835.7,575.4 1836.7,575.5 C1837.7,575.5 1838.7,575.5 1839.7,575.6 C1840.7,575.6 1841.7,575.6 1842.7,575.7 C1843.7,575.7 1844.7,575.7 1845.7,575.8 C1846.7,575.8 1847.7,575.9 1848.7,575.9 C1849.7,575.9 1850.7,576.0 1851.7,576.0 C1852.7,576.0 1853.7,576.1 1854.7,576.1 C1855.7,576.1 1856.7,576.1 1857.7,576.2 C1858.7,576.2 1859.7,576.2 1860.7,576.3 C1861.8,576.3 1862.8,576.3 1863.8,576.4 C1864.8,576.4 1865.8,576.4 1866.8,576.4 C1867.8,576.5 1868.8,576.5 1869.8,576.5 C1870.8,576.6 1871.8,576.6 1872.8,576.6 C1873.8,576.6 1874.8,576.7 1875.8,576.7 C1876.8,576.7 1877.8,576.7 1878.8,576.8 C1879.8,576.8 1880.8,576.8 1881.8,576.8 C1882.8,576.9 1883.8,576.9 1884.8,576.9 C1885.8,576.9 1886.8,577.0 1887.8,577.0 C1888.8,577.0 1889.8,577.0 1890.8,577.0 C1891.8,577.1 1892.8,577.1 1893.8,577.1 C1894.8,577.1 1895.8,577.2 1896.8,577.2 C1897.8,577.2 1898.8,577.2 1899.8,577.2 C1900.8,577.3 1901.8,577.3 1902.8,577.3 C1903.8,577.3 1904.8,577.4 1905.8,577.4 C1906.8,577.4 1907.8,577.4 1908.8,577.4 C1909.8,577.5 1910.9,577.5 1911.9,577.5 C1912.9,577.5 1913.9,577.5 1914.9,577.6 C1915.9,577.6 1916.9,577.6 1917.9,577.6 C1918.9,577.6 1919.9,577.6 1920.9,577.7 C1921.9,577.7 1922.9,577.7 1923.9,577.7 C1924.9,577.7 1925.9,577.8 1926.9,577.8 C1927.9,577.8 1928.9,577.8 1929.9,577.8 C1930.9,577.9 1931.9,577.9 1932.9,577.9 C1933.9,577.9 1934.9,577.9 1935.9,578.0 C1936.9,578.0 1937.9,578.0 1938.9,578.0 C1939.9,578.0 1940.9,578.0 1941.9,578.1 C1942.9,578.1 1943.9,578.1 1944.9,578.1 C1945.9,578.1 1946.9,578.2 1947.9,578.2 C1948.9,578.2 1949.9,578.2 1950.9,578.2 C1951.9,578.3 1952.9,578.3 1953.9,578.3 C1954.9,578.3 1955.9,578.3 1956.9,578.4 C1957.9,578.4 1958.9,578.4 1960.0,578.4 C1961.0,578.4 1962.0,578.5 1963.0,578.5 C1964.0,578.5 1965.0,578.5 1966.0,578.6 C1967.0,578.6 1968.0,578.6 1969.0,578.6 C1970.0,578.6 1971.0,578.7 1972.0,578.7 C1973.0,578.7 1974.0,578.7 1975.0,578.8 C1976.0,578.8 1977.0,578.8 1978.0,578.8 C1979.0,578.9 1980.0,578.9 1981.0,578.9 C1982.0,578.9 1983.5,579.0 1984.0,579.0" stroke="#000000"/>
<polygon points="1196.5,242.0 1196.5,222.0 1200.5,214.0 1205.9,213.5 1208.0,224.0 1210.0,235.0 1209.5,241.0 1200.0,243.5" fill="#000" stroke="#000" stroke-width="2"/>
</g>
</g>
</svg>
</body></html>
